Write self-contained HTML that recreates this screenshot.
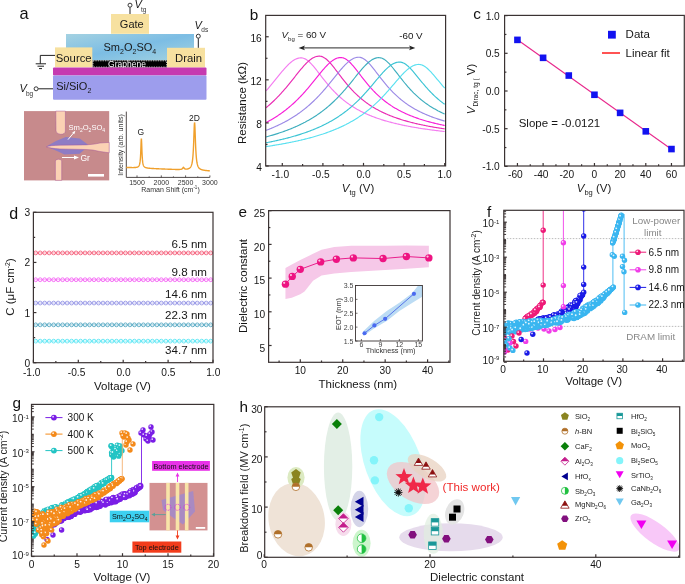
<!DOCTYPE html>
<html><head><meta charset="utf-8"><style>
html,body{margin:0;padding:0;background:#fff;width:685px;height:584px;overflow:hidden}
svg{display:block;will-change:transform}
text{font-family:"Liberation Sans", sans-serif}
</style></head><body>
<svg width="685" height="584" viewBox="0 0 685 584">
<rect width="685" height="584" fill="#fff"/>
<defs><g id="mee1a78_2p7"><circle r="2.7" fill="#ee1a78"/><circle cx="-0.8" cy="-0.9" r="0.9" fill="#fff" opacity="0.85"/></g><g id="m1a1ae6_2p7"><circle r="2.7" fill="#1a1ae6"/><circle cx="-0.8" cy="-0.9" r="0.9" fill="#fff" opacity="0.85"/></g><g id="mf03ee8_2p7"><circle r="2.7" fill="#f03ee8"/><circle cx="-0.8" cy="-0.9" r="0.9" fill="#fff" opacity="0.85"/></g><g id="m3ab6f0_2p7"><circle r="2.7" fill="#3ab6f0"/><circle cx="-0.8" cy="-0.9" r="0.9" fill="#fff" opacity="0.85"/></g><g id="mee1a78_2p8"><circle r="2.8" fill="#ee1a78"/><circle cx="-0.8" cy="-0.9" r="0.9" fill="#fff" opacity="0.85"/></g><g id="mf03ee8_2p8"><circle r="2.8" fill="#f03ee8"/><circle cx="-0.8" cy="-0.9" r="0.9" fill="#fff" opacity="0.85"/></g><g id="m1a1ae6_2p8"><circle r="2.8" fill="#1a1ae6"/><circle cx="-0.8" cy="-0.9" r="0.9" fill="#fff" opacity="0.85"/></g><g id="m3ab6f0_2p8"><circle r="2.8" fill="#3ab6f0"/><circle cx="-0.8" cy="-0.9" r="0.9" fill="#fff" opacity="0.85"/></g><g id="m22c4c4_2p7"><circle r="2.7" fill="#22c4c4"/><circle cx="-0.8" cy="-0.9" r="0.9" fill="#fff" opacity="0.85"/></g><g id="m7a1ee6_2p7"><circle r="2.7" fill="#7a1ee6"/><circle cx="-0.8" cy="-0.9" r="0.9" fill="#fff" opacity="0.85"/></g><g id="mf48a1a_2p7"><circle r="2.7" fill="#f48a1a"/><circle cx="-0.8" cy="-0.9" r="0.9" fill="#fff" opacity="0.85"/></g><g id="m7a1ee6_2p9"><circle r="2.9" fill="#7a1ee6"/><circle cx="-0.8" cy="-0.9" r="0.9" fill="#fff" opacity="0.85"/></g><g id="mf48a1a_2p9"><circle r="2.9" fill="#f48a1a"/><circle cx="-0.8" cy="-0.9" r="0.9" fill="#fff" opacity="0.85"/></g><g id="m22c4c4_2p9"><circle r="2.9" fill="#22c4c4"/><circle cx="-0.8" cy="-0.9" r="0.9" fill="#fff" opacity="0.85"/></g></defs>
<text x="19.6" y="19.1" font-size="16.4" text-anchor="start" fill="#111" >a</text>
<defs><linearGradient id="smg" x1="0" y1="0" x2="1" y2="1"><stop offset="0" stop-color="#a4d2e2"/><stop offset="0.5" stop-color="#7cbde4"/><stop offset="1" stop-color="#a6d4e0"/></linearGradient></defs>
<rect x="66" y="34" width="128" height="26.5" fill="url(#smg)" stroke="none" stroke-width="1" />
<rect x="111" y="14" width="38" height="19.8" fill="#f7e1a0" stroke="none" stroke-width="1" />
<text x="131.8" y="28" font-size="11" text-anchor="middle" fill="#1a1a1a" >Gate</text>
<line x1="130" y1="14" x2="130" y2="7.3" stroke="#222" stroke-width="1" />
<circle cx="130" cy="5.2" r="2" fill="#fff" stroke="#222" stroke-width="0.9" />
<text x="134.5" y="8" font-size="11" text-anchor="start" fill="#1a1a1a" font-style="italic">V</text>
<text x="141" y="12.3" font-size="6.5" text-anchor="start" fill="#333" >tg</text>
<text x="103.5" y="51.3" font-size="11" fill="#1a1a1a">Sm<tspan font-size="7" dy="3">2</tspan><tspan dy="-3">O</tspan><tspan font-size="7" dy="3">2</tspan><tspan dy="-3">SO</tspan><tspan font-size="7" dy="3">4</tspan></text>
<rect x="92.5" y="60.3" width="74.5" height="7.2" fill="#000" stroke="none" stroke-width="1" />
<rect x="93" y="60.8" width="73.5" height="6.2" fill="none" stroke="#fff" stroke-width="0.7" stroke-dasharray="1.3 1.1"/>
<text x="127" y="67" font-size="8.5" text-anchor="middle" fill="#fff" >Graphene</text>
<rect x="55" y="47.4" width="37.3" height="19.9" fill="#f7e1a0" stroke="none" stroke-width="1" />
<text x="55.8" y="62" font-size="11.3" text-anchor="start" fill="#1a1a1a" >Source</text>
<rect x="167" y="47.8" width="38" height="19.7" fill="#f7e1a0" stroke="none" stroke-width="1" />
<text x="175" y="61.7" font-size="11.3" text-anchor="start" fill="#1a1a1a" >Drain</text>
<line x1="198.3" y1="47.8" x2="198.3" y2="38.2" stroke="#222" stroke-width="1" />
<circle cx="198.3" cy="36.2" r="2" fill="#fff" stroke="#222" stroke-width="0.9" />
<text x="194.5" y="28.5" font-size="11" text-anchor="start" fill="#1a1a1a" font-style="italic">V</text>
<text x="201.3" y="32.3" font-size="6.5" text-anchor="start" fill="#333" >ds</text>
<path d="M55 55.4 H40.3 V63.8" fill="none" stroke="#222" stroke-width="1" />
<line x1="35.7" y1="63.8" x2="46" y2="63.8" stroke="#222" stroke-width="1" />
<line x1="37.5" y1="66.2" x2="44" y2="66.2" stroke="#222" stroke-width="1" />
<line x1="39" y1="68.6" x2="42" y2="68.6" stroke="#222" stroke-width="1" />
<rect x="53" y="67.6" width="153.5" height="8" fill="#c63ab0" stroke="none" stroke-width="1" rx="1"/>
<rect x="53" y="75.5" width="153.5" height="24.2" fill="#9d9ded" stroke="none" stroke-width="1" rx="1"/>
<text x="56.2" y="90.4" font-size="11" fill="#1a1a1a">Si/SiO<tspan font-size="7" dy="3">2</tspan></text>
<line x1="38.2" y1="88.8" x2="53" y2="88.8" stroke="#222" stroke-width="1" />
<circle cx="36.1" cy="88.8" r="2" fill="#fff" stroke="#222" stroke-width="0.9" />
<text x="19.5" y="92" font-size="11" text-anchor="start" fill="#1a1a1a" font-style="italic">V</text>
<text x="26" y="96" font-size="6.5" text-anchor="start" fill="#333" >bg</text>
<rect x="24" y="111.1" width="85.2" height="69.3" fill="#c78a8c" stroke="none" stroke-width="1" />
<path d="M46.3 146.6 L56 141 L65.8 137 L79.7 138.6 L88.5 145 L84 150 L79.7 153.7 L64.4 154.5 L57 151 Z" fill="#8e7cc4" stroke="none" stroke-width="1" />
<path d="M55.8 111.1 H65.4 V131 Q65 134.5 60.5 134.3 Q56.3 134 56 131 Z" fill="#fbd2b4" stroke="#a0509a" stroke-width="0.45" />
<path d="M55.4 161 Q55.6 159.2 58.5 159.2 Q61.7 159.3 61.7 161 V180.4 H55.4 Z" fill="#fbd2b4" stroke="#a0509a" stroke-width="0.45" />
<path d="M46.3 146.8 Q50 145.4 60 145.2 L86 144.9 Q96 144.2 100 143 L109.2 142.4 V152.8 L100 151.5 Q93 149.6 86 149.5 L60 148.9 Q50 148.4 46.3 146.8 Z" fill="#fbd2b4" stroke="#a0509a" stroke-width="0.45" />
<text x="68.5" y="130" font-size="7.6" fill="#fff">Sm<tspan font-size="5" dy="2">2</tspan><tspan dy="-2">O</tspan><tspan font-size="5" dy="2">2</tspan><tspan dy="-2">SO</tspan><tspan font-size="5" dy="2">4</tspan></text>
<line x1="68" y1="139.6" x2="74.5" y2="131.8" stroke="#fff" stroke-width="1" />
<path d="M75.3 130.8 L72.2 132.4 L74.3 134.2 Z" fill="#fff" stroke="none" stroke-width="1" />
<line x1="62" y1="157.5" x2="75" y2="157.5" stroke="#fff" stroke-width="1" />
<path d="M79 157.5 L74 155.4 L74 159.6 Z" fill="#fff" stroke="none" stroke-width="1" />
<text x="80.5" y="160.7" font-size="8.5" text-anchor="start" fill="#fff" >Gr</text>
<rect x="88" y="174" width="16" height="2.6" fill="#fff" stroke="none" stroke-width="1" />
<line x1="126.3" y1="111.6" x2="126.3" y2="177.4" stroke="#3b3333" stroke-width="0.9" />
<line x1="126.3" y1="177.4" x2="209.8" y2="177.4" stroke="#3b3333" stroke-width="0.9" />
<line x1="137" y1="177.4" x2="137" y2="175.4" stroke="#3b3333" stroke-width="0.8" />
<text x="137" y="184.7" font-size="7" text-anchor="middle" fill="#333" >1500</text>
<line x1="161.3" y1="177.4" x2="161.3" y2="175.4" stroke="#3b3333" stroke-width="0.8" />
<text x="161.3" y="184.7" font-size="7" text-anchor="middle" fill="#333" >2000</text>
<line x1="185.6" y1="177.4" x2="185.6" y2="175.4" stroke="#3b3333" stroke-width="0.8" />
<text x="185.6" y="184.7" font-size="7" text-anchor="middle" fill="#333" >2500</text>
<line x1="209.9" y1="177.4" x2="209.9" y2="175.4" stroke="#3b3333" stroke-width="0.8" />
<text x="209.9" y="184.7" font-size="7" text-anchor="middle" fill="#333" >3000</text>
<line x1="149.15" y1="177.4" x2="149.15" y2="176.2" stroke="#3b3333" stroke-width="0.6" />
<line x1="173.45" y1="177.4" x2="173.45" y2="176.2" stroke="#3b3333" stroke-width="0.6" />
<line x1="197.75" y1="177.4" x2="197.75" y2="176.2" stroke="#3b3333" stroke-width="0.6" />
<text x="170.5" y="192" font-size="7" text-anchor="middle" fill="#333">Raman Shift (cm<tspan font-size="4.5" dy="-3">-1</tspan><tspan dy="3">)</tspan></text>
<text x="0" y="0" font-size="7" text-anchor="middle" fill="#333" transform="translate(122.5 145) rotate(-90)">Intensity (arb. units)</text>
<path d="M126.3 167.43 L126.49 167.43 L126.69 167.44 L126.88 167.45 L127.08 167.45 L127.27 167.46 L127.47 167.47 L127.66 167.47 L127.86 167.48 L128.05 167.49 L128.24 167.49 L128.44 167.5 L128.63 167.5 L128.83 167.51 L129.02 167.51 L129.22 167.52 L129.41 167.53 L129.6 167.53 L129.8 167.54 L129.99 167.54 L130.19 167.54 L130.38 167.55 L130.58 167.55 L130.77 167.56 L130.97 167.56 L131.16 167.56 L131.35 167.57 L131.55 167.57 L131.74 167.57 L131.94 167.58 L132.13 167.58 L132.33 167.58 L132.52 167.58 L132.72 167.58 L132.91 167.58 L133.1 167.58 L133.3 167.58 L133.49 167.58 L133.69 167.57 L133.88 167.57 L134.08 167.56 L134.27 167.56 L134.46 167.55 L134.66 167.54 L134.85 167.53 L135.05 167.52 L135.24 167.51 L135.44 167.49 L135.63 167.48 L135.83 167.46 L136.02 167.43 L136.21 167.4 L136.41 167.37 L136.6 167.34 L136.8 167.29 L136.99 167.25 L137.19 167.19 L137.38 167.12 L137.58 167.05 L137.77 166.96 L137.96 166.85 L138.16 166.72 L138.35 166.57 L138.55 166.38 L138.74 166.16 L138.94 165.88 L139.13 165.53 L139.32 165.09 L139.52 164.52 L139.71 163.78 L139.91 162.79 L140.1 161.44 L140.3 159.58 L140.49 156.97 L140.69 153.35 L140.88 148.57 L141.07 143.19 L141.27 139.21 L141.46 139.22 L141.66 143.22 L141.85 148.62 L142.05 153.41 L142.24 157.05 L142.44 159.67 L142.63 161.55 L142.82 162.91 L143.02 163.92 L143.21 164.68 L143.41 165.26 L143.6 165.72 L143.8 166.09 L143.99 166.38 L144.18 166.62 L144.38 166.82 L144.57 166.99 L144.77 167.14 L144.96 167.26 L145.16 167.37 L145.35 167.46 L145.55 167.54 L145.74 167.62 L145.93 167.68 L146.13 167.74 L146.32 167.79 L146.52 167.84 L146.71 167.88 L146.91 167.92 L147.1 167.96 L147.3 167.99 L147.49 168.03 L147.68 168.06 L147.88 168.08 L148.07 168.11 L148.27 168.14 L148.46 168.16 L148.66 168.18 L148.85 168.2 L149.04 168.22 L149.24 168.24 L149.43 168.26 L149.63 168.28 L149.82 168.29 L150.02 168.31 L150.21 168.33 L150.41 168.34 L150.6 168.36 L150.79 168.37 L150.99 168.39 L151.18 168.4 L151.38 168.41 L151.57 168.43 L151.77 168.44 L151.96 168.45 L152.16 168.46 L152.35 168.48 L152.54 168.49 L152.74 168.5 L152.93 168.51 L153.13 168.52 L153.32 168.53 L153.52 168.55 L153.71 168.56 L153.9 168.57 L154.1 168.58 L154.29 168.59 L154.49 168.6 L154.68 168.61 L154.88 168.62 L155.07 168.63 L155.27 168.64 L155.46 168.65 L155.65 168.66 L155.85 168.67 L156.04 168.68 L156.24 168.69 L156.43 168.7 L156.63 168.71 L156.82 168.72 L157.02 168.73 L157.21 168.74 L157.4 168.74 L157.6 168.75 L157.79 168.76 L157.99 168.77 L158.18 168.78 L158.38 168.79 L158.57 168.8 L158.76 168.81 L158.96 168.82 L159.15 168.83 L159.35 168.83 L159.54 168.84 L159.74 168.85 L159.93 168.86 L160.13 168.87 L160.32 168.88 L160.51 168.89 L160.71 168.89 L160.9 168.9 L161.1 168.91 L161.29 168.92 L161.49 168.93 L161.68 168.94 L161.88 168.94 L162.07 168.95 L162.26 168.96 L162.46 168.97 L162.65 168.98 L162.85 168.99 L163.04 168.99 L163.24 169 L163.43 169.01 L163.62 169.02 L163.82 169.03 L164.01 169.03 L164.21 169.04 L164.4 169.05 L164.6 169.06 L164.79 169.07 L164.99 169.07 L165.18 169.08 L165.37 169.09 L165.57 169.1 L165.76 169.11 L165.96 169.11 L166.15 169.12 L166.35 169.13 L166.54 169.14 L166.74 169.14 L166.93 169.15 L167.12 169.16 L167.32 169.17 L167.51 169.17 L167.71 169.18 L167.9 169.19 L168.1 169.2 L168.29 169.2 L168.48 169.21 L168.68 169.22 L168.87 169.22 L169.07 169.23 L169.26 169.24 L169.46 169.25 L169.65 169.25 L169.85 169.26 L170.04 169.27 L170.23 169.27 L170.43 169.28 L170.62 169.29 L170.82 169.29 L171.01 169.3 L171.21 169.31 L171.4 169.31 L171.6 169.32 L171.79 169.33 L171.98 169.33 L172.18 169.34 L172.37 169.35 L172.57 169.35 L172.76 169.36 L172.96 169.36 L173.15 169.37 L173.34 169.37 L173.54 169.38 L173.73 169.39 L173.93 169.39 L174.12 169.4 L174.32 169.4 L174.51 169.41 L174.71 169.41 L174.9 169.42 L175.09 169.42 L175.29 169.43 L175.48 169.43 L175.68 169.43 L175.87 169.44 L176.07 169.44 L176.26 169.45 L176.46 169.45 L176.65 169.45 L176.84 169.45 L177.04 169.46 L177.23 169.46 L177.43 169.46 L177.62 169.46 L177.82 169.46 L178.01 169.46 L178.2 169.46 L178.4 169.46 L178.59 169.46 L178.79 169.46 L178.98 169.45 L179.18 169.45 L179.37 169.44 L179.57 169.43 L179.76 169.42 L179.95 169.41 L180.15 169.4 L180.34 169.38 L180.54 169.36 L180.73 169.34 L180.93 169.31 L181.12 169.27 L181.32 169.22 L181.51 169.16 L181.7 169.09 L181.9 168.99 L182.09 168.87 L182.29 168.71 L182.48 168.5 L182.68 168.24 L182.87 167.93 L183.06 167.62 L183.26 167.38 L183.45 167.32 L183.65 167.47 L183.84 167.74 L184.04 168.04 L184.23 168.32 L184.43 168.54 L184.62 168.71 L184.81 168.83 L185.01 168.93 L185.2 168.99 L185.4 169.04 L185.59 169.07 L185.79 169.09 L185.98 169.11 L186.18 169.11 L186.37 169.1 L186.56 169.09 L186.76 169.08 L186.95 169.06 L187.15 169.03 L187.34 168.99 L187.54 168.96 L187.73 168.91 L187.92 168.86 L188.12 168.8 L188.31 168.74 L188.51 168.67 L188.7 168.59 L188.9 168.5 L189.09 168.39 L189.29 168.28 L189.48 168.15 L189.67 168.01 L189.87 167.84 L190.06 167.66 L190.26 167.45 L190.45 167.21 L190.65 166.94 L190.84 166.62 L191.04 166.26 L191.23 165.83 L191.42 165.34 L191.62 164.76 L191.81 164.07 L192.01 163.25 L192.2 162.26 L192.4 161.06 L192.59 159.6 L192.78 157.8 L192.98 155.58 L193.17 152.82 L193.37 149.42 L193.56 145.26 L193.76 140.33 L193.95 134.82 L194.15 129.28 L194.34 124.77 L194.53 122.52 L194.73 123.31 L194.92 126.85 L195.12 132.05 L195.31 137.69 L195.51 142.97 L195.7 147.54 L195.9 151.33 L196.09 154.41 L196.28 156.91 L196.48 158.92 L196.67 160.56 L196.87 161.9 L197.06 163 L197.26 163.92 L197.45 164.69 L197.64 165.34 L197.84 165.9 L198.03 166.37 L198.23 166.78 L198.42 167.14 L198.62 167.45 L198.81 167.73 L199.01 167.97 L199.2 168.19 L199.39 168.38 L199.59 168.55 L199.78 168.71 L199.98 168.85 L200.17 168.98 L200.37 169.09 L200.56 169.2 L200.76 169.3 L200.95 169.39 L201.14 169.47 L201.34 169.55 L201.53 169.62 L201.73 169.69 L201.92 169.75 L202.12 169.81 L202.31 169.86 L202.5 169.91 L202.7 169.96 L202.89 170.01 L203.09 170.05 L203.28 170.09 L203.48 170.13 L203.67 170.17 L203.87 170.2 L204.06 170.24 L204.25 170.27 L204.45 170.3 L204.64 170.33 L204.84 170.36 L205.03 170.39 L205.23 170.41 L205.42 170.44 L205.62 170.46 L205.81 170.49 L206 170.51 L206.2 170.53 L206.39 170.55 L206.59 170.57 L206.78 170.59 L206.98 170.61 L207.17 170.63 L207.36 170.65 L207.56 170.67 L207.75 170.69 L207.95 170.71 L208.14 170.72 L208.34 170.74 L208.53 170.76 L208.73 170.77 L208.92 170.79 L209.11 170.8 L209.31 170.82 L209.5 170.83 L209.7 170.85 L209.89 170.86" fill="none" stroke="#f0a02c" stroke-width="1.4" />
<text x="140.8" y="135" font-size="8.5" text-anchor="middle" fill="#1a1a1a" >G</text>
<text x="194.5" y="120.9" font-size="8.5" text-anchor="middle" fill="#1a1a1a" >2D</text>
<text x="249.8" y="20.3" font-size="15.3" text-anchor="start" fill="#111" >b</text>
<clipPath id="cb"><rect x="265.7" y="15.4" width="179.90000000000003" height="150.5"/></clipPath>
<path d="M266.06 90.89 L266.87 89.96 L267.68 89.02 L268.5 88.07 L269.31 87.11 L270.12 86.15 L270.93 85.17 L271.74 84.18 L272.56 83.19 L273.37 82.2 L274.18 81.2 L274.99 80.19 L275.8 79.18 L276.62 78.18 L277.43 77.17 L278.24 76.16 L279.05 75.16 L279.86 74.16 L280.68 73.17 L281.49 72.19 L282.3 71.23 L283.11 70.27 L283.92 69.33 L284.74 68.41 L285.55 67.51 L286.36 66.64 L287.17 65.79 L287.98 64.97 L288.8 64.18 L289.61 63.43 L290.42 62.71 L291.23 62.03 L292.04 61.4 L292.86 60.81 L293.67 60.27 L294.48 59.78 L295.29 59.34 L296.1 58.95 L296.92 58.63 L297.73 58.36 L298.54 58.14 L299.35 57.99 L300.16 57.9 L300.98 57.87 L301.79 57.91 L302.6 58.04 L303.41 58.24 L304.22 58.53 L305.04 58.89 L305.85 59.33 L306.66 59.84 L307.47 60.42 L308.28 61.06 L309.1 61.77 L309.91 62.52 L310.72 63.33 L311.53 64.18 L312.34 65.07 L313.16 65.99 L313.97 66.95 L314.78 67.93 L315.59 68.93 L316.4 69.95 L317.22 70.99 L318.03 72.03 L318.84 73.08 L319.65 74.13 L320.46 75.19 L321.28 76.24 L322.09 77.29 L322.9 78.33 L323.71 79.37 L324.52 80.39 L325.34 81.4 L326.15 82.41 L326.96 83.39 L327.77 84.37 L328.58 85.33 L329.4 86.27 L330.21 87.2 L331.02 88.11 L331.83 89.01 L332.64 89.89 L333.46 90.75 L334.27 91.6 L335.08 92.43 L335.89 93.24 L336.7 94.03 L337.52 94.81 L338.33 95.57 L339.14 96.32 L339.95 97.05 L340.76 97.76 L341.58 98.46 L342.39 99.15 L343.2 99.82 L344.01 100.47 L344.82 101.11 L345.64 101.74 L346.45 102.35 L347.26 102.95 L348.07 103.54 L348.88 104.11 L349.7 104.67 L350.51 105.22 L351.32 105.76 L352.13 106.29 L352.94 106.8 L353.76 107.3 L354.57 107.8 L355.38 108.28 L356.19 108.75 L357 109.22 L357.82 109.67 L358.63 110.11 L359.44 110.55 L360.25 110.98 L361.06 111.39 L361.88 111.8 L362.69 112.2 L363.5 112.6 L364.31 112.98 L365.12 113.36 L365.94 113.73 L366.75 114.09 L367.56 114.45 L368.37 114.8 L369.18 115.14 L370 115.48 L370.81 115.8 L371.62 116.13 L372.43 116.45 L373.24 116.76 L374.06 117.06 L374.87 117.36 L375.68 117.66 L376.49 117.95 L377.3 118.23 L378.12 118.51 L378.93 118.79 L379.74 119.06 L380.55 119.32 L381.36 119.59 L382.18 119.84 L382.99 120.09 L383.8 120.34 L384.61 120.59 L385.42 120.83 L386.24 121.06 L387.05 121.29 L387.86 121.52 L388.67 121.75 L389.48 121.97 L390.3 122.18 L391.11 122.4 L391.92 122.61 L392.73 122.81 L393.54 123.02 L394.36 123.22 L395.17 123.42 L395.98 123.61 L396.79 123.8 L397.6 123.99 L398.42 124.18 L399.23 124.36 L400.04 124.54 L400.85 124.72 L401.66 124.9 L402.48 125.07 L403.29 125.24 L404.1 125.41 L404.91 125.57 L405.72 125.74 L406.54 125.9 L407.35 126.06 L408.16 126.21 L408.97 126.37 L409.78 126.52 L410.6 126.67 L411.41 126.82 L412.22 126.96 L413.03 127.11 L413.84 127.25 L414.66 127.39 L415.47 127.53 L416.28 127.67 L417.09 127.8 L417.9 127.94 L418.72 128.07 L419.53 128.2 L420.34 128.33 L421.15 128.45 L421.96 128.58 L422.78 128.7 L423.59 128.82 L424.4 128.94 L425.21 129.06 L426.02 129.18 L426.84 129.3 L427.65 129.41 L428.46 129.53 L429.27 129.64 L430.08 129.75 L430.9 129.86 L431.71 129.97 L432.52 130.07 L433.33 130.18 L434.14 130.28 L434.96 130.39 L435.77 130.49 L436.58 130.59 L437.39 130.69 L438.2 130.79 L439.02 130.89 L439.83 130.98 L440.64 131.08 L441.45 131.17 L442.26 131.27 L443.08 131.36 L443.89 131.45 L444.7 131.54" fill="none" stroke="#f47cf0" stroke-width="1.15" clip-path="url(#cb)"/>
<path d="M266.06 107.71 L266.87 107.04 L267.68 106.36 L268.5 105.66 L269.31 104.96 L270.12 104.24 L270.93 103.51 L271.74 102.77 L272.56 102.01 L273.37 101.25 L274.18 100.47 L274.99 99.67 L275.8 98.87 L276.62 98.05 L277.43 97.22 L278.24 96.38 L279.05 95.53 L279.86 94.66 L280.68 93.78 L281.49 92.89 L282.3 91.99 L283.11 91.07 L283.92 90.14 L284.74 89.21 L285.55 88.26 L286.36 87.3 L287.17 86.33 L287.98 85.35 L288.8 84.36 L289.61 83.37 L290.42 82.36 L291.23 81.35 L292.04 80.34 L292.86 79.32 L293.67 78.3 L294.48 77.28 L295.29 76.25 L296.1 75.23 L296.92 74.21 L297.73 73.2 L298.54 72.19 L299.35 71.19 L300.16 70.2 L300.98 69.22 L301.79 68.26 L302.6 67.32 L303.41 66.39 L304.22 65.49 L305.04 64.61 L305.85 63.77 L306.66 62.95 L307.47 62.17 L308.28 61.42 L309.1 60.71 L309.91 60.05 L310.72 59.42 L311.53 58.85 L312.34 58.33 L313.16 57.85 L313.97 57.44 L314.78 57.07 L315.59 56.77 L316.4 56.52 L317.22 56.34 L318.03 56.22 L318.84 56.15 L319.65 56.16 L320.46 56.24 L321.28 56.41 L322.09 56.66 L322.9 56.99 L323.71 57.4 L324.52 57.89 L325.34 58.44 L326.15 59.07 L326.96 59.75 L327.77 60.5 L328.58 61.29 L329.4 62.14 L330.21 63.02 L331.02 63.95 L331.83 64.91 L332.64 65.89 L333.46 66.91 L334.27 67.94 L335.08 68.98 L335.89 70.04 L336.7 71.11 L337.52 72.18 L338.33 73.26 L339.14 74.33 L339.95 75.4 L340.76 76.47 L341.58 77.53 L342.39 78.58 L343.2 79.62 L344.01 80.64 L344.82 81.66 L345.64 82.66 L346.45 83.64 L347.26 84.61 L348.07 85.57 L348.88 86.51 L349.7 87.43 L350.51 88.33 L351.32 89.22 L352.13 90.09 L352.94 90.94 L353.76 91.78 L354.57 92.6 L355.38 93.4 L356.19 94.18 L357 94.95 L357.82 95.71 L358.63 96.44 L359.44 97.16 L360.25 97.87 L361.06 98.56 L361.88 99.23 L362.69 99.89 L363.5 100.54 L364.31 101.17 L365.12 101.79 L365.94 102.39 L366.75 102.98 L367.56 103.56 L368.37 104.13 L369.18 104.68 L370 105.22 L370.81 105.75 L371.62 106.27 L372.43 106.78 L373.24 107.28 L374.06 107.76 L374.87 108.24 L375.68 108.71 L376.49 109.16 L377.3 109.61 L378.12 110.05 L378.93 110.48 L379.74 110.9 L380.55 111.31 L381.36 111.72 L382.18 112.12 L382.99 112.5 L383.8 112.89 L384.61 113.26 L385.42 113.62 L386.24 113.98 L387.05 114.34 L387.86 114.68 L388.67 115.02 L389.48 115.35 L390.3 115.68 L391.11 116 L391.92 116.32 L392.73 116.63 L393.54 116.93 L394.36 117.23 L395.17 117.52 L395.98 117.81 L396.79 118.09 L397.6 118.37 L398.42 118.64 L399.23 118.91 L400.04 119.17 L400.85 119.43 L401.66 119.69 L402.48 119.94 L403.29 120.18 L404.1 120.43 L404.91 120.66 L405.72 120.9 L406.54 121.13 L407.35 121.36 L408.16 121.58 L408.97 121.8 L409.78 122.02 L410.6 122.23 L411.41 122.44 L412.22 122.64 L413.03 122.85 L413.84 123.05 L414.66 123.24 L415.47 123.44 L416.28 123.63 L417.09 123.82 L417.9 124 L418.72 124.19 L419.53 124.37 L420.34 124.54 L421.15 124.72 L421.96 124.89 L422.78 125.06 L423.59 125.23 L424.4 125.39 L425.21 125.56 L426.02 125.72 L426.84 125.88 L427.65 126.03 L428.46 126.19 L429.27 126.34 L430.08 126.49 L430.9 126.64 L431.71 126.78 L432.52 126.93 L433.33 127.07 L434.14 127.21 L434.96 127.35 L435.77 127.48 L436.58 127.62 L437.39 127.75 L438.2 127.88 L439.02 128.01 L439.83 128.14 L440.64 128.27 L441.45 128.39 L442.26 128.52 L443.08 128.64 L443.89 128.76 L444.7 128.88" fill="none" stroke="#ea2cb4" stroke-width="1.15" clip-path="url(#cb)"/>
<path d="M266.06 122.56 L266.87 122.13 L267.68 121.7 L268.5 121.26 L269.31 120.81 L270.12 120.35 L270.93 119.89 L271.74 119.42 L272.56 118.94 L273.37 118.45 L274.18 117.96 L274.99 117.46 L275.8 116.94 L276.62 116.42 L277.43 115.9 L278.24 115.36 L279.05 114.81 L279.86 114.26 L280.68 113.69 L281.49 113.12 L282.3 112.53 L283.11 111.94 L283.92 111.33 L284.74 110.72 L285.55 110.09 L286.36 109.45 L287.17 108.81 L287.98 108.15 L288.8 107.48 L289.61 106.8 L290.42 106.11 L291.23 105.4 L292.04 104.69 L292.86 103.96 L293.67 103.22 L294.48 102.47 L295.29 101.71 L296.1 100.93 L296.92 100.14 L297.73 99.34 L298.54 98.53 L299.35 97.7 L300.16 96.87 L300.98 96.02 L301.79 95.15 L302.6 94.28 L303.41 93.39 L304.22 92.5 L305.04 91.59 L305.85 90.66 L306.66 89.73 L307.47 88.79 L308.28 87.84 L309.1 86.87 L309.91 85.9 L310.72 84.92 L311.53 83.94 L312.34 82.94 L313.16 81.94 L313.97 80.94 L314.78 79.93 L315.59 78.92 L316.4 77.91 L317.22 76.9 L318.03 75.89 L318.84 74.89 L319.65 73.89 L320.46 72.9 L321.28 71.91 L322.09 70.94 L322.9 69.98 L323.71 69.04 L324.52 68.12 L325.34 67.22 L326.15 66.34 L326.96 65.49 L327.77 64.66 L328.58 63.87 L329.4 63.12 L330.21 62.4 L331.02 61.72 L331.83 61.09 L332.64 60.49 L333.46 59.95 L334.27 59.46 L335.08 59.02 L335.89 58.63 L336.7 58.31 L337.52 58.03 L338.33 57.82 L339.14 57.67 L339.95 57.58 L340.76 57.55 L341.58 57.59 L342.39 57.71 L343.2 57.92 L344.01 58.21 L344.82 58.57 L345.64 59.01 L346.45 59.53 L347.26 60.11 L348.07 60.75 L348.88 61.46 L349.7 62.21 L350.51 63.02 L351.32 63.88 L352.13 64.77 L352.94 65.7 L353.76 66.66 L354.57 67.64 L355.38 68.65 L356.19 69.67 L357 70.71 L357.82 71.76 L358.63 72.81 L359.44 73.87 L360.25 74.93 L361.06 75.98 L361.88 77.03 L362.69 78.08 L363.5 79.12 L364.31 80.15 L365.12 81.17 L365.94 82.17 L366.75 83.16 L367.56 84.14 L368.37 85.1 L369.18 86.05 L370 86.98 L370.81 87.9 L371.62 88.8 L372.43 89.68 L373.24 90.55 L374.06 91.39 L374.87 92.23 L375.68 93.04 L376.49 93.84 L377.3 94.62 L378.12 95.39 L378.93 96.13 L379.74 96.87 L380.55 97.58 L381.36 98.29 L382.18 98.97 L382.99 99.64 L383.8 100.3 L384.61 100.94 L385.42 101.57 L386.24 102.19 L387.05 102.79 L387.86 103.38 L388.67 103.95 L389.48 104.52 L390.3 105.07 L391.11 105.61 L391.92 106.14 L392.73 106.65 L393.54 107.16 L394.36 107.65 L395.17 108.14 L395.98 108.61 L396.79 109.08 L397.6 109.53 L398.42 109.98 L399.23 110.41 L400.04 110.84 L400.85 111.26 L401.66 111.67 L402.48 112.07 L403.29 112.47 L404.1 112.85 L404.91 113.23 L405.72 113.61 L406.54 113.97 L407.35 114.33 L408.16 114.68 L408.97 115.02 L409.78 115.36 L410.6 115.69 L411.41 116.01 L412.22 116.33 L413.03 116.65 L413.84 116.95 L414.66 117.25 L415.47 117.55 L416.28 117.84 L417.09 118.13 L417.9 118.41 L418.72 118.68 L419.53 118.96 L420.34 119.22 L421.15 119.48 L421.96 119.74 L422.78 119.99 L423.59 120.24 L424.4 120.49 L425.21 120.73 L426.02 120.96 L426.84 121.2 L427.65 121.43 L428.46 121.65 L429.27 121.87 L430.08 122.09 L430.9 122.31 L431.71 122.52 L432.52 122.72 L433.33 122.93 L434.14 123.13 L434.96 123.33 L435.77 123.52 L436.58 123.72 L437.39 123.91 L438.2 124.09 L439.02 124.28 L439.83 124.46 L440.64 124.64 L441.45 124.81 L442.26 124.99 L443.08 125.16 L443.89 125.33 L444.7 125.49" fill="none" stroke="#f81ed8" stroke-width="1.15" clip-path="url(#cb)"/>
<path d="M266.06 130.35 L266.87 130.04 L267.68 129.73 L268.5 129.42 L269.31 129.1 L270.12 128.77 L270.93 128.44 L271.74 128.11 L272.56 127.77 L273.37 127.42 L274.18 127.07 L274.99 126.72 L275.8 126.35 L276.62 125.99 L277.43 125.62 L278.24 125.24 L279.05 124.85 L279.86 124.46 L280.68 124.07 L281.49 123.67 L282.3 123.26 L283.11 122.84 L283.92 122.42 L284.74 121.99 L285.55 121.56 L286.36 121.12 L287.17 120.67 L287.98 120.21 L288.8 119.74 L289.61 119.27 L290.42 118.79 L291.23 118.3 L292.04 117.81 L292.86 117.3 L293.67 116.79 L294.48 116.27 L295.29 115.74 L296.1 115.2 L296.92 114.65 L297.73 114.1 L298.54 113.53 L299.35 112.95 L300.16 112.37 L300.98 111.77 L301.79 111.16 L302.6 110.55 L303.41 109.92 L304.22 109.28 L305.04 108.63 L305.85 107.97 L306.66 107.3 L307.47 106.62 L308.28 105.92 L309.1 105.22 L309.91 104.5 L310.72 103.77 L311.53 103.03 L312.34 102.28 L313.16 101.51 L313.97 100.73 L314.78 99.94 L315.59 99.14 L316.4 98.32 L317.22 97.5 L318.03 96.66 L318.84 95.8 L319.65 94.94 L320.46 94.06 L321.28 93.17 L322.09 92.27 L322.9 91.36 L323.71 90.44 L324.52 89.5 L325.34 88.56 L326.15 87.6 L326.96 86.64 L327.77 85.66 L328.58 84.68 L329.4 83.69 L330.21 82.69 L331.02 81.69 L331.83 80.68 L332.64 79.67 L333.46 78.66 L334.27 77.65 L335.08 76.63 L335.89 75.62 L336.7 74.61 L337.52 73.61 L338.33 72.62 L339.14 71.63 L339.95 70.66 L340.76 69.7 L341.58 68.75 L342.39 67.83 L343.2 66.92 L344.01 66.04 L344.82 65.19 L345.64 64.36 L346.45 63.57 L347.26 62.81 L348.07 62.09 L348.88 61.41 L349.7 60.77 L350.51 60.18 L351.32 59.64 L352.13 59.14 L352.94 58.7 L353.76 58.31 L354.57 57.98 L355.38 57.71 L356.19 57.5 L357 57.35 L357.82 57.25 L358.63 57.22 L359.44 57.26 L360.25 57.39 L361.06 57.6 L361.88 57.89 L362.69 58.25 L363.5 58.7 L364.31 59.21 L365.12 59.79 L365.94 60.44 L366.75 61.15 L367.56 61.91 L368.37 62.72 L369.18 63.58 L370 64.47 L370.81 65.4 L371.62 66.37 L372.43 67.35 L373.24 68.36 L374.06 69.39 L374.87 70.43 L375.68 71.48 L376.49 72.54 L377.3 73.6 L378.12 74.67 L378.93 75.73 L379.74 76.78 L380.55 77.83 L381.36 78.87 L382.18 79.91 L382.99 80.93 L383.8 81.94 L384.61 82.93 L385.42 83.91 L386.24 84.88 L387.05 85.83 L387.86 86.77 L388.67 87.68 L389.48 88.59 L390.3 89.47 L391.11 90.34 L391.92 91.19 L392.73 92.03 L393.54 92.84 L394.36 93.65 L395.17 94.43 L395.98 95.2 L396.79 95.95 L397.6 96.68 L398.42 97.4 L399.23 98.11 L400.04 98.8 L400.85 99.47 L401.66 100.13 L402.48 100.78 L403.29 101.41 L404.1 102.02 L404.91 102.63 L405.72 103.22 L406.54 103.8 L407.35 104.36 L408.16 104.92 L408.97 105.46 L409.78 105.99 L410.6 106.51 L411.41 107.01 L412.22 107.51 L413.03 108 L413.84 108.47 L414.66 108.94 L415.47 109.4 L416.28 109.84 L417.09 110.28 L417.9 110.71 L418.72 111.13 L419.53 111.54 L420.34 111.95 L421.15 112.34 L421.96 112.73 L422.78 113.11 L423.59 113.48 L424.4 113.85 L425.21 114.21 L426.02 114.56 L426.84 114.9 L427.65 115.24 L428.46 115.57 L429.27 115.9 L430.08 116.22 L430.9 116.53 L431.71 116.84 L432.52 117.15 L433.33 117.44 L434.14 117.73 L434.96 118.02 L435.77 118.3 L436.58 118.58 L437.39 118.85 L438.2 119.12 L439.02 119.38 L439.83 119.64 L440.64 119.89 L441.45 120.14 L442.26 120.39 L443.08 120.63 L443.89 120.87 L444.7 121.1" fill="none" stroke="#9c8ae6" stroke-width="1.15" clip-path="url(#cb)"/>
<path d="M266.06 136.93 L266.87 136.71 L267.68 136.49 L268.5 136.26 L269.31 136.04 L270.12 135.81 L270.93 135.57 L271.74 135.34 L272.56 135.1 L273.37 134.86 L274.18 134.61 L274.99 134.36 L275.8 134.11 L276.62 133.86 L277.43 133.6 L278.24 133.33 L279.05 133.07 L279.86 132.8 L280.68 132.53 L281.49 132.25 L282.3 131.97 L283.11 131.68 L283.92 131.39 L284.74 131.1 L285.55 130.8 L286.36 130.5 L287.17 130.2 L287.98 129.89 L288.8 129.57 L289.61 129.25 L290.42 128.93 L291.23 128.6 L292.04 128.27 L292.86 127.93 L293.67 127.58 L294.48 127.23 L295.29 126.88 L296.1 126.52 L296.92 126.16 L297.73 125.79 L298.54 125.41 L299.35 125.03 L300.16 124.64 L300.98 124.24 L301.79 123.84 L302.6 123.44 L303.41 123.02 L304.22 122.6 L305.04 122.18 L305.85 121.74 L306.66 121.3 L307.47 120.85 L308.28 120.4 L309.1 119.94 L309.91 119.47 L310.72 118.99 L311.53 118.5 L312.34 118.01 L313.16 117.51 L313.97 116.99 L314.78 116.48 L315.59 115.95 L316.4 115.41 L317.22 114.86 L318.03 114.31 L318.84 113.74 L319.65 113.17 L320.46 112.59 L321.28 111.99 L322.09 111.39 L322.9 110.77 L323.71 110.15 L324.52 109.51 L325.34 108.87 L326.15 108.21 L326.96 107.54 L327.77 106.86 L328.58 106.17 L329.4 105.47 L330.21 104.75 L331.02 104.02 L331.83 103.29 L332.64 102.54 L333.46 101.77 L334.27 101 L335.08 100.21 L335.89 99.41 L336.7 98.6 L337.52 97.77 L338.33 96.94 L339.14 96.09 L339.95 95.23 L340.76 94.35 L341.58 93.47 L342.39 92.57 L343.2 91.66 L344.01 90.74 L344.82 89.81 L345.64 88.87 L346.45 87.92 L347.26 86.95 L348.07 85.98 L348.88 85.01 L349.7 84.02 L350.51 83.03 L351.32 82.03 L352.13 81.03 L352.94 80.02 L353.76 79.01 L354.57 78 L355.38 76.99 L356.19 75.98 L357 74.98 L357.82 73.98 L358.63 72.99 L359.44 72.01 L360.25 71.04 L361.06 70.08 L361.88 69.14 L362.69 68.22 L363.5 67.32 L364.31 66.44 L365.12 65.59 L365.94 64.77 L366.75 63.98 L367.56 63.22 L368.37 62.5 L369.18 61.82 L370 61.19 L370.81 60.6 L371.62 60.06 L372.43 59.57 L373.24 59.13 L374.06 58.74 L374.87 58.41 L375.68 58.14 L376.49 57.93 L377.3 57.78 L378.12 57.68 L378.93 57.65 L379.74 57.7 L380.55 57.82 L381.36 58.03 L382.18 58.31 L382.99 58.68 L383.8 59.12 L384.61 59.63 L385.42 60.21 L386.24 60.86 L387.05 61.56 L387.86 62.32 L388.67 63.12 L389.48 63.98 L390.3 64.87 L391.11 65.8 L391.92 66.75 L392.73 67.74 L393.54 68.74 L394.36 69.77 L395.17 70.8 L395.98 71.85 L396.79 72.9 L397.6 73.96 L398.42 75.01 L399.23 76.07 L400.04 77.12 L400.85 78.16 L401.66 79.2 L402.48 80.23 L403.29 81.24 L404.1 82.25 L404.91 83.24 L405.72 84.22 L406.54 85.18 L407.35 86.13 L408.16 87.06 L408.97 87.97 L409.78 88.87 L410.6 89.75 L411.41 90.61 L412.22 91.46 L413.03 92.29 L413.84 93.11 L414.66 93.9 L415.47 94.68 L416.28 95.45 L417.09 96.2 L417.9 96.93 L418.72 97.64 L419.53 98.35 L420.34 99.03 L421.15 99.7 L421.96 100.36 L422.78 101 L423.59 101.63 L424.4 102.24 L425.21 102.84 L426.02 103.43 L426.84 104.01 L427.65 104.57 L428.46 105.12 L429.27 105.66 L430.08 106.19 L430.9 106.7 L431.71 107.21 L432.52 107.7 L433.33 108.19 L434.14 108.66 L434.96 109.12 L435.77 109.58 L436.58 110.02 L437.39 110.46 L438.2 110.89 L439.02 111.3 L439.83 111.71 L440.64 112.12 L441.45 112.51 L442.26 112.9 L443.08 113.28 L443.89 113.65 L444.7 114.01" fill="none" stroke="#3eaebe" stroke-width="1.15" clip-path="url(#cb)"/>
<path d="M266.06 142.78 L266.87 142.63 L267.68 142.47 L268.5 142.31 L269.31 142.15 L270.12 141.98 L270.93 141.82 L271.74 141.65 L272.56 141.48 L273.37 141.31 L274.18 141.14 L274.99 140.97 L275.8 140.79 L276.62 140.61 L277.43 140.43 L278.24 140.25 L279.05 140.06 L279.86 139.87 L280.68 139.68 L281.49 139.49 L282.3 139.3 L283.11 139.1 L283.92 138.9 L284.74 138.7 L285.55 138.5 L286.36 138.29 L287.17 138.08 L287.98 137.87 L288.8 137.65 L289.61 137.44 L290.42 137.22 L291.23 136.99 L292.04 136.77 L292.86 136.54 L293.67 136.31 L294.48 136.07 L295.29 135.84 L296.1 135.59 L296.92 135.35 L297.73 135.1 L298.54 134.85 L299.35 134.6 L300.16 134.34 L300.98 134.08 L301.79 133.81 L302.6 133.54 L303.41 133.27 L304.22 132.99 L305.04 132.71 L305.85 132.43 L306.66 132.14 L307.47 131.85 L308.28 131.55 L309.1 131.25 L309.91 130.95 L310.72 130.64 L311.53 130.32 L312.34 130 L313.16 129.68 L313.97 129.35 L314.78 129.02 L315.59 128.68 L316.4 128.33 L317.22 127.98 L318.03 127.63 L318.84 127.27 L319.65 126.9 L320.46 126.53 L321.28 126.16 L322.09 125.77 L322.9 125.38 L323.71 124.99 L324.52 124.59 L325.34 124.18 L326.15 123.76 L326.96 123.34 L327.77 122.92 L328.58 122.48 L329.4 122.04 L330.21 121.59 L331.02 121.13 L331.83 120.67 L332.64 120.19 L333.46 119.71 L334.27 119.23 L335.08 118.73 L335.89 118.22 L336.7 117.71 L337.52 117.19 L338.33 116.66 L339.14 116.12 L339.95 115.57 L340.76 115.01 L341.58 114.44 L342.39 113.87 L343.2 113.28 L344.01 112.68 L344.82 112.07 L345.64 111.46 L346.45 110.83 L347.26 110.19 L348.07 109.54 L348.88 108.88 L349.7 108.21 L350.51 107.52 L351.32 106.83 L352.13 106.12 L352.94 105.4 L353.76 104.68 L354.57 103.93 L355.38 103.18 L356.19 102.42 L357 101.64 L357.82 100.85 L358.63 100.05 L359.44 99.24 L360.25 98.41 L361.06 97.58 L361.88 96.73 L362.69 95.87 L363.5 95 L364.31 94.12 L365.12 93.23 L365.94 92.33 L366.75 91.42 L367.56 90.5 L368.37 89.57 L369.18 88.63 L370 87.68 L370.81 86.73 L371.62 85.77 L372.43 84.81 L373.24 83.85 L374.06 82.88 L374.87 81.91 L375.68 80.94 L376.49 79.97 L377.3 79 L378.12 78.04 L378.93 77.09 L379.74 76.14 L380.55 75.2 L381.36 74.28 L382.18 73.37 L382.99 72.48 L383.8 71.61 L384.61 70.76 L385.42 69.93 L386.24 69.14 L387.05 68.37 L387.86 67.63 L388.67 66.93 L389.48 66.27 L390.3 65.64 L391.11 65.06 L391.92 64.53 L392.73 64.04 L393.54 63.61 L394.36 63.22 L395.17 62.89 L395.98 62.61 L396.79 62.39 L397.6 62.22 L398.42 62.12 L399.23 62.07 L400.04 62.09 L400.85 62.18 L401.66 62.36 L402.48 62.61 L403.29 62.93 L404.1 63.33 L404.91 63.8 L405.72 64.33 L406.54 64.93 L407.35 65.58 L408.16 66.28 L408.97 67.04 L409.78 67.84 L410.6 68.67 L411.41 69.55 L412.22 70.45 L413.03 71.38 L413.84 72.33 L414.66 73.3 L415.47 74.28 L416.28 75.27 L417.09 76.27 L417.9 77.27 L418.72 78.28 L419.53 79.28 L420.34 80.28 L421.15 81.28 L421.96 82.27 L422.78 83.25 L423.59 84.22 L424.4 85.18 L425.21 86.12 L426.02 87.06 L426.84 87.98 L427.65 88.88 L428.46 89.77 L429.27 90.65 L430.08 91.5 L430.9 92.35 L431.71 93.17 L432.52 93.99 L433.33 94.78 L434.14 95.56 L434.96 96.32 L435.77 97.07 L436.58 97.8 L437.39 98.52 L438.2 99.22 L439.02 99.9 L439.83 100.57 L440.64 101.23 L441.45 101.87 L442.26 102.5 L443.08 103.12 L443.89 103.72 L444.7 104.3" fill="none" stroke="#3cc4d4" stroke-width="1.15" clip-path="url(#cb)"/>
<path d="M266.06 146.56 L266.87 146.44 L267.68 146.32 L268.5 146.2 L269.31 146.07 L270.12 145.95 L270.93 145.82 L271.74 145.7 L272.56 145.57 L273.37 145.44 L274.18 145.31 L274.99 145.18 L275.8 145.04 L276.62 144.91 L277.43 144.77 L278.24 144.64 L279.05 144.5 L279.86 144.36 L280.68 144.22 L281.49 144.07 L282.3 143.93 L283.11 143.78 L283.92 143.63 L284.74 143.48 L285.55 143.33 L286.36 143.18 L287.17 143.02 L287.98 142.87 L288.8 142.71 L289.61 142.55 L290.42 142.39 L291.23 142.22 L292.04 142.06 L292.86 141.89 L293.67 141.72 L294.48 141.55 L295.29 141.38 L296.1 141.2 L296.92 141.02 L297.73 140.85 L298.54 140.66 L299.35 140.48 L300.16 140.29 L300.98 140.11 L301.79 139.91 L302.6 139.72 L303.41 139.53 L304.22 139.33 L305.04 139.13 L305.85 138.92 L306.66 138.72 L307.47 138.51 L308.28 138.3 L309.1 138.09 L309.91 137.87 L310.72 137.65 L311.53 137.43 L312.34 137.21 L313.16 136.98 L313.97 136.75 L314.78 136.51 L315.59 136.28 L316.4 136.04 L317.22 135.79 L318.03 135.55 L318.84 135.3 L319.65 135.05 L320.46 134.79 L321.28 134.53 L322.09 134.26 L322.9 134 L323.71 133.72 L324.52 133.45 L325.34 133.17 L326.15 132.89 L326.96 132.6 L327.77 132.31 L328.58 132.01 L329.4 131.71 L330.21 131.41 L331.02 131.1 L331.83 130.79 L332.64 130.47 L333.46 130.14 L334.27 129.82 L335.08 129.48 L335.89 129.15 L336.7 128.8 L337.52 128.46 L338.33 128.1 L339.14 127.74 L339.95 127.38 L340.76 127.01 L341.58 126.63 L342.39 126.25 L343.2 125.86 L344.01 125.46 L344.82 125.06 L345.64 124.66 L346.45 124.24 L347.26 123.82 L348.07 123.39 L348.88 122.96 L349.7 122.52 L350.51 122.07 L351.32 121.61 L352.13 121.15 L352.94 120.68 L353.76 120.2 L354.57 119.71 L355.38 119.21 L356.19 118.71 L357 118.19 L357.82 117.67 L358.63 117.14 L359.44 116.6 L360.25 116.05 L361.06 115.49 L361.88 114.93 L362.69 114.35 L363.5 113.76 L364.31 113.17 L365.12 112.56 L365.94 111.94 L366.75 111.31 L367.56 110.67 L368.37 110.02 L369.18 109.36 L370 108.69 L370.81 108.01 L371.62 107.32 L372.43 106.61 L373.24 105.89 L374.06 105.16 L374.87 104.43 L375.68 103.67 L376.49 102.91 L377.3 102.14 L378.12 101.35 L378.93 100.55 L379.74 99.74 L380.55 98.92 L381.36 98.09 L382.18 97.25 L382.99 96.39 L383.8 95.53 L384.61 94.65 L385.42 93.77 L386.24 92.87 L387.05 91.97 L387.86 91.06 L388.67 90.14 L389.48 89.21 L390.3 88.28 L391.11 87.34 L391.92 86.4 L392.73 85.45 L393.54 84.51 L394.36 83.56 L395.17 82.61 L395.98 81.66 L396.79 80.72 L397.6 79.78 L398.42 78.85 L399.23 77.92 L400.04 77.01 L400.85 76.11 L401.66 75.23 L402.48 74.36 L403.29 73.52 L404.1 72.69 L404.91 71.89 L405.72 71.12 L406.54 70.38 L407.35 69.67 L408.16 68.99 L408.97 68.36 L409.78 67.76 L410.6 67.21 L411.41 66.7 L412.22 66.24 L413.03 65.82 L413.84 65.46 L414.66 65.15 L415.47 64.9 L416.28 64.7 L417.09 64.55 L417.9 64.47 L418.72 64.44 L419.53 64.48 L420.34 64.59 L421.15 64.78 L421.96 65.05 L422.78 65.39 L423.59 65.79 L424.4 66.27 L425.21 66.81 L426.02 67.4 L426.84 68.05 L427.65 68.75 L428.46 69.5 L429.27 70.29 L430.08 71.11 L430.9 71.97 L431.71 72.86 L432.52 73.77 L433.33 74.69 L434.14 75.64 L434.96 76.6 L435.77 77.57 L436.58 78.54 L437.39 79.52 L438.2 80.49 L439.02 81.47 L439.83 82.44 L440.64 83.41 L441.45 84.37 L442.26 85.32 L443.08 86.26 L443.89 87.19 L444.7 88.1" fill="none" stroke="#5ae0f0" stroke-width="1.15" clip-path="url(#cb)"/>
<rect x="265.7" y="15.4" width="179.9" height="150.5" fill="none" stroke="#3b3333" stroke-width="1.2" />
<line x1="265.7" y1="166" x2="268.7" y2="166" stroke="#3b3333" stroke-width="1.2" />
<text x="261.8" y="170.9" font-size="10.2" text-anchor="end" fill="#161616" >4</text>
<line x1="265.7" y1="122.92" x2="268.7" y2="122.92" stroke="#3b3333" stroke-width="1.2" />
<text x="261.8" y="127.82" font-size="10.2" text-anchor="end" fill="#161616" >8</text>
<line x1="265.7" y1="79.84" x2="268.7" y2="79.84" stroke="#3b3333" stroke-width="1.2" />
<text x="261.8" y="84.74" font-size="10.2" text-anchor="end" fill="#161616" >12</text>
<line x1="265.7" y1="36.76" x2="268.7" y2="36.76" stroke="#3b3333" stroke-width="1.2" />
<text x="261.8" y="41.66" font-size="10.2" text-anchor="end" fill="#161616" >16</text>
<line x1="265.7" y1="144.46" x2="267.5" y2="144.46" stroke="#3b3333" stroke-width="1.2" />
<line x1="265.7" y1="101.38" x2="267.5" y2="101.38" stroke="#3b3333" stroke-width="1.2" />
<line x1="265.7" y1="58.3" x2="267.5" y2="58.3" stroke="#3b3333" stroke-width="1.2" />
<line x1="282.3" y1="165.9" x2="282.3" y2="162.9" stroke="#3b3333" stroke-width="1.2" />
<text x="280.3" y="178.2" font-size="10.2" text-anchor="middle" fill="#161616" >-1.0</text>
<line x1="322.9" y1="165.9" x2="322.9" y2="162.9" stroke="#3b3333" stroke-width="1.2" />
<text x="320.9" y="178.2" font-size="10.2" text-anchor="middle" fill="#161616" >-0.5</text>
<line x1="363.5" y1="165.9" x2="363.5" y2="162.9" stroke="#3b3333" stroke-width="1.2" />
<text x="363.5" y="178.2" font-size="10.2" text-anchor="middle" fill="#161616" >0.0</text>
<line x1="404.1" y1="165.9" x2="404.1" y2="162.9" stroke="#3b3333" stroke-width="1.2" />
<text x="404.1" y="178.2" font-size="10.2" text-anchor="middle" fill="#161616" >0.5</text>
<line x1="444.7" y1="165.9" x2="444.7" y2="162.9" stroke="#3b3333" stroke-width="1.2" />
<text x="444.7" y="178.2" font-size="10.2" text-anchor="middle" fill="#161616" >1.0</text>
<line x1="302.6" y1="165.9" x2="302.6" y2="164.1" stroke="#3b3333" stroke-width="1.2" />
<line x1="343.2" y1="165.9" x2="343.2" y2="164.1" stroke="#3b3333" stroke-width="1.2" />
<line x1="383.8" y1="165.9" x2="383.8" y2="164.1" stroke="#3b3333" stroke-width="1.2" />
<line x1="424.4" y1="165.9" x2="424.4" y2="164.1" stroke="#3b3333" stroke-width="1.2" />
<text x="0" y="0" font-size="11.5" text-anchor="middle" fill="#161616" transform="translate(246.3 103) rotate(-90)">Resistance (kΩ)</text>
<text x="358" y="192" font-size="11.5" text-anchor="middle" fill="#222"><tspan font-style="italic">V</tspan><tspan font-size="7.5" dy="3">tg</tspan><tspan dy="-3"> (V)</tspan></text>
<text x="281.5" y="38.3" font-size="9.8" fill="#222"><tspan font-style="italic">V</tspan><tspan font-size="6" dy="3">bg</tspan><tspan dy="-3"> = 60 V</tspan></text>
<text x="399.2" y="38.5" font-size="9.8" text-anchor="start" fill="#161616" >-60 V</text>
<line x1="303" y1="47.9" x2="411" y2="47.9" stroke="#555" stroke-width="1.4" />
<path d="M298.6 47.9 L305 45.6 L303.5 47.9 L305 50.2 Z" fill="#222" stroke="none" stroke-width="1" />
<path d="M415.3 47.9 L409 45.6 L410.5 47.9 L409 50.2 Z" fill="#222" stroke="none" stroke-width="1" />
<text x="473.2" y="18.6" font-size="15.3" text-anchor="start" fill="#111" >c</text>
<line x1="517.44" y1="39.73" x2="671.46" y2="149.21" stroke="#e8288c" stroke-width="1.1" />
<rect x="514.14" y="36.58" width="6.6" height="6.6" fill="#1212f0" stroke="none" stroke-width="1" />
<rect x="539.81" y="54.52" width="6.6" height="6.6" fill="#1212f0" stroke="none" stroke-width="1" />
<rect x="565.48" y="72.24" width="6.6" height="6.6" fill="#1212f0" stroke="none" stroke-width="1" />
<rect x="591.15" y="91.47" width="6.6" height="6.6" fill="#1212f0" stroke="none" stroke-width="1" />
<rect x="616.82" y="109.57" width="6.6" height="6.6" fill="#1212f0" stroke="none" stroke-width="1" />
<rect x="642.49" y="128.04" width="6.6" height="6.6" fill="#1212f0" stroke="none" stroke-width="1" />
<rect x="668.16" y="145.76" width="6.6" height="6.6" fill="#1212f0" stroke="none" stroke-width="1" />
<rect x="504.6" y="15.4" width="179.7" height="150.6" fill="none" stroke="#3b3333" stroke-width="1.2" />
<line x1="504.6" y1="15.6" x2="507.6" y2="15.6" stroke="#3b3333" stroke-width="1.2" />
<text x="499.8" y="19.6" font-size="10.2" text-anchor="end" fill="#161616" >1.0</text>
<line x1="504.6" y1="53.3" x2="507.6" y2="53.3" stroke="#3b3333" stroke-width="1.2" />
<text x="499.8" y="57.3" font-size="10.2" text-anchor="end" fill="#161616" >0.5</text>
<line x1="504.6" y1="91" x2="507.6" y2="91" stroke="#3b3333" stroke-width="1.2" />
<text x="499.8" y="95" font-size="10.2" text-anchor="end" fill="#161616" >0.0</text>
<line x1="504.6" y1="128.7" x2="507.6" y2="128.7" stroke="#3b3333" stroke-width="1.2" />
<text x="499.8" y="132.7" font-size="10.2" text-anchor="end" fill="#161616" >-0.5</text>
<line x1="504.6" y1="166.4" x2="507.6" y2="166.4" stroke="#3b3333" stroke-width="1.2" />
<text x="499.8" y="170.4" font-size="10.2" text-anchor="end" fill="#161616" >-1.0</text>
<line x1="504.6" y1="34.45" x2="506.4" y2="34.45" stroke="#3b3333" stroke-width="1.2" />
<line x1="504.6" y1="72.15" x2="506.4" y2="72.15" stroke="#3b3333" stroke-width="1.2" />
<line x1="504.6" y1="109.85" x2="506.4" y2="109.85" stroke="#3b3333" stroke-width="1.2" />
<line x1="504.6" y1="147.55" x2="506.4" y2="147.55" stroke="#3b3333" stroke-width="1.2" />
<line x1="517.44" y1="166" x2="517.44" y2="163" stroke="#3b3333" stroke-width="1.2" />
<text x="515.44" y="178.2" font-size="10.2" text-anchor="middle" fill="#161616" >-60</text>
<line x1="543.11" y1="166" x2="543.11" y2="163" stroke="#3b3333" stroke-width="1.2" />
<text x="541.11" y="178.2" font-size="10.2" text-anchor="middle" fill="#161616" >-40</text>
<line x1="568.78" y1="166" x2="568.78" y2="163" stroke="#3b3333" stroke-width="1.2" />
<text x="566.78" y="178.2" font-size="10.2" text-anchor="middle" fill="#161616" >-20</text>
<line x1="594.45" y1="166" x2="594.45" y2="163" stroke="#3b3333" stroke-width="1.2" />
<text x="594.45" y="178.2" font-size="10.2" text-anchor="middle" fill="#161616" >0</text>
<line x1="620.12" y1="166" x2="620.12" y2="163" stroke="#3b3333" stroke-width="1.2" />
<text x="620.12" y="178.2" font-size="10.2" text-anchor="middle" fill="#161616" >20</text>
<line x1="645.79" y1="166" x2="645.79" y2="163" stroke="#3b3333" stroke-width="1.2" />
<text x="645.79" y="178.2" font-size="10.2" text-anchor="middle" fill="#161616" >40</text>
<line x1="671.46" y1="166" x2="671.46" y2="163" stroke="#3b3333" stroke-width="1.2" />
<text x="671.46" y="178.2" font-size="10.2" text-anchor="middle" fill="#161616" >60</text>
<line x1="530.27" y1="166" x2="530.27" y2="164.2" stroke="#3b3333" stroke-width="1.2" />
<line x1="555.94" y1="166" x2="555.94" y2="164.2" stroke="#3b3333" stroke-width="1.2" />
<line x1="581.61" y1="166" x2="581.61" y2="164.2" stroke="#3b3333" stroke-width="1.2" />
<line x1="607.29" y1="166" x2="607.29" y2="164.2" stroke="#3b3333" stroke-width="1.2" />
<line x1="632.96" y1="166" x2="632.96" y2="164.2" stroke="#3b3333" stroke-width="1.2" />
<line x1="658.63" y1="166" x2="658.63" y2="164.2" stroke="#3b3333" stroke-width="1.2" />
<text x="518.7" y="127.4" font-size="11.5" text-anchor="start" fill="#161616" >Slope = -0.0121</text>
<rect x="608" y="30.8" width="7.8" height="7.8" fill="#1212f0" stroke="none" stroke-width="1" />
<text x="625.6" y="38" font-size="11.5" text-anchor="start" fill="#161616" >Data</text>
<line x1="602" y1="53" x2="620" y2="53" stroke="#ff1a1a" stroke-width="1.5" />
<text x="625.6" y="56.5" font-size="11.5" text-anchor="start" fill="#161616" >Linear fit</text>
<text transform="translate(474.6 89) rotate(-90)" font-size="11.5" text-anchor="middle" fill="#222"><tspan font-style="italic">V</tspan><tspan font-size="6.5" dy="3">Dirac, tg (</tspan><tspan dy="-3"> V)</tspan></text>
<text x="594" y="192" font-size="11.5" text-anchor="middle" fill="#222"><tspan font-style="italic">V</tspan><tspan font-size="7.5" dy="3">bg</tspan><tspan dy="-3"> (V)</tspan></text>
<text x="9.2" y="219.2" font-size="16" text-anchor="start" fill="#111" >d</text>
<line x1="33.4" y1="252.92" x2="213" y2="252.92" stroke="#f2385a" stroke-width="0.7" stroke-dasharray="1.2 0.8"/>
<circle cx="35.7" cy="252.92" r="1.9" fill="none" stroke="#f2385a" stroke-width="0.7" />
<circle cx="40.19" cy="252.92" r="1.9" fill="none" stroke="#f2385a" stroke-width="0.7" />
<circle cx="44.67" cy="252.92" r="1.9" fill="none" stroke="#f2385a" stroke-width="0.7" />
<circle cx="49.16" cy="252.92" r="1.9" fill="none" stroke="#f2385a" stroke-width="0.7" />
<circle cx="53.65" cy="252.92" r="1.9" fill="none" stroke="#f2385a" stroke-width="0.7" />
<circle cx="58.14" cy="252.92" r="1.9" fill="none" stroke="#f2385a" stroke-width="0.7" />
<circle cx="62.62" cy="252.92" r="1.9" fill="none" stroke="#f2385a" stroke-width="0.7" />
<circle cx="67.11" cy="252.92" r="1.9" fill="none" stroke="#f2385a" stroke-width="0.7" />
<circle cx="71.6" cy="252.92" r="1.9" fill="none" stroke="#f2385a" stroke-width="0.7" />
<circle cx="76.08" cy="252.92" r="1.9" fill="none" stroke="#f2385a" stroke-width="0.7" />
<circle cx="80.57" cy="252.92" r="1.9" fill="none" stroke="#f2385a" stroke-width="0.7" />
<circle cx="85.06" cy="252.92" r="1.9" fill="none" stroke="#f2385a" stroke-width="0.7" />
<circle cx="89.55" cy="252.92" r="1.9" fill="none" stroke="#f2385a" stroke-width="0.7" />
<circle cx="94.03" cy="252.92" r="1.9" fill="none" stroke="#f2385a" stroke-width="0.7" />
<circle cx="98.52" cy="252.92" r="1.9" fill="none" stroke="#f2385a" stroke-width="0.7" />
<circle cx="103.01" cy="252.92" r="1.9" fill="none" stroke="#f2385a" stroke-width="0.7" />
<circle cx="107.49" cy="252.92" r="1.9" fill="none" stroke="#f2385a" stroke-width="0.7" />
<circle cx="111.98" cy="252.92" r="1.9" fill="none" stroke="#f2385a" stroke-width="0.7" />
<circle cx="116.47" cy="252.92" r="1.9" fill="none" stroke="#f2385a" stroke-width="0.7" />
<circle cx="120.96" cy="252.92" r="1.9" fill="none" stroke="#f2385a" stroke-width="0.7" />
<circle cx="125.44" cy="252.92" r="1.9" fill="none" stroke="#f2385a" stroke-width="0.7" />
<circle cx="129.93" cy="252.92" r="1.9" fill="none" stroke="#f2385a" stroke-width="0.7" />
<circle cx="134.42" cy="252.92" r="1.9" fill="none" stroke="#f2385a" stroke-width="0.7" />
<circle cx="138.91" cy="252.92" r="1.9" fill="none" stroke="#f2385a" stroke-width="0.7" />
<circle cx="143.39" cy="252.92" r="1.9" fill="none" stroke="#f2385a" stroke-width="0.7" />
<circle cx="147.88" cy="252.92" r="1.9" fill="none" stroke="#f2385a" stroke-width="0.7" />
<circle cx="152.37" cy="252.92" r="1.9" fill="none" stroke="#f2385a" stroke-width="0.7" />
<circle cx="156.85" cy="252.92" r="1.9" fill="none" stroke="#f2385a" stroke-width="0.7" />
<circle cx="161.34" cy="252.92" r="1.9" fill="none" stroke="#f2385a" stroke-width="0.7" />
<circle cx="165.83" cy="252.92" r="1.9" fill="none" stroke="#f2385a" stroke-width="0.7" />
<circle cx="170.32" cy="252.92" r="1.9" fill="none" stroke="#f2385a" stroke-width="0.7" />
<circle cx="174.8" cy="252.92" r="1.9" fill="none" stroke="#f2385a" stroke-width="0.7" />
<circle cx="179.29" cy="252.92" r="1.9" fill="none" stroke="#f2385a" stroke-width="0.7" />
<circle cx="183.78" cy="252.92" r="1.9" fill="none" stroke="#f2385a" stroke-width="0.7" />
<circle cx="188.26" cy="252.92" r="1.9" fill="none" stroke="#f2385a" stroke-width="0.7" />
<circle cx="192.75" cy="252.92" r="1.9" fill="none" stroke="#f2385a" stroke-width="0.7" />
<circle cx="197.24" cy="252.92" r="1.9" fill="none" stroke="#f2385a" stroke-width="0.7" />
<circle cx="201.73" cy="252.92" r="1.9" fill="none" stroke="#f2385a" stroke-width="0.7" />
<circle cx="206.21" cy="252.92" r="1.9" fill="none" stroke="#f2385a" stroke-width="0.7" />
<circle cx="210.7" cy="252.92" r="1.9" fill="none" stroke="#f2385a" stroke-width="0.7" />
<text x="207" y="247.5" font-size="11.6" text-anchor="end" fill="#161616" >6.5 nm</text>
<line x1="33.4" y1="279.73" x2="213" y2="279.73" stroke="#f03cf0" stroke-width="0.7" stroke-dasharray="1.2 0.8"/>
<circle cx="35.7" cy="279.73" r="1.9" fill="none" stroke="#f03cf0" stroke-width="0.7" />
<circle cx="40.19" cy="279.73" r="1.9" fill="none" stroke="#f03cf0" stroke-width="0.7" />
<circle cx="44.67" cy="279.73" r="1.9" fill="none" stroke="#f03cf0" stroke-width="0.7" />
<circle cx="49.16" cy="279.73" r="1.9" fill="none" stroke="#f03cf0" stroke-width="0.7" />
<circle cx="53.65" cy="279.73" r="1.9" fill="none" stroke="#f03cf0" stroke-width="0.7" />
<circle cx="58.14" cy="279.73" r="1.9" fill="none" stroke="#f03cf0" stroke-width="0.7" />
<circle cx="62.62" cy="279.73" r="1.9" fill="none" stroke="#f03cf0" stroke-width="0.7" />
<circle cx="67.11" cy="279.73" r="1.9" fill="none" stroke="#f03cf0" stroke-width="0.7" />
<circle cx="71.6" cy="279.73" r="1.9" fill="none" stroke="#f03cf0" stroke-width="0.7" />
<circle cx="76.08" cy="279.73" r="1.9" fill="none" stroke="#f03cf0" stroke-width="0.7" />
<circle cx="80.57" cy="279.73" r="1.9" fill="none" stroke="#f03cf0" stroke-width="0.7" />
<circle cx="85.06" cy="279.73" r="1.9" fill="none" stroke="#f03cf0" stroke-width="0.7" />
<circle cx="89.55" cy="279.73" r="1.9" fill="none" stroke="#f03cf0" stroke-width="0.7" />
<circle cx="94.03" cy="279.73" r="1.9" fill="none" stroke="#f03cf0" stroke-width="0.7" />
<circle cx="98.52" cy="279.73" r="1.9" fill="none" stroke="#f03cf0" stroke-width="0.7" />
<circle cx="103.01" cy="279.73" r="1.9" fill="none" stroke="#f03cf0" stroke-width="0.7" />
<circle cx="107.49" cy="279.73" r="1.9" fill="none" stroke="#f03cf0" stroke-width="0.7" />
<circle cx="111.98" cy="279.73" r="1.9" fill="none" stroke="#f03cf0" stroke-width="0.7" />
<circle cx="116.47" cy="279.73" r="1.9" fill="none" stroke="#f03cf0" stroke-width="0.7" />
<circle cx="120.96" cy="279.73" r="1.9" fill="none" stroke="#f03cf0" stroke-width="0.7" />
<circle cx="125.44" cy="279.73" r="1.9" fill="none" stroke="#f03cf0" stroke-width="0.7" />
<circle cx="129.93" cy="279.73" r="1.9" fill="none" stroke="#f03cf0" stroke-width="0.7" />
<circle cx="134.42" cy="279.73" r="1.9" fill="none" stroke="#f03cf0" stroke-width="0.7" />
<circle cx="138.91" cy="279.73" r="1.9" fill="none" stroke="#f03cf0" stroke-width="0.7" />
<circle cx="143.39" cy="279.73" r="1.9" fill="none" stroke="#f03cf0" stroke-width="0.7" />
<circle cx="147.88" cy="279.73" r="1.9" fill="none" stroke="#f03cf0" stroke-width="0.7" />
<circle cx="152.37" cy="279.73" r="1.9" fill="none" stroke="#f03cf0" stroke-width="0.7" />
<circle cx="156.85" cy="279.73" r="1.9" fill="none" stroke="#f03cf0" stroke-width="0.7" />
<circle cx="161.34" cy="279.73" r="1.9" fill="none" stroke="#f03cf0" stroke-width="0.7" />
<circle cx="165.83" cy="279.73" r="1.9" fill="none" stroke="#f03cf0" stroke-width="0.7" />
<circle cx="170.32" cy="279.73" r="1.9" fill="none" stroke="#f03cf0" stroke-width="0.7" />
<circle cx="174.8" cy="279.73" r="1.9" fill="none" stroke="#f03cf0" stroke-width="0.7" />
<circle cx="179.29" cy="279.73" r="1.9" fill="none" stroke="#f03cf0" stroke-width="0.7" />
<circle cx="183.78" cy="279.73" r="1.9" fill="none" stroke="#f03cf0" stroke-width="0.7" />
<circle cx="188.26" cy="279.73" r="1.9" fill="none" stroke="#f03cf0" stroke-width="0.7" />
<circle cx="192.75" cy="279.73" r="1.9" fill="none" stroke="#f03cf0" stroke-width="0.7" />
<circle cx="197.24" cy="279.73" r="1.9" fill="none" stroke="#f03cf0" stroke-width="0.7" />
<circle cx="201.73" cy="279.73" r="1.9" fill="none" stroke="#f03cf0" stroke-width="0.7" />
<circle cx="206.21" cy="279.73" r="1.9" fill="none" stroke="#f03cf0" stroke-width="0.7" />
<circle cx="210.7" cy="279.73" r="1.9" fill="none" stroke="#f03cf0" stroke-width="0.7" />
<text x="207" y="275.8" font-size="11.6" text-anchor="end" fill="#161616" >9.8 nm</text>
<line x1="33.4" y1="303.05" x2="213" y2="303.05" stroke="#7c7ce0" stroke-width="0.7" stroke-dasharray="1.2 0.8"/>
<circle cx="35.7" cy="303.05" r="1.9" fill="none" stroke="#7c7ce0" stroke-width="0.7" />
<circle cx="40.19" cy="303.05" r="1.9" fill="none" stroke="#7c7ce0" stroke-width="0.7" />
<circle cx="44.67" cy="303.05" r="1.9" fill="none" stroke="#7c7ce0" stroke-width="0.7" />
<circle cx="49.16" cy="303.05" r="1.9" fill="none" stroke="#7c7ce0" stroke-width="0.7" />
<circle cx="53.65" cy="303.05" r="1.9" fill="none" stroke="#7c7ce0" stroke-width="0.7" />
<circle cx="58.14" cy="303.05" r="1.9" fill="none" stroke="#7c7ce0" stroke-width="0.7" />
<circle cx="62.62" cy="303.05" r="1.9" fill="none" stroke="#7c7ce0" stroke-width="0.7" />
<circle cx="67.11" cy="303.05" r="1.9" fill="none" stroke="#7c7ce0" stroke-width="0.7" />
<circle cx="71.6" cy="303.05" r="1.9" fill="none" stroke="#7c7ce0" stroke-width="0.7" />
<circle cx="76.08" cy="303.05" r="1.9" fill="none" stroke="#7c7ce0" stroke-width="0.7" />
<circle cx="80.57" cy="303.05" r="1.9" fill="none" stroke="#7c7ce0" stroke-width="0.7" />
<circle cx="85.06" cy="303.05" r="1.9" fill="none" stroke="#7c7ce0" stroke-width="0.7" />
<circle cx="89.55" cy="303.05" r="1.9" fill="none" stroke="#7c7ce0" stroke-width="0.7" />
<circle cx="94.03" cy="303.05" r="1.9" fill="none" stroke="#7c7ce0" stroke-width="0.7" />
<circle cx="98.52" cy="303.05" r="1.9" fill="none" stroke="#7c7ce0" stroke-width="0.7" />
<circle cx="103.01" cy="303.05" r="1.9" fill="none" stroke="#7c7ce0" stroke-width="0.7" />
<circle cx="107.49" cy="303.05" r="1.9" fill="none" stroke="#7c7ce0" stroke-width="0.7" />
<circle cx="111.98" cy="303.05" r="1.9" fill="none" stroke="#7c7ce0" stroke-width="0.7" />
<circle cx="116.47" cy="303.05" r="1.9" fill="none" stroke="#7c7ce0" stroke-width="0.7" />
<circle cx="120.96" cy="303.05" r="1.9" fill="none" stroke="#7c7ce0" stroke-width="0.7" />
<circle cx="125.44" cy="303.05" r="1.9" fill="none" stroke="#7c7ce0" stroke-width="0.7" />
<circle cx="129.93" cy="303.05" r="1.9" fill="none" stroke="#7c7ce0" stroke-width="0.7" />
<circle cx="134.42" cy="303.05" r="1.9" fill="none" stroke="#7c7ce0" stroke-width="0.7" />
<circle cx="138.91" cy="303.05" r="1.9" fill="none" stroke="#7c7ce0" stroke-width="0.7" />
<circle cx="143.39" cy="303.05" r="1.9" fill="none" stroke="#7c7ce0" stroke-width="0.7" />
<circle cx="147.88" cy="303.05" r="1.9" fill="none" stroke="#7c7ce0" stroke-width="0.7" />
<circle cx="152.37" cy="303.05" r="1.9" fill="none" stroke="#7c7ce0" stroke-width="0.7" />
<circle cx="156.85" cy="303.05" r="1.9" fill="none" stroke="#7c7ce0" stroke-width="0.7" />
<circle cx="161.34" cy="303.05" r="1.9" fill="none" stroke="#7c7ce0" stroke-width="0.7" />
<circle cx="165.83" cy="303.05" r="1.9" fill="none" stroke="#7c7ce0" stroke-width="0.7" />
<circle cx="170.32" cy="303.05" r="1.9" fill="none" stroke="#7c7ce0" stroke-width="0.7" />
<circle cx="174.8" cy="303.05" r="1.9" fill="none" stroke="#7c7ce0" stroke-width="0.7" />
<circle cx="179.29" cy="303.05" r="1.9" fill="none" stroke="#7c7ce0" stroke-width="0.7" />
<circle cx="183.78" cy="303.05" r="1.9" fill="none" stroke="#7c7ce0" stroke-width="0.7" />
<circle cx="188.26" cy="303.05" r="1.9" fill="none" stroke="#7c7ce0" stroke-width="0.7" />
<circle cx="192.75" cy="303.05" r="1.9" fill="none" stroke="#7c7ce0" stroke-width="0.7" />
<circle cx="197.24" cy="303.05" r="1.9" fill="none" stroke="#7c7ce0" stroke-width="0.7" />
<circle cx="201.73" cy="303.05" r="1.9" fill="none" stroke="#7c7ce0" stroke-width="0.7" />
<circle cx="206.21" cy="303.05" r="1.9" fill="none" stroke="#7c7ce0" stroke-width="0.7" />
<circle cx="210.7" cy="303.05" r="1.9" fill="none" stroke="#7c7ce0" stroke-width="0.7" />
<text x="207" y="298.1" font-size="11.6" text-anchor="end" fill="#161616" >14.6 nm</text>
<line x1="33.4" y1="324.85" x2="213" y2="324.85" stroke="#2c94b4" stroke-width="0.7" stroke-dasharray="1.2 0.8"/>
<circle cx="35.7" cy="324.85" r="1.9" fill="none" stroke="#2c94b4" stroke-width="0.7" />
<circle cx="40.19" cy="324.85" r="1.9" fill="none" stroke="#2c94b4" stroke-width="0.7" />
<circle cx="44.67" cy="324.85" r="1.9" fill="none" stroke="#2c94b4" stroke-width="0.7" />
<circle cx="49.16" cy="324.85" r="1.9" fill="none" stroke="#2c94b4" stroke-width="0.7" />
<circle cx="53.65" cy="324.85" r="1.9" fill="none" stroke="#2c94b4" stroke-width="0.7" />
<circle cx="58.14" cy="324.85" r="1.9" fill="none" stroke="#2c94b4" stroke-width="0.7" />
<circle cx="62.62" cy="324.85" r="1.9" fill="none" stroke="#2c94b4" stroke-width="0.7" />
<circle cx="67.11" cy="324.85" r="1.9" fill="none" stroke="#2c94b4" stroke-width="0.7" />
<circle cx="71.6" cy="324.85" r="1.9" fill="none" stroke="#2c94b4" stroke-width="0.7" />
<circle cx="76.08" cy="324.85" r="1.9" fill="none" stroke="#2c94b4" stroke-width="0.7" />
<circle cx="80.57" cy="324.85" r="1.9" fill="none" stroke="#2c94b4" stroke-width="0.7" />
<circle cx="85.06" cy="324.85" r="1.9" fill="none" stroke="#2c94b4" stroke-width="0.7" />
<circle cx="89.55" cy="324.85" r="1.9" fill="none" stroke="#2c94b4" stroke-width="0.7" />
<circle cx="94.03" cy="324.85" r="1.9" fill="none" stroke="#2c94b4" stroke-width="0.7" />
<circle cx="98.52" cy="324.85" r="1.9" fill="none" stroke="#2c94b4" stroke-width="0.7" />
<circle cx="103.01" cy="324.85" r="1.9" fill="none" stroke="#2c94b4" stroke-width="0.7" />
<circle cx="107.49" cy="324.85" r="1.9" fill="none" stroke="#2c94b4" stroke-width="0.7" />
<circle cx="111.98" cy="324.85" r="1.9" fill="none" stroke="#2c94b4" stroke-width="0.7" />
<circle cx="116.47" cy="324.85" r="1.9" fill="none" stroke="#2c94b4" stroke-width="0.7" />
<circle cx="120.96" cy="324.85" r="1.9" fill="none" stroke="#2c94b4" stroke-width="0.7" />
<circle cx="125.44" cy="324.85" r="1.9" fill="none" stroke="#2c94b4" stroke-width="0.7" />
<circle cx="129.93" cy="324.85" r="1.9" fill="none" stroke="#2c94b4" stroke-width="0.7" />
<circle cx="134.42" cy="324.85" r="1.9" fill="none" stroke="#2c94b4" stroke-width="0.7" />
<circle cx="138.91" cy="324.85" r="1.9" fill="none" stroke="#2c94b4" stroke-width="0.7" />
<circle cx="143.39" cy="324.85" r="1.9" fill="none" stroke="#2c94b4" stroke-width="0.7" />
<circle cx="147.88" cy="324.85" r="1.9" fill="none" stroke="#2c94b4" stroke-width="0.7" />
<circle cx="152.37" cy="324.85" r="1.9" fill="none" stroke="#2c94b4" stroke-width="0.7" />
<circle cx="156.85" cy="324.85" r="1.9" fill="none" stroke="#2c94b4" stroke-width="0.7" />
<circle cx="161.34" cy="324.85" r="1.9" fill="none" stroke="#2c94b4" stroke-width="0.7" />
<circle cx="165.83" cy="324.85" r="1.9" fill="none" stroke="#2c94b4" stroke-width="0.7" />
<circle cx="170.32" cy="324.85" r="1.9" fill="none" stroke="#2c94b4" stroke-width="0.7" />
<circle cx="174.8" cy="324.85" r="1.9" fill="none" stroke="#2c94b4" stroke-width="0.7" />
<circle cx="179.29" cy="324.85" r="1.9" fill="none" stroke="#2c94b4" stroke-width="0.7" />
<circle cx="183.78" cy="324.85" r="1.9" fill="none" stroke="#2c94b4" stroke-width="0.7" />
<circle cx="188.26" cy="324.85" r="1.9" fill="none" stroke="#2c94b4" stroke-width="0.7" />
<circle cx="192.75" cy="324.85" r="1.9" fill="none" stroke="#2c94b4" stroke-width="0.7" />
<circle cx="197.24" cy="324.85" r="1.9" fill="none" stroke="#2c94b4" stroke-width="0.7" />
<circle cx="201.73" cy="324.85" r="1.9" fill="none" stroke="#2c94b4" stroke-width="0.7" />
<circle cx="206.21" cy="324.85" r="1.9" fill="none" stroke="#2c94b4" stroke-width="0.7" />
<circle cx="210.7" cy="324.85" r="1.9" fill="none" stroke="#2c94b4" stroke-width="0.7" />
<text x="207" y="319.4" font-size="11.6" text-anchor="end" fill="#161616" >22.3 nm</text>
<line x1="33.4" y1="341.14" x2="213" y2="341.14" stroke="#30e0f0" stroke-width="0.7" stroke-dasharray="1.2 0.8"/>
<circle cx="35.7" cy="341.14" r="1.9" fill="none" stroke="#30e0f0" stroke-width="0.7" />
<circle cx="40.19" cy="341.14" r="1.9" fill="none" stroke="#30e0f0" stroke-width="0.7" />
<circle cx="44.67" cy="341.14" r="1.9" fill="none" stroke="#30e0f0" stroke-width="0.7" />
<circle cx="49.16" cy="341.14" r="1.9" fill="none" stroke="#30e0f0" stroke-width="0.7" />
<circle cx="53.65" cy="341.14" r="1.9" fill="none" stroke="#30e0f0" stroke-width="0.7" />
<circle cx="58.14" cy="341.14" r="1.9" fill="none" stroke="#30e0f0" stroke-width="0.7" />
<circle cx="62.62" cy="341.14" r="1.9" fill="none" stroke="#30e0f0" stroke-width="0.7" />
<circle cx="67.11" cy="341.14" r="1.9" fill="none" stroke="#30e0f0" stroke-width="0.7" />
<circle cx="71.6" cy="341.14" r="1.9" fill="none" stroke="#30e0f0" stroke-width="0.7" />
<circle cx="76.08" cy="341.14" r="1.9" fill="none" stroke="#30e0f0" stroke-width="0.7" />
<circle cx="80.57" cy="341.14" r="1.9" fill="none" stroke="#30e0f0" stroke-width="0.7" />
<circle cx="85.06" cy="341.14" r="1.9" fill="none" stroke="#30e0f0" stroke-width="0.7" />
<circle cx="89.55" cy="341.14" r="1.9" fill="none" stroke="#30e0f0" stroke-width="0.7" />
<circle cx="94.03" cy="341.14" r="1.9" fill="none" stroke="#30e0f0" stroke-width="0.7" />
<circle cx="98.52" cy="341.14" r="1.9" fill="none" stroke="#30e0f0" stroke-width="0.7" />
<circle cx="103.01" cy="341.14" r="1.9" fill="none" stroke="#30e0f0" stroke-width="0.7" />
<circle cx="107.49" cy="341.14" r="1.9" fill="none" stroke="#30e0f0" stroke-width="0.7" />
<circle cx="111.98" cy="341.14" r="1.9" fill="none" stroke="#30e0f0" stroke-width="0.7" />
<circle cx="116.47" cy="341.14" r="1.9" fill="none" stroke="#30e0f0" stroke-width="0.7" />
<circle cx="120.96" cy="341.14" r="1.9" fill="none" stroke="#30e0f0" stroke-width="0.7" />
<circle cx="125.44" cy="341.14" r="1.9" fill="none" stroke="#30e0f0" stroke-width="0.7" />
<circle cx="129.93" cy="341.14" r="1.9" fill="none" stroke="#30e0f0" stroke-width="0.7" />
<circle cx="134.42" cy="341.14" r="1.9" fill="none" stroke="#30e0f0" stroke-width="0.7" />
<circle cx="138.91" cy="341.14" r="1.9" fill="none" stroke="#30e0f0" stroke-width="0.7" />
<circle cx="143.39" cy="341.14" r="1.9" fill="none" stroke="#30e0f0" stroke-width="0.7" />
<circle cx="147.88" cy="341.14" r="1.9" fill="none" stroke="#30e0f0" stroke-width="0.7" />
<circle cx="152.37" cy="341.14" r="1.9" fill="none" stroke="#30e0f0" stroke-width="0.7" />
<circle cx="156.85" cy="341.14" r="1.9" fill="none" stroke="#30e0f0" stroke-width="0.7" />
<circle cx="161.34" cy="341.14" r="1.9" fill="none" stroke="#30e0f0" stroke-width="0.7" />
<circle cx="165.83" cy="341.14" r="1.9" fill="none" stroke="#30e0f0" stroke-width="0.7" />
<circle cx="170.32" cy="341.14" r="1.9" fill="none" stroke="#30e0f0" stroke-width="0.7" />
<circle cx="174.8" cy="341.14" r="1.9" fill="none" stroke="#30e0f0" stroke-width="0.7" />
<circle cx="179.29" cy="341.14" r="1.9" fill="none" stroke="#30e0f0" stroke-width="0.7" />
<circle cx="183.78" cy="341.14" r="1.9" fill="none" stroke="#30e0f0" stroke-width="0.7" />
<circle cx="188.26" cy="341.14" r="1.9" fill="none" stroke="#30e0f0" stroke-width="0.7" />
<circle cx="192.75" cy="341.14" r="1.9" fill="none" stroke="#30e0f0" stroke-width="0.7" />
<circle cx="197.24" cy="341.14" r="1.9" fill="none" stroke="#30e0f0" stroke-width="0.7" />
<circle cx="201.73" cy="341.14" r="1.9" fill="none" stroke="#30e0f0" stroke-width="0.7" />
<circle cx="206.21" cy="341.14" r="1.9" fill="none" stroke="#30e0f0" stroke-width="0.7" />
<circle cx="210.7" cy="341.14" r="1.9" fill="none" stroke="#30e0f0" stroke-width="0.7" />
<text x="207" y="353.6" font-size="11.6" text-anchor="end" fill="#161616" >34.7 nm</text>
<rect x="33.4" y="212.3" width="179.6" height="150.4" fill="none" stroke="#3b3333" stroke-width="1.2" />
<line x1="33.4" y1="362.7" x2="36.4" y2="362.7" stroke="#3b3333" stroke-width="1.2" />
<text x="30.2" y="366.7" font-size="10.2" text-anchor="end" fill="#161616" >0</text>
<line x1="33.4" y1="312.57" x2="36.4" y2="312.57" stroke="#3b3333" stroke-width="1.2" />
<text x="30.2" y="316.57" font-size="10.2" text-anchor="end" fill="#161616" >1</text>
<line x1="33.4" y1="262.44" x2="36.4" y2="262.44" stroke="#3b3333" stroke-width="1.2" />
<text x="30.2" y="266.44" font-size="10.2" text-anchor="end" fill="#161616" >2</text>
<line x1="33.4" y1="212.31" x2="36.4" y2="212.31" stroke="#3b3333" stroke-width="1.2" />
<text x="30.2" y="216.31" font-size="10.2" text-anchor="end" fill="#161616" >3</text>
<line x1="33.4" y1="337.63" x2="35.2" y2="337.63" stroke="#3b3333" stroke-width="1.2" />
<line x1="33.4" y1="287.5" x2="35.2" y2="287.5" stroke="#3b3333" stroke-width="1.2" />
<line x1="33.4" y1="237.38" x2="35.2" y2="237.38" stroke="#3b3333" stroke-width="1.2" />
<line x1="33.4" y1="362.7" x2="33.4" y2="359.7" stroke="#3b3333" stroke-width="1.2" />
<text x="31.7" y="375.6" font-size="10.2" text-anchor="middle" fill="#161616" >-1.0</text>
<line x1="78.3" y1="362.7" x2="78.3" y2="359.7" stroke="#3b3333" stroke-width="1.2" />
<text x="76.6" y="375.6" font-size="10.2" text-anchor="middle" fill="#161616" >-0.5</text>
<line x1="123.2" y1="362.7" x2="123.2" y2="359.7" stroke="#3b3333" stroke-width="1.2" />
<text x="123.5" y="375.6" font-size="10.2" text-anchor="middle" fill="#161616" >0.0</text>
<line x1="168.1" y1="362.7" x2="168.1" y2="359.7" stroke="#3b3333" stroke-width="1.2" />
<text x="168.4" y="375.6" font-size="10.2" text-anchor="middle" fill="#161616" >0.5</text>
<line x1="213" y1="362.7" x2="213" y2="359.7" stroke="#3b3333" stroke-width="1.2" />
<text x="213.3" y="375.6" font-size="10.2" text-anchor="middle" fill="#161616" >1.0</text>
<line x1="55.85" y1="362.7" x2="55.85" y2="360.9" stroke="#3b3333" stroke-width="1.2" />
<line x1="100.75" y1="362.7" x2="100.75" y2="360.9" stroke="#3b3333" stroke-width="1.2" />
<line x1="145.65" y1="362.7" x2="145.65" y2="360.9" stroke="#3b3333" stroke-width="1.2" />
<line x1="190.55" y1="362.7" x2="190.55" y2="360.9" stroke="#3b3333" stroke-width="1.2" />
<text transform="translate(14 287) rotate(-90)" font-size="11.5" text-anchor="middle" fill="#222">C (μF cm<tspan font-size="7" dy="-4">-2</tspan><tspan dy="4">)</tspan></text>
<text x="122.5" y="390" font-size="11.5" text-anchor="middle" fill="#161616" >Voltage (V)</text>
<text x="238.5" y="217.4" font-size="15.3" text-anchor="start" fill="#111" >e</text>
<path d="M285.45 267.99 L291.81 264.62 L300.3 259.9 L313.03 253.84 L321.51 249.79 L334.24 247.1 L351.22 245.75 L385.16 245.75 L406.38 245.41 L428.86 245.75 L428.86 267.32 L406.38 268.66 L385.16 270.01 L351.22 272.03 L334.24 273.38 L321.51 275.4 L313.03 280.8 L304.54 291.58 L300.3 294.28 L291.81 297.65 L285.45 298.99 Z" fill="#f6c8e8" stroke="none" stroke-width="1" />
<path d="M285.45 284.17 L292.24 276.41 L300.3 269.34 L320.67 261.92 L336.37 259.23 L353.34 257.88 L383.04 258.55 L406.38 256.53 L428.86 257.88" fill="none" stroke="#ea1e8c" stroke-width="1" />
<circle cx="285.45" cy="284.17" r="3.7" fill="#ee1482" stroke="none" stroke-width="1" />
<circle cx="284.15" cy="282.87" r="1.1" fill="#fff" stroke="none" stroke-width="1" opacity="0.75"/>
<circle cx="292.24" cy="276.41" r="3.7" fill="#ee1482" stroke="none" stroke-width="1" />
<circle cx="290.94" cy="275.11" r="1.1" fill="#fff" stroke="none" stroke-width="1" opacity="0.75"/>
<circle cx="300.3" cy="269.34" r="3.7" fill="#ee1482" stroke="none" stroke-width="1" />
<circle cx="299" cy="268.04" r="1.1" fill="#fff" stroke="none" stroke-width="1" opacity="0.75"/>
<circle cx="320.67" cy="261.92" r="3.7" fill="#ee1482" stroke="none" stroke-width="1" />
<circle cx="319.37" cy="260.62" r="1.1" fill="#fff" stroke="none" stroke-width="1" opacity="0.75"/>
<circle cx="336.37" cy="259.23" r="3.7" fill="#ee1482" stroke="none" stroke-width="1" />
<circle cx="335.07" cy="257.93" r="1.1" fill="#fff" stroke="none" stroke-width="1" opacity="0.75"/>
<circle cx="353.34" cy="257.88" r="3.7" fill="#ee1482" stroke="none" stroke-width="1" />
<circle cx="352.04" cy="256.58" r="1.1" fill="#fff" stroke="none" stroke-width="1" opacity="0.75"/>
<circle cx="383.04" cy="258.55" r="3.7" fill="#ee1482" stroke="none" stroke-width="1" />
<circle cx="381.74" cy="257.25" r="1.1" fill="#fff" stroke="none" stroke-width="1" opacity="0.75"/>
<circle cx="406.38" cy="256.53" r="3.7" fill="#ee1482" stroke="none" stroke-width="1" />
<circle cx="405.07" cy="255.23" r="1.1" fill="#fff" stroke="none" stroke-width="1" opacity="0.75"/>
<circle cx="428.86" cy="257.88" r="3.7" fill="#ee1482" stroke="none" stroke-width="1" />
<circle cx="427.56" cy="256.58" r="1.1" fill="#fff" stroke="none" stroke-width="1" opacity="0.75"/>
<rect x="268.6" y="210.6" width="181.4" height="151.7" fill="none" stroke="#3b3333" stroke-width="1.2" />
<line x1="268.6" y1="345.5" x2="271.6" y2="345.5" stroke="#3b3333" stroke-width="1.2" />
<text x="265.2" y="351.6" font-size="10.2" text-anchor="end" fill="#161616" >5</text>
<line x1="268.6" y1="311.8" x2="271.6" y2="311.8" stroke="#3b3333" stroke-width="1.2" />
<text x="265.2" y="317.9" font-size="10.2" text-anchor="end" fill="#161616" >10</text>
<line x1="268.6" y1="278.1" x2="271.6" y2="278.1" stroke="#3b3333" stroke-width="1.2" />
<text x="265.2" y="284.2" font-size="10.2" text-anchor="end" fill="#161616" >15</text>
<line x1="268.6" y1="244.4" x2="271.6" y2="244.4" stroke="#3b3333" stroke-width="1.2" />
<text x="265.2" y="250.5" font-size="10.2" text-anchor="end" fill="#161616" >20</text>
<line x1="268.6" y1="210.7" x2="271.6" y2="210.7" stroke="#3b3333" stroke-width="1.2" />
<text x="265.2" y="216.8" font-size="10.2" text-anchor="end" fill="#161616" >25</text>
<line x1="268.6" y1="328.65" x2="270.4" y2="328.65" stroke="#3b3333" stroke-width="1.2" />
<line x1="268.6" y1="294.95" x2="270.4" y2="294.95" stroke="#3b3333" stroke-width="1.2" />
<line x1="268.6" y1="261.25" x2="270.4" y2="261.25" stroke="#3b3333" stroke-width="1.2" />
<line x1="268.6" y1="227.55" x2="270.4" y2="227.55" stroke="#3b3333" stroke-width="1.2" />
<line x1="300.3" y1="362.3" x2="300.3" y2="359.3" stroke="#3b3333" stroke-width="1.2" />
<text x="300.3" y="374.4" font-size="10.2" text-anchor="middle" fill="#161616" >10</text>
<line x1="342.73" y1="362.3" x2="342.73" y2="359.3" stroke="#3b3333" stroke-width="1.2" />
<text x="342.73" y="374.4" font-size="10.2" text-anchor="middle" fill="#161616" >20</text>
<line x1="385.16" y1="362.3" x2="385.16" y2="359.3" stroke="#3b3333" stroke-width="1.2" />
<text x="385.16" y="374.4" font-size="10.2" text-anchor="middle" fill="#161616" >30</text>
<line x1="427.59" y1="362.3" x2="427.59" y2="359.3" stroke="#3b3333" stroke-width="1.2" />
<text x="427.59" y="374.4" font-size="10.2" text-anchor="middle" fill="#161616" >40</text>
<line x1="279.09" y1="362.3" x2="279.09" y2="360.5" stroke="#3b3333" stroke-width="1.2" />
<line x1="321.51" y1="362.3" x2="321.51" y2="360.5" stroke="#3b3333" stroke-width="1.2" />
<line x1="363.94" y1="362.3" x2="363.94" y2="360.5" stroke="#3b3333" stroke-width="1.2" />
<line x1="406.38" y1="362.3" x2="406.38" y2="360.5" stroke="#3b3333" stroke-width="1.2" />
<line x1="448.81" y1="362.3" x2="448.81" y2="360.5" stroke="#3b3333" stroke-width="1.2" />
<text x="0" y="0" font-size="11.5" text-anchor="middle" fill="#161616" transform="translate(247 286) rotate(-90)">Dielectric constant</text>
<text x="357.8" y="387.5" font-size="11.5" text-anchor="middle" fill="#161616" >Thickness (nm)</text>
<clipPath id="ce"><rect x="355.5" y="285.5" width="66.89999999999998" height="55.5"/></clipPath>
<path d="M363.3 331.29 L374.06 321.02 L386.72 311.03 L399.38 302.7 L412.04 293.27 L424.7 277.18 L424.7 295.21 L412.04 302.98 L399.38 311.03 L386.72 321.02 L374.06 328.51 L363.3 336 Z" fill="#bcdcf4" stroke="none" stroke-width="1" clip-path="url(#ce)"/>
<path d="M364.56 333.23 L374.38 325.46 L385.14 318.8 L413.94 293.82" fill="none" stroke="#3c5ae6" stroke-width="0.8" />
<circle cx="364.56" cy="333.23" r="2.1" fill="#4a6af0" stroke="none" stroke-width="1" />
<circle cx="374.38" cy="325.46" r="2.1" fill="#4a6af0" stroke="none" stroke-width="1" />
<circle cx="385.14" cy="318.8" r="2.1" fill="#4a6af0" stroke="none" stroke-width="1" />
<circle cx="413.94" cy="293.82" r="2.1" fill="#4a6af0" stroke="none" stroke-width="1" />
<rect x="355.5" y="285.5" width="66.9" height="55.5" fill="none" stroke="#3b3333" stroke-width="0.9" />
<line x1="355.5" y1="341" x2="357.5" y2="341" stroke="#3b3333" stroke-width="0.7" />
<text x="353.4" y="343.5" font-size="7" text-anchor="end" fill="#444" >1.5</text>
<line x1="355.5" y1="327.12" x2="357.5" y2="327.12" stroke="#3b3333" stroke-width="0.7" />
<text x="353.4" y="329.62" font-size="7" text-anchor="end" fill="#444" >2.0</text>
<line x1="355.5" y1="313.25" x2="357.5" y2="313.25" stroke="#3b3333" stroke-width="0.7" />
<text x="353.4" y="315.75" font-size="7" text-anchor="end" fill="#444" >2.5</text>
<line x1="355.5" y1="299.38" x2="357.5" y2="299.38" stroke="#3b3333" stroke-width="0.7" />
<text x="353.4" y="301.88" font-size="7" text-anchor="end" fill="#444" >3.0</text>
<line x1="355.5" y1="285.5" x2="357.5" y2="285.5" stroke="#3b3333" stroke-width="0.7" />
<text x="353.4" y="288" font-size="7" text-anchor="end" fill="#444" >3.5</text>
<line x1="361.4" y1="341" x2="361.4" y2="339" stroke="#3b3333" stroke-width="0.7" />
<text x="361.4" y="346.8" font-size="7" text-anchor="middle" fill="#444" >6</text>
<line x1="380.39" y1="341" x2="380.39" y2="339" stroke="#3b3333" stroke-width="0.7" />
<text x="380.39" y="346.8" font-size="7" text-anchor="middle" fill="#444" >9</text>
<line x1="399.38" y1="341" x2="399.38" y2="339" stroke="#3b3333" stroke-width="0.7" />
<text x="399.38" y="346.8" font-size="7" text-anchor="middle" fill="#444" >12</text>
<line x1="418.37" y1="341" x2="418.37" y2="339" stroke="#3b3333" stroke-width="0.7" />
<text x="418.37" y="346.8" font-size="7" text-anchor="middle" fill="#444" >15</text>
<text x="390.6" y="353.2" font-size="7.3" text-anchor="middle" fill="#333" >Thickness (nm)</text>
<text x="0" y="0" font-size="7.3" text-anchor="middle" fill="#333" transform="translate(340.5 314) rotate(-90)">EOT (nm)</text>
<text x="487" y="216.5" font-size="15.3" text-anchor="start" fill="#111" >f</text>
<clipPath id="cf"><rect x="503.8" y="210.3" width="180.2" height="151.0"/></clipPath>
<g clip-path="url(#cf)">
<line x1="503.8" y1="238.6" x2="684" y2="238.6" stroke="#aaa" stroke-width="0.8" stroke-dasharray="1.5 1.5"/>
<line x1="503.8" y1="326.4" x2="684" y2="326.4" stroke="#aaa" stroke-width="0.8" stroke-dasharray="1.5 1.5"/>
<use href="#mee1a78_2p7" x="530.83" y="313.91"/>
<use href="#mee1a78_2p7" x="536.72" y="308.58"/>
<use href="#mee1a78_2p7" x="534.65" y="311.6"/>
<use href="#mee1a78_2p7" x="526.04" y="318.26"/>
<use href="#mee1a78_2p7" x="525.67" y="318.4"/>
<use href="#mee1a78_2p7" x="526.26" y="317.36"/>
<use href="#mee1a78_2p7" x="532.64" y="314.36"/>
<use href="#mee1a78_2p7" x="527.23" y="316.85"/>
<use href="#mee1a78_2p7" x="536.29" y="311.61"/>
<use href="#mee1a78_2p7" x="535.39" y="311"/>
<use href="#mee1a78_2p7" x="542.57" y="302.25"/>
<use href="#mee1a78_2p7" x="540.45" y="305.11"/>
<use href="#mee1a78_2p7" x="527.6" y="316.36"/>
<use href="#mee1a78_2p7" x="530.55" y="315.74"/>
<use href="#mee1a78_2p7" x="528.25" y="316.81"/>
<use href="#mee1a78_2p7" x="536.5" y="309.69"/>
<use href="#mee1a78_2p7" x="534.86" y="310.51"/>
<use href="#mee1a78_2p7" x="526.07" y="317.7"/>
<use href="#mee1a78_2p7" x="537.25" y="309.02"/>
<use href="#mee1a78_2p7" x="530.65" y="315.11"/>
<use href="#mee1a78_2p7" x="533.16" y="312.52"/>
<use href="#mee1a78_2p7" x="539.3" y="307.42"/>
<use href="#mee1a78_2p7" x="529.39" y="315.98"/>
<use href="#mee1a78_2p7" x="534.45" y="313.28"/>
<use href="#mee1a78_2p7" x="538.13" y="307.65"/>
<use href="#mee1a78_2p7" x="542.64" y="302.33"/>
<use href="#mee1a78_2p7" x="532.53" y="314.25"/>
<use href="#mee1a78_2p7" x="527.74" y="316.99"/>
<use href="#mee1a78_2p7" x="525.71" y="318.78"/>
<use href="#mee1a78_2p7" x="538.76" y="307.71"/>
<use href="#mee1a78_2p7" x="540.76" y="304.83"/>
<use href="#mee1a78_2p7" x="537.52" y="309.18"/>
<use href="#mee1a78_2p7" x="535.44" y="311.12"/>
<use href="#mee1a78_2p7" x="540.12" y="307.08"/>
<use href="#mee1a78_2p7" x="533.53" y="313.29"/>
<use href="#mee1a78_2p7" x="526.09" y="318.56"/>
<use href="#mee1a78_2p7" x="536.65" y="311.32"/>
<use href="#mee1a78_2p7" x="539.79" y="305.82"/>
<use href="#mee1a78_2p7" x="531.94" y="314.41"/>
<use href="#mee1a78_2p7" x="525.41" y="318.64"/>
<use href="#mee1a78_2p7" x="528.02" y="316.02"/>
<use href="#mee1a78_2p7" x="526.06" y="318.7"/>
<use href="#mee1a78_2p7" x="527.33" y="316.82"/>
<use href="#mee1a78_2p7" x="532.04" y="314.88"/>
<use href="#mee1a78_2p7" x="526.45" y="317.86"/>
<use href="#mee1a78_2p7" x="534.89" y="313.01"/>
<use href="#mee1a78_2p7" x="539.75" y="307.32"/>
<use href="#mee1a78_2p7" x="530.01" y="315.17"/>
<use href="#mee1a78_2p7" x="531.46" y="315.3"/>
<use href="#mee1a78_2p7" x="542.24" y="302.84"/>
<use href="#mee1a78_2p7" x="528.17" y="316.14"/>
<use href="#mee1a78_2p7" x="529.2" y="315.92"/>
<use href="#mee1a78_2p7" x="535.6" y="310.35"/>
<use href="#mee1a78_2p7" x="525.07" y="318.82"/>
<use href="#mee1a78_2p7" x="531.65" y="314.35"/>
<use href="#m1a1ae6_2p7" x="580.89" y="297.1"/>
<use href="#m1a1ae6_2p7" x="561.2" y="314.81"/>
<use href="#m1a1ae6_2p7" x="568.43" y="306.68"/>
<use href="#m1a1ae6_2p7" x="578.48" y="301.37"/>
<use href="#m1a1ae6_2p7" x="577.35" y="303.29"/>
<use href="#m1a1ae6_2p7" x="555.66" y="315.93"/>
<use href="#m1a1ae6_2p7" x="542.66" y="319.05"/>
<use href="#m1a1ae6_2p7" x="540.8" y="318.69"/>
<use href="#m1a1ae6_2p7" x="547.39" y="317.57"/>
<use href="#m1a1ae6_2p7" x="553.3" y="315.41"/>
<use href="#m1a1ae6_2p7" x="538.01" y="319.29"/>
<use href="#m1a1ae6_2p7" x="542.57" y="318.72"/>
<use href="#m1a1ae6_2p7" x="539.15" y="319.64"/>
<use href="#m1a1ae6_2p7" x="565.63" y="309.31"/>
<use href="#m1a1ae6_2p7" x="549.35" y="317.63"/>
<use href="#m1a1ae6_2p7" x="554.39" y="315.23"/>
<use href="#m1a1ae6_2p7" x="576.2" y="306.64"/>
<use href="#m1a1ae6_2p7" x="558.97" y="315.06"/>
<use href="#m1a1ae6_2p7" x="541.86" y="318.52"/>
<use href="#m1a1ae6_2p7" x="553.42" y="316.15"/>
<use href="#m1a1ae6_2p7" x="575.3" y="301.25"/>
<use href="#m1a1ae6_2p7" x="539.04" y="319.7"/>
<use href="#m1a1ae6_2p7" x="561.77" y="311.81"/>
<use href="#m1a1ae6_2p7" x="562.44" y="310.65"/>
<use href="#m1a1ae6_2p7" x="561.76" y="316.65"/>
<use href="#m1a1ae6_2p7" x="576.85" y="303.37"/>
<use href="#m1a1ae6_2p7" x="549.75" y="317.62"/>
<use href="#m1a1ae6_2p7" x="545.52" y="318.96"/>
<use href="#m1a1ae6_2p7" x="561.97" y="315.41"/>
<use href="#m1a1ae6_2p7" x="552.83" y="316.21"/>
<use href="#m1a1ae6_2p7" x="574.52" y="309.01"/>
<use href="#m1a1ae6_2p7" x="576.37" y="304.94"/>
<use href="#m1a1ae6_2p7" x="574.82" y="306.7"/>
<use href="#m1a1ae6_2p7" x="548.2" y="318.17"/>
<use href="#m1a1ae6_2p7" x="554" y="315.01"/>
<use href="#m1a1ae6_2p7" x="539.26" y="319.16"/>
<use href="#m1a1ae6_2p7" x="549.66" y="318.39"/>
<use href="#m1a1ae6_2p7" x="581.04" y="295.79"/>
<use href="#m1a1ae6_2p7" x="580.17" y="299.7"/>
<use href="#m1a1ae6_2p7" x="580.98" y="295.52"/>
<use href="#m1a1ae6_2p7" x="547.92" y="317.61"/>
<use href="#m1a1ae6_2p7" x="546.85" y="317.75"/>
<use href="#m1a1ae6_2p7" x="566.08" y="314.33"/>
<use href="#m1a1ae6_2p7" x="575.82" y="303.21"/>
<use href="#m1a1ae6_2p7" x="567.38" y="312.71"/>
<use href="#m1a1ae6_2p7" x="541.82" y="319.18"/>
<use href="#m1a1ae6_2p7" x="578.94" y="300.64"/>
<use href="#m1a1ae6_2p7" x="571.76" y="307.09"/>
<use href="#m1a1ae6_2p7" x="546.03" y="318.95"/>
<use href="#m1a1ae6_2p7" x="552.96" y="318.21"/>
<use href="#m1a1ae6_2p7" x="581.72" y="294.65"/>
<use href="#m1a1ae6_2p7" x="556.06" y="318.24"/>
<use href="#m1a1ae6_2p7" x="570.62" y="305.82"/>
<use href="#m1a1ae6_2p7" x="543.72" y="318.23"/>
<use href="#m1a1ae6_2p7" x="578.72" y="301.14"/>
<use href="#m1a1ae6_2p7" x="544.58" y="319.14"/>
<use href="#m1a1ae6_2p7" x="582.11" y="295.09"/>
<use href="#m1a1ae6_2p7" x="553.77" y="317.13"/>
<use href="#m1a1ae6_2p7" x="543.89" y="317.99"/>
<use href="#m1a1ae6_2p7" x="581.69" y="295.7"/>
<use href="#m1a1ae6_2p7" x="561.7" y="316.41"/>
<use href="#m1a1ae6_2p7" x="557.52" y="317.44"/>
<use href="#m1a1ae6_2p7" x="575.18" y="301.81"/>
<use href="#m1a1ae6_2p7" x="549.33" y="317.51"/>
<use href="#m1a1ae6_2p7" x="548.82" y="318.25"/>
<use href="#m1a1ae6_2p7" x="549.67" y="317.75"/>
<use href="#m1a1ae6_2p7" x="543.9" y="319.32"/>
<use href="#m1a1ae6_2p7" x="553.92" y="316.74"/>
<use href="#m1a1ae6_2p7" x="564.25" y="315.37"/>
<use href="#m1a1ae6_2p7" x="556.93" y="317.84"/>
<use href="#m1a1ae6_2p7" x="560.57" y="314.63"/>
<use href="#m1a1ae6_2p7" x="561.56" y="311.22"/>
<use href="#m1a1ae6_2p7" x="557.81" y="314.06"/>
<use href="#m1a1ae6_2p7" x="538.18" y="319.66"/>
<use href="#m1a1ae6_2p7" x="545.76" y="318.42"/>
<use href="#m1a1ae6_2p7" x="570.63" y="308.62"/>
<use href="#m1a1ae6_2p7" x="552.67" y="317.28"/>
<use href="#m1a1ae6_2p7" x="562.99" y="315.04"/>
<use href="#m1a1ae6_2p7" x="542.77" y="318.94"/>
<use href="#m1a1ae6_2p7" x="549.18" y="317.5"/>
<use href="#m1a1ae6_2p7" x="572.75" y="306.47"/>
<use href="#m1a1ae6_2p7" x="563.28" y="314.78"/>
<use href="#m1a1ae6_2p7" x="579.06" y="298.5"/>
<use href="#m1a1ae6_2p7" x="565.56" y="311.89"/>
<use href="#m1a1ae6_2p7" x="561.05" y="315.29"/>
<use href="#m1a1ae6_2p7" x="558.36" y="315.53"/>
<use href="#m1a1ae6_2p7" x="559.51" y="317.15"/>
<use href="#m1a1ae6_2p7" x="569.46" y="311.8"/>
<use href="#m1a1ae6_2p7" x="580.4" y="295.77"/>
<use href="#m1a1ae6_2p7" x="563.18" y="315.99"/>
<use href="#m1a1ae6_2p7" x="575.8" y="300.5"/>
<use href="#m1a1ae6_2p7" x="543.47" y="318.69"/>
<use href="#m1a1ae6_2p7" x="541.26" y="318.78"/>
<use href="#m1a1ae6_2p7" x="541.29" y="319.25"/>
<use href="#m1a1ae6_2p7" x="573.28" y="309.17"/>
<use href="#m1a1ae6_2p7" x="544.95" y="318.93"/>
<use href="#m1a1ae6_2p7" x="567.71" y="307.82"/>
<use href="#m1a1ae6_2p7" x="577.73" y="303.81"/>
<use href="#m1a1ae6_2p7" x="547.88" y="319.12"/>
<use href="#m1a1ae6_2p7" x="555.92" y="316.22"/>
<use href="#m1a1ae6_2p7" x="582.54" y="295.03"/>
<use href="#m1a1ae6_2p7" x="545.27" y="318.41"/>
<use href="#m1a1ae6_2p7" x="561.2" y="313.25"/>
<use href="#m1a1ae6_2p7" x="546.81" y="317.98"/>
<use href="#m1a1ae6_2p7" x="570.5" y="304.84"/>
<use href="#m1a1ae6_2p7" x="562.93" y="312.91"/>
<use href="#m1a1ae6_2p7" x="538.81" y="319.27"/>
<use href="#m1a1ae6_2p7" x="566.08" y="311.58"/>
<use href="#m1a1ae6_2p7" x="540.89" y="319.61"/>
<use href="#m1a1ae6_2p7" x="573.48" y="309.64"/>
<use href="#m1a1ae6_2p7" x="542.72" y="318.56"/>
<use href="#m1a1ae6_2p7" x="539.78" y="319.5"/>
<use href="#m1a1ae6_2p7" x="550.17" y="316.94"/>
<use href="#m1a1ae6_2p7" x="557" y="317.79"/>
<use href="#m1a1ae6_2p7" x="574.85" y="302.56"/>
<use href="#m1a1ae6_2p7" x="544.72" y="319.27"/>
<use href="#m1a1ae6_2p7" x="563.68" y="314.23"/>
<use href="#m1a1ae6_2p7" x="542.03" y="318.43"/>
<use href="#m1a1ae6_2p7" x="568.97" y="308.94"/>
<use href="#m1a1ae6_2p7" x="541.26" y="319.54"/>
<use href="#m1a1ae6_2p7" x="566.55" y="313.31"/>
<use href="#m1a1ae6_2p7" x="541.77" y="319.41"/>
<use href="#m1a1ae6_2p7" x="541" y="319.48"/>
<use href="#m1a1ae6_2p7" x="558.42" y="314.56"/>
<use href="#m1a1ae6_2p7" x="562.89" y="315.97"/>
<use href="#m1a1ae6_2p7" x="550.05" y="316.99"/>
<use href="#m1a1ae6_2p7" x="561.71" y="312.38"/>
<use href="#m1a1ae6_2p7" x="542.93" y="318.39"/>
<use href="#m1a1ae6_2p7" x="540.27" y="318.92"/>
<use href="#m1a1ae6_2p7" x="552.04" y="316.76"/>
<use href="#m1a1ae6_2p7" x="572.18" y="305.27"/>
<use href="#m1a1ae6_2p7" x="560.5" y="312.79"/>
<use href="#m1a1ae6_2p7" x="553.62" y="315.14"/>
<use href="#m1a1ae6_2p7" x="549.27" y="316.89"/>
<use href="#m1a1ae6_2p7" x="570.99" y="308.29"/>
<use href="#m1a1ae6_2p7" x="546.53" y="318.31"/>
<use href="#m1a1ae6_2p7" x="580.06" y="295.42"/>
<use href="#m1a1ae6_2p7" x="574.85" y="304.05"/>
<use href="#m1a1ae6_2p7" x="560.28" y="316.36"/>
<use href="#m1a1ae6_2p7" x="555.69" y="316.4"/>
<use href="#m1a1ae6_2p7" x="568.95" y="312.91"/>
<use href="#m1a1ae6_2p7" x="553.42" y="318.27"/>
<use href="#m1a1ae6_2p7" x="569.8" y="309.85"/>
<use href="#m1a1ae6_2p7" x="556.21" y="315.48"/>
<use href="#m1a1ae6_2p7" x="540.45" y="318.82"/>
<use href="#m1a1ae6_2p7" x="541.18" y="319.33"/>
<use href="#m1a1ae6_2p7" x="549.5" y="317.18"/>
<use href="#m1a1ae6_2p7" x="541.8" y="319.39"/>
<use href="#m1a1ae6_2p7" x="577.17" y="302.69"/>
<use href="#m1a1ae6_2p7" x="550.69" y="317.04"/>
<use href="#mf03ee8_2p7" x="544" y="329"/>
<use href="#mf03ee8_2p7" x="549" y="331"/>
<use href="#mf03ee8_2p7" x="555" y="329.5"/>
<use href="#mf03ee8_2p7" x="538" y="328"/>
<use href="#mf03ee8_2p7" x="530" y="329"/>
<use href="#mf03ee8_2p7" x="560" y="327.5"/>
<use href="#m3ab6f0_2p7" x="536.09" y="323.73"/>
<use href="#m3ab6f0_2p7" x="521.25" y="325.49"/>
<use href="#m3ab6f0_2p7" x="532.83" y="327.95"/>
<use href="#m3ab6f0_2p7" x="610.5" y="289.81"/>
<use href="#m3ab6f0_2p7" x="530.77" y="328.38"/>
<use href="#m3ab6f0_2p7" x="537.9" y="322.79"/>
<use href="#m3ab6f0_2p7" x="504.12" y="327.61"/>
<use href="#m3ab6f0_2p7" x="555.97" y="320.92"/>
<use href="#m3ab6f0_2p7" x="526.01" y="325.39"/>
<use href="#m3ab6f0_2p7" x="504.54" y="326.19"/>
<use href="#m3ab6f0_2p7" x="513.83" y="326.23"/>
<use href="#m3ab6f0_2p7" x="508.56" y="322.96"/>
<use href="#m3ab6f0_2p7" x="537.31" y="322"/>
<use href="#m3ab6f0_2p7" x="568.12" y="317.77"/>
<use href="#m3ab6f0_2p7" x="586.18" y="310"/>
<use href="#m3ab6f0_2p7" x="582.4" y="314.18"/>
<use href="#m3ab6f0_2p7" x="546.65" y="321.36"/>
<use href="#m3ab6f0_2p7" x="611.83" y="288.47"/>
<use href="#m3ab6f0_2p7" x="583.3" y="311.94"/>
<use href="#m3ab6f0_2p7" x="508.79" y="331.8"/>
<use href="#m3ab6f0_2p7" x="601.67" y="298.46"/>
<use href="#m3ab6f0_2p7" x="584.36" y="312.3"/>
<use href="#m3ab6f0_2p7" x="519.25" y="326.51"/>
<use href="#m3ab6f0_2p7" x="559.23" y="322.1"/>
<use href="#m3ab6f0_2p7" x="592.11" y="306.75"/>
<use href="#m3ab6f0_2p7" x="567.95" y="319.82"/>
<use href="#m3ab6f0_2p7" x="578.78" y="315.05"/>
<use href="#m3ab6f0_2p7" x="529.18" y="321.15"/>
<use href="#m3ab6f0_2p7" x="518.57" y="325.08"/>
<use href="#m3ab6f0_2p7" x="515.49" y="330.29"/>
<use href="#m3ab6f0_2p7" x="565.16" y="319.26"/>
<use href="#m3ab6f0_2p7" x="572.57" y="317.12"/>
<use href="#m3ab6f0_2p7" x="557.58" y="318.02"/>
<use href="#m3ab6f0_2p7" x="591.35" y="306.86"/>
<use href="#m3ab6f0_2p7" x="559.08" y="320.58"/>
<use href="#m3ab6f0_2p7" x="576.19" y="311.84"/>
<use href="#m3ab6f0_2p7" x="584.68" y="308.42"/>
<use href="#m3ab6f0_2p7" x="512.15" y="325.1"/>
<use href="#m3ab6f0_2p7" x="583.86" y="308.64"/>
<use href="#m3ab6f0_2p7" x="585.01" y="312.88"/>
<use href="#m3ab6f0_2p7" x="558.09" y="319.95"/>
<use href="#m3ab6f0_2p7" x="556.45" y="321.81"/>
<use href="#m3ab6f0_2p7" x="587.98" y="308.48"/>
<use href="#m3ab6f0_2p7" x="574.38" y="312.71"/>
<use href="#m3ab6f0_2p7" x="520.14" y="323.85"/>
<use href="#m3ab6f0_2p7" x="585.38" y="308.29"/>
<use href="#m3ab6f0_2p7" x="566.17" y="315.61"/>
<use href="#m3ab6f0_2p7" x="510.64" y="325.36"/>
<use href="#m3ab6f0_2p7" x="577.58" y="315.45"/>
<use href="#m3ab6f0_2p7" x="577.99" y="312.58"/>
<use href="#m3ab6f0_2p7" x="560.56" y="319.89"/>
<use href="#m3ab6f0_2p7" x="555.06" y="318.97"/>
<use href="#m3ab6f0_2p7" x="601.86" y="296.6"/>
<use href="#m3ab6f0_2p7" x="611.1" y="289.43"/>
<use href="#m3ab6f0_2p7" x="505.92" y="328.19"/>
<use href="#m3ab6f0_2p7" x="593.78" y="306.29"/>
<use href="#m3ab6f0_2p7" x="553.21" y="320.06"/>
<use href="#m3ab6f0_2p7" x="526.98" y="328.95"/>
<use href="#m3ab6f0_2p7" x="527.07" y="325.89"/>
<use href="#m3ab6f0_2p7" x="519.52" y="326.46"/>
<use href="#m3ab6f0_2p7" x="608.33" y="291.23"/>
<use href="#m3ab6f0_2p7" x="593.81" y="303.8"/>
<use href="#m3ab6f0_2p7" x="601.11" y="299.32"/>
<use href="#m3ab6f0_2p7" x="529.34" y="328.11"/>
<use href="#m3ab6f0_2p7" x="557.23" y="318.18"/>
<use href="#m3ab6f0_2p7" x="504.39" y="328.83"/>
<use href="#m3ab6f0_2p7" x="553.36" y="320.22"/>
<use href="#m3ab6f0_2p7" x="519.41" y="324.79"/>
<use href="#m3ab6f0_2p7" x="538.61" y="325.99"/>
<use href="#m3ab6f0_2p7" x="504.19" y="331.87"/>
<use href="#m3ab6f0_2p7" x="595.88" y="300.39"/>
<use href="#m3ab6f0_2p7" x="605.44" y="295.01"/>
<use href="#m3ab6f0_2p7" x="602.72" y="296.23"/>
<use href="#m3ab6f0_2p7" x="544.76" y="322.06"/>
<use href="#m3ab6f0_2p7" x="613.37" y="287.12"/>
<use href="#m3ab6f0_2p7" x="543.5" y="322.48"/>
<use href="#m3ab6f0_2p7" x="534.13" y="320.94"/>
<use href="#m3ab6f0_2p7" x="515.14" y="330.36"/>
<use href="#m3ab6f0_2p7" x="535.28" y="327.28"/>
<use href="#m3ab6f0_2p7" x="531.3" y="322.83"/>
<use href="#m3ab6f0_2p7" x="559.95" y="318.68"/>
<use href="#m3ab6f0_2p7" x="544.88" y="325.55"/>
<use href="#m3ab6f0_2p7" x="600.83" y="300.07"/>
<use href="#m3ab6f0_2p7" x="573.08" y="318.35"/>
<use href="#m3ab6f0_2p7" x="607.01" y="293.11"/>
<use href="#m3ab6f0_2p7" x="582.79" y="308.29"/>
<use href="#m3ab6f0_2p7" x="584.19" y="310.04"/>
<use href="#m3ab6f0_2p7" x="586.42" y="309.75"/>
<use href="#m3ab6f0_2p7" x="535.34" y="320.86"/>
<use href="#m3ab6f0_2p7" x="605.48" y="293.47"/>
<use href="#m3ab6f0_2p7" x="555.7" y="320.1"/>
<use href="#m3ab6f0_2p7" x="536.61" y="325.64"/>
<use href="#m3ab6f0_2p7" x="610.9" y="289.27"/>
<use href="#m3ab6f0_2p7" x="575.83" y="313.52"/>
<use href="#m3ab6f0_2p7" x="565.03" y="318.05"/>
<use href="#m3ab6f0_2p7" x="522.32" y="322.8"/>
<use href="#m3ab6f0_2p7" x="526.76" y="328.66"/>
<use href="#m3ab6f0_2p7" x="558.43" y="319.04"/>
<use href="#m3ab6f0_2p7" x="603.24" y="298.19"/>
<use href="#m3ab6f0_2p7" x="553.27" y="319.32"/>
<use href="#m3ab6f0_2p7" x="525.07" y="321.95"/>
<use href="#m3ab6f0_2p7" x="541.44" y="320.61"/>
<use href="#m3ab6f0_2p7" x="530.18" y="322.89"/>
<use href="#m3ab6f0_2p7" x="566.37" y="320.28"/>
<use href="#m3ab6f0_2p7" x="586.09" y="308.51"/>
<use href="#m3ab6f0_2p7" x="549.32" y="322.13"/>
<use href="#m3ab6f0_2p7" x="545.27" y="321.64"/>
<use href="#m3ab6f0_2p7" x="510.8" y="325.43"/>
<use href="#m3ab6f0_2p7" x="609.96" y="289.94"/>
<use href="#m3ab6f0_2p7" x="559.12" y="321.06"/>
<use href="#m3ab6f0_2p7" x="598.48" y="299.18"/>
<use href="#m3ab6f0_2p7" x="533.68" y="322.46"/>
<use href="#m3ab6f0_2p7" x="547.77" y="321.91"/>
<use href="#m3ab6f0_2p7" x="608.46" y="292.18"/>
<use href="#m3ab6f0_2p7" x="599.58" y="297.56"/>
<use href="#m3ab6f0_2p7" x="507.53" y="330.7"/>
<use href="#m3ab6f0_2p7" x="602.08" y="297.47"/>
<use href="#m3ab6f0_2p7" x="568.3" y="314.8"/>
<use href="#m3ab6f0_2p7" x="546.87" y="324.98"/>
<use href="#m3ab6f0_2p7" x="594.4" y="305.23"/>
<use href="#m3ab6f0_2p7" x="610.46" y="289.63"/>
<use href="#m3ab6f0_2p7" x="515.94" y="323.46"/>
<use href="#m3ab6f0_2p7" x="561.2" y="320.8"/>
<use href="#m3ab6f0_2p7" x="607.09" y="293.37"/>
<use href="#m3ab6f0_2p7" x="574.88" y="316.85"/>
<use href="#m3ab6f0_2p7" x="554.08" y="321.5"/>
<use href="#m3ab6f0_2p7" x="508.33" y="331.33"/>
<use href="#m3ab6f0_2p7" x="529.47" y="328.26"/>
<use href="#m3ab6f0_2p7" x="574.68" y="314.01"/>
<use href="#m3ab6f0_2p7" x="518.01" y="324.12"/>
<use href="#m3ab6f0_2p7" x="573.67" y="316.84"/>
<use href="#m3ab6f0_2p7" x="516.28" y="322.59"/>
<use href="#m3ab6f0_2p7" x="561.43" y="320.22"/>
<use href="#m3ab6f0_2p7" x="546.49" y="320.75"/>
<use href="#m3ab6f0_2p7" x="569.82" y="314.32"/>
<use href="#m3ab6f0_2p7" x="537.02" y="323.62"/>
<use href="#m3ab6f0_2p7" x="609" y="291.35"/>
<use href="#m3ab6f0_2p7" x="600.77" y="298.68"/>
<use href="#m3ab6f0_2p7" x="529.71" y="322.84"/>
<use href="#m3ab6f0_2p7" x="609.19" y="291.24"/>
<use href="#m3ab6f0_2p7" x="537.66" y="320.5"/>
<use href="#m3ab6f0_2p7" x="558.56" y="321.39"/>
<use href="#m3ab6f0_2p7" x="549.99" y="320.46"/>
<use href="#m3ab6f0_2p7" x="577.08" y="317.18"/>
<use href="#m3ab6f0_2p7" x="528.83" y="321.2"/>
<use href="#m3ab6f0_2p7" x="541.02" y="322.82"/>
<use href="#m3ab6f0_2p7" x="578.74" y="311.64"/>
<use href="#m3ab6f0_2p7" x="591.28" y="306.86"/>
<use href="#m3ab6f0_2p7" x="559.28" y="318.85"/>
<use href="#m3ab6f0_2p7" x="610.2" y="289.9"/>
<use href="#m3ab6f0_2p7" x="593.79" y="302.32"/>
<use href="#m3ab6f0_2p7" x="528.25" y="327.19"/>
<use href="#m3ab6f0_2p7" x="536.3" y="327.2"/>
<use href="#m3ab6f0_2p7" x="558.29" y="318.89"/>
<use href="#m3ab6f0_2p7" x="528.45" y="324.35"/>
<use href="#m3ab6f0_2p7" x="576.85" y="317.41"/>
<use href="#m3ab6f0_2p7" x="520.03" y="325.16"/>
<use href="#m3ab6f0_2p7" x="527.32" y="329.12"/>
<use href="#m3ab6f0_2p7" x="519.54" y="322.03"/>
<use href="#m3ab6f0_2p7" x="510.58" y="326.69"/>
<use href="#m3ab6f0_2p7" x="602.35" y="298.76"/>
<use href="#m3ab6f0_2p7" x="584.23" y="313.61"/>
<use href="#m3ab6f0_2p7" x="606.01" y="293.53"/>
<use href="#m3ab6f0_2p7" x="524.31" y="329.38"/>
<use href="#m3ab6f0_2p7" x="585.72" y="306.33"/>
<use href="#m3ab6f0_2p7" x="576.76" y="313.66"/>
<use href="#m3ab6f0_2p7" x="544.94" y="321.65"/>
<use href="#m3ab6f0_2p7" x="522.53" y="321.36"/>
<use href="#m3ab6f0_2p7" x="534.64" y="323.12"/>
<use href="#m3ab6f0_2p7" x="608.63" y="290.98"/>
<use href="#m3ab6f0_2p7" x="609.59" y="290.32"/>
<use href="#m3ab6f0_2p7" x="543.05" y="325.05"/>
<use href="#m3ab6f0_2p7" x="594.01" y="303.26"/>
<use href="#m3ab6f0_2p7" x="509.39" y="327.75"/>
<use href="#m3ab6f0_2p7" x="544.81" y="325.34"/>
<use href="#m3ab6f0_2p7" x="525.14" y="324.3"/>
<use href="#m3ab6f0_2p7" x="602.22" y="295.67"/>
<use href="#m3ab6f0_2p7" x="548.98" y="323.89"/>
<use href="#m3ab6f0_2p7" x="587.95" y="304.98"/>
<use href="#m3ab6f0_2p7" x="507.82" y="323.49"/>
<use href="#m3ab6f0_2p7" x="604.75" y="294.41"/>
<use href="#m3ab6f0_2p7" x="585.83" y="311.78"/>
<use href="#m3ab6f0_2p7" x="541.13" y="321.83"/>
<use href="#m3ab6f0_2p7" x="608.87" y="291.44"/>
<use href="#m3ab6f0_2p7" x="532.71" y="326.11"/>
<use href="#m3ab6f0_2p7" x="538.65" y="322.16"/>
<use href="#m3ab6f0_2p7" x="504.41" y="331.88"/>
<use href="#m3ab6f0_2p7" x="604.35" y="295.87"/>
<use href="#m3ab6f0_2p7" x="607.29" y="291.85"/>
<use href="#m3ab6f0_2p7" x="529.61" y="324.68"/>
<use href="#m3ab6f0_2p7" x="608.77" y="292"/>
<use href="#m3ab6f0_2p7" x="546.32" y="320.95"/>
<use href="#m3ab6f0_2p7" x="551.08" y="321.66"/>
<use href="#m3ab6f0_2p7" x="605.63" y="293.49"/>
<use href="#m3ab6f0_2p7" x="591.88" y="306.42"/>
<use href="#m3ab6f0_2p7" x="594.09" y="305.02"/>
<use href="#m3ab6f0_2p7" x="570.49" y="315.84"/>
<use href="#m3ab6f0_2p7" x="538.99" y="322.7"/>
<use href="#m3ab6f0_2p7" x="589.66" y="304.13"/>
<use href="#m3ab6f0_2p7" x="525.61" y="327.57"/>
<use href="#m3ab6f0_2p7" x="531.08" y="321.28"/>
<use href="#m3ab6f0_2p7" x="507.71" y="328.92"/>
<use href="#m3ab6f0_2p7" x="539.67" y="326.73"/>
<use href="#m3ab6f0_2p7" x="600.74" y="300.92"/>
<use href="#m3ab6f0_2p7" x="533.01" y="321.29"/>
<use href="#m3ab6f0_2p7" x="514.56" y="327.1"/>
<use href="#m3ab6f0_2p7" x="581.72" y="311.7"/>
<use href="#m3ab6f0_2p7" x="529.64" y="324.21"/>
<use href="#m3ab6f0_2p7" x="571.92" y="317.3"/>
<use href="#m3ab6f0_2p7" x="585.9" y="311.4"/>
<use href="#m3ab6f0_2p7" x="576.75" y="311.96"/>
<use href="#m3ab6f0_2p7" x="596.08" y="301.15"/>
<use href="#m3ab6f0_2p7" x="566.07" y="317.59"/>
<use href="#m3ab6f0_2p7" x="584.82" y="307.98"/>
<use href="#m3ab6f0_2p7" x="531.09" y="322.69"/>
<use href="#m3ab6f0_2p7" x="520.79" y="329.58"/>
<use href="#m3ab6f0_2p7" x="567.32" y="316.92"/>
<use href="#m3ab6f0_2p7" x="547.37" y="325.28"/>
<use href="#m3ab6f0_2p7" x="559.55" y="318.94"/>
<use href="#m3ab6f0_2p7" x="592.52" y="305.49"/>
<use href="#m3ab6f0_2p7" x="612.51" y="287.92"/>
<use href="#m3ab6f0_2p7" x="555.99" y="322.63"/>
<use href="#m3ab6f0_2p7" x="596.04" y="304.33"/>
<use href="#m3ab6f0_2p7" x="508.42" y="325.95"/>
<use href="#m3ab6f0_2p7" x="517.05" y="323.66"/>
<use href="#m3ab6f0_2p7" x="610.54" y="289.8"/>
<use href="#m3ab6f0_2p7" x="605.85" y="293.77"/>
<use href="#m3ab6f0_2p7" x="598.84" y="300.06"/>
<use href="#m3ab6f0_2p7" x="532.46" y="326.61"/>
<use href="#m3ab6f0_2p7" x="607.55" y="291.79"/>
<use href="#m3ab6f0_2p7" x="569.28" y="317.9"/>
<use href="#m3ab6f0_2p7" x="527.83" y="324.03"/>
<use href="#m3ab6f0_2p7" x="519.48" y="323.47"/>
<use href="#m3ab6f0_2p7" x="531.91" y="325.34"/>
<use href="#m3ab6f0_2p7" x="575.35" y="313.09"/>
<use href="#m3ab6f0_2p7" x="505.25" y="326.81"/>
<use href="#m3ab6f0_2p7" x="578.28" y="311.74"/>
<use href="#m3ab6f0_2p7" x="538.19" y="321.71"/>
<use href="#m3ab6f0_2p7" x="591.08" y="305.9"/>
<use href="#m3ab6f0_2p7" x="510.93" y="323.54"/>
<use href="#m3ab6f0_2p7" x="547.28" y="322.62"/>
<use href="#m3ab6f0_2p7" x="573.99" y="312.97"/>
<use href="#m3ab6f0_2p7" x="521.92" y="327.66"/>
<use href="#m3ab6f0_2p7" x="548.87" y="320.77"/>
<use href="#m3ab6f0_2p7" x="537.68" y="326.94"/>
<use href="#m3ab6f0_2p7" x="538.2" y="324.19"/>
<use href="#m3ab6f0_2p7" x="543.11" y="322.46"/>
<use href="#m3ab6f0_2p7" x="598.63" y="302.81"/>
<use href="#m3ab6f0_2p7" x="543.83" y="320.97"/>
<use href="#m3ab6f0_2p7" x="583.72" y="308.73"/>
<use href="#m3ab6f0_2p7" x="504.64" y="333.51"/>
<use href="#m3ab6f0_2p7" x="550.4" y="323.67"/>
<use href="#m3ab6f0_2p7" x="548.48" y="324.41"/>
<use href="#m3ab6f0_2p7" x="554.47" y="319.29"/>
<use href="#m3ab6f0_2p7" x="505.62" y="329.3"/>
<use href="#m3ab6f0_2p7" x="574.15" y="317.99"/>
<use href="#m3ab6f0_2p7" x="513.75" y="328.51"/>
<use href="#m3ab6f0_2p7" x="544.61" y="322.78"/>
<use href="#m3ab6f0_2p7" x="519.97" y="324.14"/>
<use href="#m3ab6f0_2p7" x="561.07" y="322.1"/>
<use href="#m3ab6f0_2p7" x="515.91" y="326.78"/>
<use href="#m3ab6f0_2p7" x="592.13" y="307.52"/>
<use href="#m3ab6f0_2p7" x="525.61" y="322.22"/>
<use href="#m3ab6f0_2p7" x="607.27" y="293.68"/>
<use href="#m3ab6f0_2p7" x="556.86" y="318.38"/>
<use href="#m3ab6f0_2p7" x="605.42" y="294.19"/>
<use href="#m3ab6f0_2p7" x="603.01" y="297.13"/>
<use href="#m3ab6f0_2p7" x="594.29" y="301.62"/>
<use href="#m3ab6f0_2p7" x="590.05" y="304.72"/>
<use href="#m3ab6f0_2p7" x="548.29" y="324.22"/>
<use href="#m3ab6f0_2p7" x="594.8" y="301.41"/>
<use href="#m3ab6f0_2p7" x="527.89" y="324.28"/>
<use href="#m3ab6f0_2p7" x="560.71" y="319.42"/>
<use href="#m3ab6f0_2p7" x="517.47" y="324.16"/>
<use href="#m3ab6f0_2p7" x="583.37" y="313.58"/>
<use href="#m3ab6f0_2p7" x="508.5" y="328.88"/>
<use href="#m3ab6f0_2p7" x="586.94" y="305.6"/>
<use href="#m3ab6f0_2p7" x="595.78" y="300.44"/>
<use href="#m3ab6f0_2p7" x="569.65" y="317.39"/>
<use href="#m3ab6f0_2p7" x="572.66" y="314.84"/>
<use href="#m3ab6f0_2p7" x="550" y="322.36"/>
<use href="#m3ab6f0_2p7" x="550.62" y="322.7"/>
<use href="#m3ab6f0_2p7" x="552.92" y="321.05"/>
<use href="#m3ab6f0_2p7" x="506.56" y="329.88"/>
<use href="#m3ab6f0_2p7" x="557.6" y="319.24"/>
<use href="#m3ab6f0_2p7" x="587.61" y="309.74"/>
<use href="#m3ab6f0_2p7" x="554.18" y="319.42"/>
<use href="#m3ab6f0_2p7" x="555.82" y="318.8"/>
<use href="#m3ab6f0_2p7" x="518.07" y="325.83"/>
<use href="#m3ab6f0_2p7" x="514.04" y="326.62"/>
<use href="#m3ab6f0_2p7" x="559.86" y="317.93"/>
<use href="#m3ab6f0_2p7" x="573.69" y="313.05"/>
<use href="#m3ab6f0_2p7" x="584.32" y="312.1"/>
<use href="#m3ab6f0_2p7" x="560.01" y="317.97"/>
<use href="#m3ab6f0_2p7" x="559.18" y="319.75"/>
<use href="#m3ab6f0_2p7" x="608.12" y="291.4"/>
<use href="#m3ab6f0_2p7" x="597.85" y="303.39"/>
<use href="#m3ab6f0_2p7" x="584.16" y="312.46"/>
<use href="#m3ab6f0_2p7" x="525.21" y="329.6"/>
<use href="#m3ab6f0_2p7" x="557.86" y="323"/>
<use href="#m3ab6f0_2p7" x="604.31" y="294.51"/>
<use href="#m3ab6f0_2p7" x="590.33" y="308.65"/>
<use href="#m3ab6f0_2p7" x="511.17" y="326.15"/>
<use href="#m3ab6f0_2p7" x="586.8" y="306.44"/>
<use href="#m3ab6f0_2p7" x="602.17" y="296.64"/>
<use href="#m3ab6f0_2p7" x="593.31" y="302.16"/>
<use href="#m3ab6f0_2p7" x="558.99" y="322.59"/>
<use href="#m3ab6f0_2p7" x="526.81" y="323.26"/>
<use href="#m3ab6f0_2p7" x="559.41" y="319.42"/>
<use href="#m3ab6f0_2p7" x="508.03" y="324.78"/>
<use href="#m3ab6f0_2p7" x="521.65" y="329.89"/>
<use href="#m3ab6f0_2p7" x="578.42" y="316.55"/>
<use href="#m3ab6f0_2p7" x="522.48" y="328.38"/>
<use href="#m3ab6f0_2p7" x="516.6" y="327.06"/>
<use href="#m3ab6f0_2p7" x="573.68" y="314.76"/>
<use href="#m3ab6f0_2p7" x="599.59" y="300.04"/>
<use href="#m3ab6f0_2p7" x="567.51" y="319.9"/>
<use href="#m3ab6f0_2p7" x="515.45" y="331.87"/>
<use href="#m3ab6f0_2p7" x="572.96" y="315.25"/>
<use href="#m3ab6f0_2p7" x="591.34" y="304.11"/>
<use href="#m3ab6f0_2p7" x="612.46" y="287.96"/>
<use href="#m3ab6f0_2p7" x="543.45" y="324.62"/>
<use href="#m3ab6f0_2p7" x="552.43" y="319.65"/>
<use href="#m3ab6f0_2p7" x="585.42" y="306.62"/>
<use href="#m3ab6f0_2p7" x="593.77" y="302.46"/>
<use href="#m3ab6f0_2p7" x="574" y="318.5"/>
<use href="#m3ab6f0_2p7" x="568.15" y="318.5"/>
<use href="#m3ab6f0_2p7" x="538.24" y="320.33"/>
<use href="#m3ab6f0_2p7" x="507.7" y="324.46"/>
<use href="#m3ab6f0_2p7" x="571.46" y="316.06"/>
<use href="#m3ab6f0_2p7" x="560.14" y="322.23"/>
<use href="#m3ab6f0_2p7" x="518.46" y="323.83"/>
<use href="#m3ab6f0_2p7" x="575.52" y="311.86"/>
<use href="#m3ab6f0_2p7" x="504.29" y="327.27"/>
<use href="#m3ab6f0_2p7" x="515.65" y="325.51"/>
<use href="#m3ab6f0_2p7" x="528.56" y="325.7"/>
<use href="#m3ab6f0_2p7" x="568.51" y="315.85"/>
<use href="#m3ab6f0_2p7" x="572.32" y="315.98"/>
<use href="#m3ab6f0_2p7" x="518.75" y="330.51"/>
<use href="#m3ab6f0_2p7" x="530.67" y="321.98"/>
<use href="#m3ab6f0_2p7" x="514.49" y="328.53"/>
<use href="#m3ab6f0_2p7" x="599.41" y="301.23"/>
<use href="#m3ab6f0_2p7" x="548.01" y="320.78"/>
<use href="#m3ab6f0_2p7" x="505.26" y="330.43"/>
<use href="#m3ab6f0_2p7" x="565.58" y="317.63"/>
<use href="#m3ab6f0_2p7" x="574.69" y="314.89"/>
<use href="#m3ab6f0_2p7" x="606.62" y="293.87"/>
<use href="#m3ab6f0_2p7" x="531.21" y="327.81"/>
<use href="#m3ab6f0_2p7" x="508.82" y="328.49"/>
<use href="#m3ab6f0_2p7" x="548.46" y="320.56"/>
<use href="#m3ab6f0_2p7" x="510.39" y="330.84"/>
<use href="#m3ab6f0_2p7" x="505.35" y="329.34"/>
<use href="#m3ab6f0_2p7" x="607.03" y="292.28"/>
<use href="#m3ab6f0_2p7" x="525.85" y="326.3"/>
<use href="#m3ab6f0_2p7" x="559.51" y="321.06"/>
<use href="#m3ab6f0_2p7" x="593.07" y="302.49"/>
<use href="#m3ab6f0_2p7" x="537.88" y="322.41"/>
<use href="#m3ab6f0_2p7" x="509.31" y="332.27"/>
<use href="#m3ab6f0_2p7" x="589.74" y="307.82"/>
<use href="#m3ab6f0_2p7" x="504.7" y="332.84"/>
<use href="#m3ab6f0_2p7" x="585.6" y="309.18"/>
<use href="#m3ab6f0_2p7" x="585.22" y="309.35"/>
<use href="#m3ab6f0_2p7" x="528.74" y="321.79"/>
<use href="#m3ab6f0_2p7" x="529.44" y="321.2"/>
<use href="#m3ab6f0_2p7" x="540.74" y="325.01"/>
<use href="#m3ab6f0_2p7" x="580.11" y="315.62"/>
<use href="#m3ab6f0_2p7" x="581.93" y="310.32"/>
<use href="#m3ab6f0_2p7" x="564.64" y="318.4"/>
<use href="#m3ab6f0_2p7" x="590.34" y="306.28"/>
<use href="#m3ab6f0_2p7" x="533.05" y="325.49"/>
<use href="#m3ab6f0_2p7" x="609.68" y="290.25"/>
<use href="#m3ab6f0_2p7" x="600.36" y="297"/>
<use href="#m3ab6f0_2p7" x="532.51" y="322.48"/>
<use href="#m3ab6f0_2p7" x="585.45" y="312.35"/>
<use href="#m3ab6f0_2p7" x="585.7" y="308.22"/>
<use href="#m3ab6f0_2p7" x="600.38" y="298.39"/>
<use href="#m3ab6f0_2p7" x="530.19" y="328.03"/>
<use href="#m3ab6f0_2p7" x="573.06" y="317.02"/>
<use href="#m3ab6f0_2p7" x="576.84" y="317.61"/>
<use href="#m3ab6f0_2p7" x="555.41" y="322.85"/>
<use href="#m3ab6f0_2p7" x="580.39" y="315.5"/>
<use href="#m3ab6f0_2p7" x="551.87" y="322.85"/>
<use href="#m3ab6f0_2p7" x="566.45" y="317.11"/>
<use href="#m3ab6f0_2p7" x="527.21" y="326.22"/>
<use href="#m3ab6f0_2p7" x="512.52" y="331.74"/>
<use href="#m3ab6f0_2p7" x="519.83" y="321.77"/>
<use href="#m3ab6f0_2p7" x="515.68" y="331.17"/>
<use href="#m3ab6f0_2p7" x="541.76" y="320.9"/>
<use href="#m3ab6f0_2p7" x="507.15" y="323.33"/>
<use href="#m3ab6f0_2p7" x="579.84" y="314.26"/>
<use href="#m3ab6f0_2p7" x="580.32" y="314.7"/>
<use href="#m3ab6f0_2p7" x="511.2" y="328.67"/>
<use href="#m3ab6f0_2p7" x="543.79" y="324.89"/>
<use href="#m3ab6f0_2p7" x="593.74" y="305.91"/>
<use href="#m3ab6f0_2p7" x="511.22" y="331.6"/>
<use href="#m3ab6f0_2p7" x="604.13" y="297.04"/>
<use href="#m3ab6f0_2p7" x="515.73" y="323.99"/>
<use href="#m3ab6f0_2p7" x="516.26" y="322.24"/>
<use href="#m3ab6f0_2p7" x="596.83" y="303.24"/>
<use href="#m3ab6f0_2p7" x="573.44" y="317.7"/>
<use href="#m3ab6f0_2p7" x="573.15" y="314.53"/>
<use href="#m3ab6f0_2p7" x="514.94" y="323.02"/>
<use href="#m3ab6f0_2p7" x="586.93" y="306.65"/>
<use href="#m3ab6f0_2p7" x="538.95" y="323.13"/>
<use href="#m3ab6f0_2p7" x="506.29" y="325.85"/>
<use href="#m3ab6f0_2p7" x="534.94" y="325.74"/>
<use href="#m3ab6f0_2p7" x="544.3" y="321.68"/>
<use href="#m3ab6f0_2p7" x="609.56" y="290.65"/>
<use href="#m3ab6f0_2p7" x="597.23" y="301.99"/>
<use href="#m3ab6f0_2p7" x="507.39" y="327.43"/>
<use href="#m3ab6f0_2p7" x="551.79" y="323.14"/>
<use href="#m3ab6f0_2p7" x="541.97" y="324.5"/>
<use href="#m3ab6f0_2p7" x="562.9" y="317.82"/>
<use href="#m3ab6f0_2p7" x="598.42" y="298.63"/>
<use href="#m3ab6f0_2p7" x="593.77" y="302.01"/>
<use href="#m3ab6f0_2p7" x="504.14" y="325.52"/>
<use href="#m3ab6f0_2p7" x="587.46" y="311.07"/>
<use href="#m3ab6f0_2p7" x="504.48" y="328.81"/>
<use href="#m3ab6f0_2p7" x="557.82" y="322.17"/>
<use href="#m3ab6f0_2p7" x="524.2" y="325.55"/>
<use href="#m3ab6f0_2p7" x="542.02" y="325.31"/>
<use href="#m3ab6f0_2p7" x="532.53" y="327.87"/>
<use href="#m3ab6f0_2p7" x="535.07" y="322.08"/>
<use href="#m3ab6f0_2p7" x="580.59" y="312.83"/>
<use href="#m3ab6f0_2p7" x="516.04" y="328.2"/>
<use href="#m3ab6f0_2p7" x="512.86" y="330.4"/>
<use href="#m3ab6f0_2p7" x="580.34" y="315.04"/>
<use href="#m3ab6f0_2p7" x="572.76" y="315.1"/>
<use href="#m3ab6f0_2p7" x="547.94" y="321.58"/>
<use href="#m3ab6f0_2p7" x="601.5" y="296.44"/>
<use href="#m3ab6f0_2p7" x="601.29" y="296.35"/>
<use href="#m3ab6f0_2p7" x="526.57" y="323.29"/>
<use href="#m3ab6f0_2p7" x="602.68" y="297.02"/>
<use href="#m3ab6f0_2p7" x="545.53" y="324.98"/>
<use href="#m3ab6f0_2p7" x="529.58" y="324.57"/>
<use href="#m3ab6f0_2p7" x="562.2" y="320.86"/>
<use href="#m3ab6f0_2p7" x="586.45" y="309.73"/>
<use href="#m3ab6f0_2p7" x="542.16" y="322.03"/>
<use href="#m3ab6f0_2p7" x="521.01" y="329.16"/>
<use href="#m3ab6f0_2p7" x="576.5" y="316.15"/>
<use href="#mee1a78_2p7" x="504.5" y="338"/>
<use href="#mee1a78_2p7" x="506" y="345"/>
<use href="#mee1a78_2p7" x="508" y="350"/>
<use href="#mee1a78_2p7" x="513.5" y="341.5"/>
<use href="#mee1a78_2p7" x="516" y="346"/>
<use href="#mee1a78_2p7" x="512" y="336"/>
<use href="#mee1a78_2p7" x="519" y="333"/>
<use href="#mf03ee8_2p7" x="504.5" y="352"/>
<use href="#mf03ee8_2p7" x="507" y="348"/>
<use href="#mf03ee8_2p7" x="525.7" y="341.4"/>
<use href="#mf03ee8_2p7" x="510" y="343"/>
<use href="#m1a1ae6_2p7" x="521.2" y="339.5"/>
<use href="#m1a1ae6_2p7" x="527" y="353"/>
<use href="#m1a1ae6_2p7" x="532.8" y="334.3"/>
<use href="#m3ab6f0_2p7" x="506.4" y="345"/>
<use href="#m3ab6f0_2p7" x="510" y="348"/>
<use href="#m3ab6f0_2p7" x="512.9" y="350.4"/>
<use href="#m3ab6f0_2p7" x="505" y="341"/>
<use href="#m3ab6f0_2p7" x="509" y="338.5"/>
<line x1="543.2" y1="302" x2="543.2" y2="210.3" stroke="#ee1a78" stroke-width="0.9" />
<use href="#mee1a78_2p7" x="543.2" y="230.3"/>
<use href="#mee1a78_2p7" x="543.2" y="285.1"/>
<use href="#mee1a78_2p7" x="543.2" y="302.5"/>
<line x1="563.4" y1="306.7" x2="563.4" y2="210.3" stroke="#f03ee8" stroke-width="0.9" />
<use href="#mf03ee8_2p7" x="563.4" y="242.7"/>
<use href="#mf03ee8_2p7" x="563.4" y="285.6"/>
<use href="#mf03ee8_2p7" x="563.4" y="306.7"/>
<line x1="583.7" y1="292.5" x2="583.7" y2="210.3" stroke="#1a1ae6" stroke-width="0.9" />
<use href="#m1a1ae6_2p7" x="583.7" y="209"/>
<use href="#m1a1ae6_2p7" x="583.7" y="236"/>
<use href="#m1a1ae6_2p7" x="583.7" y="267.1"/>
<use href="#m1a1ae6_2p7" x="583.7" y="284.4"/>
<use href="#m1a1ae6_2p7" x="583.7" y="292.3"/>
<line x1="612.9" y1="287" x2="612.9" y2="243" stroke="#3ab6f0" stroke-width="0.9" />
<line x1="624.1" y1="214" x2="624.1" y2="312.4" stroke="#3ab6f0" stroke-width="0.9" />
<use href="#m3ab6f0_2p7" x="614.01" y="238.77"/>
<use href="#m3ab6f0_2p7" x="619.38" y="221.54"/>
<use href="#m3ab6f0_2p7" x="613.62" y="239.99"/>
<use href="#m3ab6f0_2p7" x="620.38" y="218.12"/>
<use href="#m3ab6f0_2p7" x="614.21" y="238.08"/>
<use href="#m3ab6f0_2p7" x="618.76" y="223.74"/>
<use href="#m3ab6f0_2p7" x="613.88" y="239.01"/>
<use href="#m3ab6f0_2p7" x="614.7" y="236.54"/>
<use href="#m3ab6f0_2p7" x="617.15" y="228.81"/>
<use href="#m3ab6f0_2p7" x="615.42" y="234.23"/>
<use href="#m3ab6f0_2p7" x="621.18" y="215.52"/>
<use href="#m3ab6f0_2p7" x="613.41" y="240.96"/>
<use href="#m3ab6f0_2p7" x="613.4" y="240.62"/>
<use href="#m3ab6f0_2p7" x="621.26" y="215.27"/>
<use href="#m3ab6f0_2p7" x="619.03" y="222.68"/>
<use href="#m3ab6f0_2p7" x="614.25" y="238.15"/>
<use href="#m3ab6f0_2p7" x="613.45" y="240.36"/>
<use href="#m3ab6f0_2p7" x="615.96" y="232.47"/>
<use href="#m3ab6f0_2p7" x="616.05" y="232.63"/>
<use href="#m3ab6f0_2p7" x="618.67" y="223.9"/>
<use href="#m3ab6f0_2p7" x="618.13" y="225.7"/>
<use href="#m3ab6f0_2p7" x="613.76" y="239.64"/>
<use href="#m3ab6f0_2p7" x="616.1" y="232.44"/>
<use href="#m3ab6f0_2p7" x="620.58" y="217.48"/>
<use href="#m3ab6f0_2p7" x="617.61" y="227.59"/>
<use href="#m3ab6f0_2p7" x="616.25" y="231.68"/>
<use href="#m3ab6f0_2p7" x="618.93" y="223.18"/>
<use href="#m3ab6f0_2p7" x="619.39" y="221.56"/>
<use href="#m3ab6f0_2p7" x="620.09" y="219.2"/>
<use href="#m3ab6f0_2p7" x="618.21" y="225.42"/>
<use href="#m3ab6f0_2p7" x="615.29" y="234.91"/>
<use href="#m3ab6f0_2p7" x="613.37" y="240.74"/>
<use href="#m3ab6f0_2p7" x="619.46" y="221.31"/>
<use href="#m3ab6f0_2p7" x="618.1" y="225.68"/>
<use href="#m3ab6f0_2p7" x="616.27" y="231.74"/>
<use href="#m3ab6f0_2p7" x="618.03" y="226"/>
<use href="#m3ab6f0_2p7" x="618.51" y="224.62"/>
<use href="#m3ab6f0_2p7" x="614.13" y="238.52"/>
<use href="#m3ab6f0_2p7" x="619.43" y="221.33"/>
<use href="#m3ab6f0_2p7" x="616.86" y="230.22"/>
<use href="#m3ab6f0_2p7" x="612.84" y="242.47"/>
<use href="#m3ab6f0_2p7" x="613.93" y="239.22"/>
<use href="#m3ab6f0_2p7" x="620.87" y="216.53"/>
<use href="#m3ab6f0_2p7" x="613.4" y="240.75"/>
<use href="#m3ab6f0_2p7" x="617.32" y="228.57"/>
<use href="#m3ab6f0_2p7" x="617.06" y="229.39"/>
<use href="#m3ab6f0_2p7" x="619.88" y="219.86"/>
<use href="#m3ab6f0_2p7" x="616.15" y="232.41"/>
<use href="#m3ab6f0_2p7" x="614.37" y="237.79"/>
<use href="#m3ab6f0_2p7" x="615.99" y="232.79"/>
<use href="#m3ab6f0_2p7" x="613.59" y="240.4"/>
<use href="#m3ab6f0_2p7" x="615.66" y="233.39"/>
<use href="#m3ab6f0_2p7" x="614.94" y="235.84"/>
<use href="#m3ab6f0_2p7" x="612.62" y="243.08"/>
<use href="#m3ab6f0_2p7" x="616.24" y="231.97"/>
<use href="#m3ab6f0_2p7" x="615.63" y="233.61"/>
<use href="#m3ab6f0_2p7" x="614.5" y="237.43"/>
<use href="#m3ab6f0_2p7" x="620.87" y="216.55"/>
<use href="#m3ab6f0_2p7" x="614.45" y="237.62"/>
<use href="#m3ab6f0_2p7" x="615.99" y="232.47"/>
<use href="#m3ab6f0_2p7" x="612.3" y="254.8"/>
<use href="#m3ab6f0_2p7" x="614.3" y="256.2"/>
<use href="#m3ab6f0_2p7" x="622.5" y="256.2"/>
<use href="#m3ab6f0_2p7" x="624.5" y="260.3"/>
<use href="#m3ab6f0_2p7" x="622.5" y="266.6"/>
<use href="#m3ab6f0_2p7" x="624" y="271.8"/>
<use href="#m3ab6f0_2p7" x="624.7" y="312.4"/>
<use href="#m3ab6f0_2p7" x="613.2" y="287.2"/>
</g>
<rect x="503.8" y="210.3" width="180.2" height="151" fill="none" stroke="#3b3333" stroke-width="1.2" />
<line x1="503.8" y1="222.2" x2="506.8" y2="222.2" stroke="#3b3333" stroke-width="1.2" />
<text x="499.3" y="226.8" font-size="10.2" text-anchor="end" fill="#222">10<tspan font-size="6" dy="-3.2">-1</tspan></text>
<line x1="503.8" y1="257.2" x2="506.8" y2="257.2" stroke="#3b3333" stroke-width="1.2" />
<text x="499.3" y="261.8" font-size="10.2" text-anchor="end" fill="#222">10<tspan font-size="6" dy="-3.2">-3</tspan></text>
<line x1="503.8" y1="292.2" x2="506.8" y2="292.2" stroke="#3b3333" stroke-width="1.2" />
<text x="499.3" y="296.8" font-size="10.2" text-anchor="end" fill="#222">10<tspan font-size="6" dy="-3.2">-5</tspan></text>
<line x1="503.8" y1="327.2" x2="506.8" y2="327.2" stroke="#3b3333" stroke-width="1.2" />
<text x="499.3" y="331.8" font-size="10.2" text-anchor="end" fill="#222">10<tspan font-size="6" dy="-3.2">-7</tspan></text>
<line x1="503.8" y1="362.2" x2="506.8" y2="362.2" stroke="#3b3333" stroke-width="1.2" />
<text x="499.3" y="363.6" font-size="10.2" text-anchor="end" fill="#222">10<tspan font-size="6" dy="-3.2">-9</tspan></text>
<line x1="503.8" y1="356.93" x2="506.1" y2="356.93" stroke="#3b3333" stroke-width="1" />
<line x1="503.8" y1="353.85" x2="506.1" y2="353.85" stroke="#3b3333" stroke-width="1" />
<line x1="503.8" y1="351.66" x2="506.1" y2="351.66" stroke="#3b3333" stroke-width="1" />
<line x1="503.8" y1="349.97" x2="506.1" y2="349.97" stroke="#3b3333" stroke-width="1" />
<line x1="503.8" y1="348.58" x2="506.1" y2="348.58" stroke="#3b3333" stroke-width="1" />
<line x1="503.8" y1="347.41" x2="506.1" y2="347.41" stroke="#3b3333" stroke-width="1" />
<line x1="503.8" y1="346.4" x2="506.1" y2="346.4" stroke="#3b3333" stroke-width="1" />
<line x1="503.8" y1="345.5" x2="506.1" y2="345.5" stroke="#3b3333" stroke-width="1" />
<line x1="503.8" y1="339.43" x2="506.1" y2="339.43" stroke="#3b3333" stroke-width="1" />
<line x1="503.8" y1="336.35" x2="506.1" y2="336.35" stroke="#3b3333" stroke-width="1" />
<line x1="503.8" y1="334.16" x2="506.1" y2="334.16" stroke="#3b3333" stroke-width="1" />
<line x1="503.8" y1="332.47" x2="506.1" y2="332.47" stroke="#3b3333" stroke-width="1" />
<line x1="503.8" y1="331.08" x2="506.1" y2="331.08" stroke="#3b3333" stroke-width="1" />
<line x1="503.8" y1="329.91" x2="506.1" y2="329.91" stroke="#3b3333" stroke-width="1" />
<line x1="503.8" y1="328.9" x2="506.1" y2="328.9" stroke="#3b3333" stroke-width="1" />
<line x1="503.8" y1="328" x2="506.1" y2="328" stroke="#3b3333" stroke-width="1" />
<line x1="503.8" y1="321.93" x2="506.1" y2="321.93" stroke="#3b3333" stroke-width="1" />
<line x1="503.8" y1="318.85" x2="506.1" y2="318.85" stroke="#3b3333" stroke-width="1" />
<line x1="503.8" y1="316.66" x2="506.1" y2="316.66" stroke="#3b3333" stroke-width="1" />
<line x1="503.8" y1="314.97" x2="506.1" y2="314.97" stroke="#3b3333" stroke-width="1" />
<line x1="503.8" y1="313.58" x2="506.1" y2="313.58" stroke="#3b3333" stroke-width="1" />
<line x1="503.8" y1="312.41" x2="506.1" y2="312.41" stroke="#3b3333" stroke-width="1" />
<line x1="503.8" y1="311.4" x2="506.1" y2="311.4" stroke="#3b3333" stroke-width="1" />
<line x1="503.8" y1="310.5" x2="506.1" y2="310.5" stroke="#3b3333" stroke-width="1" />
<line x1="503.8" y1="304.43" x2="506.1" y2="304.43" stroke="#3b3333" stroke-width="1" />
<line x1="503.8" y1="301.35" x2="506.1" y2="301.35" stroke="#3b3333" stroke-width="1" />
<line x1="503.8" y1="299.16" x2="506.1" y2="299.16" stroke="#3b3333" stroke-width="1" />
<line x1="503.8" y1="297.47" x2="506.1" y2="297.47" stroke="#3b3333" stroke-width="1" />
<line x1="503.8" y1="296.08" x2="506.1" y2="296.08" stroke="#3b3333" stroke-width="1" />
<line x1="503.8" y1="294.91" x2="506.1" y2="294.91" stroke="#3b3333" stroke-width="1" />
<line x1="503.8" y1="293.9" x2="506.1" y2="293.9" stroke="#3b3333" stroke-width="1" />
<line x1="503.8" y1="293" x2="506.1" y2="293" stroke="#3b3333" stroke-width="1" />
<line x1="503.8" y1="286.93" x2="506.1" y2="286.93" stroke="#3b3333" stroke-width="1" />
<line x1="503.8" y1="283.85" x2="506.1" y2="283.85" stroke="#3b3333" stroke-width="1" />
<line x1="503.8" y1="281.66" x2="506.1" y2="281.66" stroke="#3b3333" stroke-width="1" />
<line x1="503.8" y1="279.97" x2="506.1" y2="279.97" stroke="#3b3333" stroke-width="1" />
<line x1="503.8" y1="278.58" x2="506.1" y2="278.58" stroke="#3b3333" stroke-width="1" />
<line x1="503.8" y1="277.41" x2="506.1" y2="277.41" stroke="#3b3333" stroke-width="1" />
<line x1="503.8" y1="276.4" x2="506.1" y2="276.4" stroke="#3b3333" stroke-width="1" />
<line x1="503.8" y1="275.5" x2="506.1" y2="275.5" stroke="#3b3333" stroke-width="1" />
<line x1="503.8" y1="269.43" x2="506.1" y2="269.43" stroke="#3b3333" stroke-width="1" />
<line x1="503.8" y1="266.35" x2="506.1" y2="266.35" stroke="#3b3333" stroke-width="1" />
<line x1="503.8" y1="264.16" x2="506.1" y2="264.16" stroke="#3b3333" stroke-width="1" />
<line x1="503.8" y1="262.47" x2="506.1" y2="262.47" stroke="#3b3333" stroke-width="1" />
<line x1="503.8" y1="261.08" x2="506.1" y2="261.08" stroke="#3b3333" stroke-width="1" />
<line x1="503.8" y1="259.91" x2="506.1" y2="259.91" stroke="#3b3333" stroke-width="1" />
<line x1="503.8" y1="258.9" x2="506.1" y2="258.9" stroke="#3b3333" stroke-width="1" />
<line x1="503.8" y1="258" x2="506.1" y2="258" stroke="#3b3333" stroke-width="1" />
<line x1="503.8" y1="251.93" x2="506.1" y2="251.93" stroke="#3b3333" stroke-width="1" />
<line x1="503.8" y1="248.85" x2="506.1" y2="248.85" stroke="#3b3333" stroke-width="1" />
<line x1="503.8" y1="246.66" x2="506.1" y2="246.66" stroke="#3b3333" stroke-width="1" />
<line x1="503.8" y1="244.97" x2="506.1" y2="244.97" stroke="#3b3333" stroke-width="1" />
<line x1="503.8" y1="243.58" x2="506.1" y2="243.58" stroke="#3b3333" stroke-width="1" />
<line x1="503.8" y1="242.41" x2="506.1" y2="242.41" stroke="#3b3333" stroke-width="1" />
<line x1="503.8" y1="241.4" x2="506.1" y2="241.4" stroke="#3b3333" stroke-width="1" />
<line x1="503.8" y1="240.5" x2="506.1" y2="240.5" stroke="#3b3333" stroke-width="1" />
<line x1="503.8" y1="234.43" x2="506.1" y2="234.43" stroke="#3b3333" stroke-width="1" />
<line x1="503.8" y1="231.35" x2="506.1" y2="231.35" stroke="#3b3333" stroke-width="1" />
<line x1="503.8" y1="229.16" x2="506.1" y2="229.16" stroke="#3b3333" stroke-width="1" />
<line x1="503.8" y1="227.47" x2="506.1" y2="227.47" stroke="#3b3333" stroke-width="1" />
<line x1="503.8" y1="226.08" x2="506.1" y2="226.08" stroke="#3b3333" stroke-width="1" />
<line x1="503.8" y1="224.91" x2="506.1" y2="224.91" stroke="#3b3333" stroke-width="1" />
<line x1="503.8" y1="223.9" x2="506.1" y2="223.9" stroke="#3b3333" stroke-width="1" />
<line x1="503.8" y1="223" x2="506.1" y2="223" stroke="#3b3333" stroke-width="1" />
<line x1="503.8" y1="216.93" x2="506.1" y2="216.93" stroke="#3b3333" stroke-width="1" />
<line x1="503.8" y1="213.85" x2="506.1" y2="213.85" stroke="#3b3333" stroke-width="1" />
<line x1="503.8" y1="211.66" x2="506.1" y2="211.66" stroke="#3b3333" stroke-width="1" />
<line x1="503.8" y1="239.7" x2="506" y2="239.7" stroke="#3b3333" stroke-width="1.2" />
<line x1="503.8" y1="274.7" x2="506" y2="274.7" stroke="#3b3333" stroke-width="1.2" />
<line x1="503.8" y1="309.7" x2="506" y2="309.7" stroke="#3b3333" stroke-width="1.2" />
<line x1="503.8" y1="344.7" x2="506" y2="344.7" stroke="#3b3333" stroke-width="1.2" />
<line x1="503.8" y1="361.3" x2="503.8" y2="358.3" stroke="#3b3333" stroke-width="1.2" />
<text x="503" y="373.1" font-size="10.2" text-anchor="middle" fill="#161616" >0</text>
<line x1="543.5" y1="361.3" x2="543.5" y2="358.3" stroke="#3b3333" stroke-width="1.2" />
<text x="542.7" y="373.1" font-size="10.2" text-anchor="middle" fill="#161616" >10</text>
<line x1="583.2" y1="361.3" x2="583.2" y2="358.3" stroke="#3b3333" stroke-width="1.2" />
<text x="582.4" y="373.1" font-size="10.2" text-anchor="middle" fill="#161616" >20</text>
<line x1="622.9" y1="361.3" x2="622.9" y2="358.3" stroke="#3b3333" stroke-width="1.2" />
<text x="622.1" y="373.1" font-size="10.2" text-anchor="middle" fill="#161616" >30</text>
<line x1="662.6" y1="361.3" x2="662.6" y2="358.3" stroke="#3b3333" stroke-width="1.2" />
<text x="661.8" y="373.1" font-size="10.2" text-anchor="middle" fill="#161616" >40</text>
<line x1="523.65" y1="361.3" x2="523.65" y2="359.5" stroke="#3b3333" stroke-width="1.2" />
<line x1="563.35" y1="361.3" x2="563.35" y2="359.5" stroke="#3b3333" stroke-width="1.2" />
<line x1="603.05" y1="361.3" x2="603.05" y2="359.5" stroke="#3b3333" stroke-width="1.2" />
<line x1="642.75" y1="361.3" x2="642.75" y2="359.5" stroke="#3b3333" stroke-width="1.2" />
<line x1="682.45" y1="361.3" x2="682.45" y2="359.5" stroke="#3b3333" stroke-width="1.2" />
<text transform="translate(479.9 283) rotate(-90)" font-size="10" text-anchor="middle" fill="#222">Current density (A cm<tspan font-size="7" dy="-4">-2</tspan><tspan dy="4">)</tspan></text>
<text x="593.6" y="385" font-size="11.5" text-anchor="middle" fill="#161616" >Voltage (V)</text>
<text x="656.2" y="224" font-size="9.8" text-anchor="middle" fill="#888" >Low-power</text>
<text x="652.8" y="235.6" font-size="9.8" text-anchor="middle" fill="#888" >limit</text>
<text x="650.7" y="339.8" font-size="9.8" text-anchor="middle" fill="#888" >DRAM limit</text>
<line x1="629.6" y1="252.2" x2="646.2" y2="252.2" stroke="#ee1a78" stroke-width="1" />
<use href="#mee1a78_2p8" x="638" y="252.2"/>
<text x="648.5" y="255.6" font-size="10" text-anchor="start" fill="#161616" >6.5 nm</text>
<line x1="629.6" y1="269.8" x2="646.2" y2="269.8" stroke="#f03ee8" stroke-width="1" />
<use href="#mf03ee8_2p8" x="638" y="269.8"/>
<text x="648.5" y="273.2" font-size="10" text-anchor="start" fill="#161616" >9.8 nm</text>
<line x1="629.6" y1="287.4" x2="646.2" y2="287.4" stroke="#1a1ae6" stroke-width="1" />
<use href="#m1a1ae6_2p8" x="638" y="287.4"/>
<text x="648.5" y="290.8" font-size="10" text-anchor="start" fill="#161616" >14.6 nm</text>
<line x1="629.6" y1="305" x2="646.2" y2="305" stroke="#3ab6f0" stroke-width="1" />
<use href="#m3ab6f0_2p8" x="638" y="305"/>
<text x="648.5" y="308.4" font-size="10" text-anchor="start" fill="#161616" >22.3 nm</text>
<text x="12.5" y="408.3" font-size="15.3" text-anchor="start" fill="#111" >g</text>
<clipPath id="cg"><rect x="31.5" y="404.4" width="182.3" height="151.80000000000007"/></clipPath>
<g clip-path="url(#cg)">
<use href="#m22c4c4_2p7" x="68.01" y="503.58"/>
<use href="#m22c4c4_2p7" x="105.57" y="481.2"/>
<use href="#m22c4c4_2p7" x="72.42" y="501.35"/>
<use href="#m22c4c4_2p7" x="46.7" y="513.59"/>
<use href="#m22c4c4_2p7" x="82.14" y="496.39"/>
<use href="#m22c4c4_2p7" x="39.49" y="519.44"/>
<use href="#m22c4c4_2p7" x="39.22" y="525.86"/>
<use href="#m22c4c4_2p7" x="87.2" y="491.39"/>
<use href="#m22c4c4_2p7" x="110.18" y="478.85"/>
<use href="#m22c4c4_2p7" x="84.05" y="494.83"/>
<use href="#m22c4c4_2p7" x="44.54" y="510.36"/>
<use href="#m22c4c4_2p7" x="74.06" y="499.15"/>
<use href="#m22c4c4_2p7" x="47.14" y="511.1"/>
<use href="#m22c4c4_2p7" x="34.39" y="528.21"/>
<use href="#m22c4c4_2p7" x="67.07" y="505.08"/>
<use href="#m22c4c4_2p7" x="73.32" y="501.01"/>
<use href="#m22c4c4_2p7" x="71.78" y="501.9"/>
<use href="#m22c4c4_2p7" x="68.4" y="502.43"/>
<use href="#m22c4c4_2p7" x="111.41" y="477.94"/>
<use href="#m22c4c4_2p7" x="98.88" y="486.4"/>
<use href="#m22c4c4_2p7" x="57.1" y="507.33"/>
<use href="#m22c4c4_2p7" x="55.01" y="507.13"/>
<use href="#m22c4c4_2p7" x="93" y="488.87"/>
<use href="#m22c4c4_2p7" x="99.39" y="484.96"/>
<use href="#m22c4c4_2p7" x="108.26" y="480.11"/>
<use href="#m22c4c4_2p7" x="32.04" y="527.42"/>
<use href="#m22c4c4_2p7" x="104.46" y="481.94"/>
<use href="#m22c4c4_2p7" x="110.04" y="478.15"/>
<use href="#m22c4c4_2p7" x="37.81" y="525.71"/>
<use href="#m22c4c4_2p7" x="93.97" y="487.87"/>
<use href="#m22c4c4_2p7" x="38.94" y="520.5"/>
<use href="#m22c4c4_2p7" x="108.74" y="479.6"/>
<use href="#m22c4c4_2p7" x="41.39" y="516.41"/>
<use href="#m22c4c4_2p7" x="40.04" y="515.92"/>
<use href="#m22c4c4_2p7" x="95.44" y="486.66"/>
<use href="#m22c4c4_2p7" x="76.52" y="498.88"/>
<use href="#m22c4c4_2p7" x="47.18" y="515.23"/>
<use href="#m22c4c4_2p7" x="42.42" y="519.26"/>
<use href="#m22c4c4_2p7" x="41.27" y="518.47"/>
<use href="#m22c4c4_2p7" x="48.94" y="510.65"/>
<use href="#m22c4c4_2p7" x="109.29" y="479.28"/>
<use href="#m22c4c4_2p7" x="56.21" y="511.41"/>
<use href="#m22c4c4_2p7" x="48.77" y="511.71"/>
<use href="#m22c4c4_2p7" x="100.01" y="485.5"/>
<use href="#m22c4c4_2p7" x="39.99" y="526.77"/>
<use href="#m22c4c4_2p7" x="48.97" y="510.55"/>
<use href="#m22c4c4_2p7" x="93.51" y="488.34"/>
<use href="#m22c4c4_2p7" x="55.59" y="506.96"/>
<use href="#m22c4c4_2p7" x="39.17" y="523.2"/>
<use href="#m22c4c4_2p7" x="51.34" y="512.12"/>
<use href="#m22c4c4_2p7" x="61.59" y="506.48"/>
<use href="#m22c4c4_2p7" x="108.35" y="479.39"/>
<use href="#m22c4c4_2p7" x="77.74" y="499.1"/>
<use href="#m22c4c4_2p7" x="46.55" y="510.56"/>
<use href="#m22c4c4_2p7" x="104.31" y="482.97"/>
<use href="#m22c4c4_2p7" x="51.86" y="508.98"/>
<use href="#m22c4c4_2p7" x="90.86" y="491.79"/>
<use href="#m22c4c4_2p7" x="47.65" y="516.8"/>
<use href="#m22c4c4_2p7" x="102.22" y="483.84"/>
<use href="#m22c4c4_2p7" x="65.55" y="503.15"/>
<use href="#m22c4c4_2p7" x="35.08" y="534.3"/>
<use href="#m22c4c4_2p7" x="50.98" y="513.06"/>
<use href="#m22c4c4_2p7" x="52.46" y="513.12"/>
<use href="#m22c4c4_2p7" x="79.48" y="496.8"/>
<use href="#m22c4c4_2p7" x="45.96" y="515.76"/>
<use href="#m22c4c4_2p7" x="37.47" y="521.03"/>
<use href="#m22c4c4_2p7" x="76.53" y="499.76"/>
<use href="#m22c4c4_2p7" x="80.9" y="495.9"/>
<use href="#m22c4c4_2p7" x="105.02" y="480.9"/>
<use href="#m22c4c4_2p7" x="33.32" y="526.75"/>
<use href="#m22c4c4_2p7" x="67.48" y="502.11"/>
<use href="#m22c4c4_2p7" x="46.03" y="512.63"/>
<use href="#m22c4c4_2p7" x="77.54" y="497.64"/>
<use href="#m22c4c4_2p7" x="60.83" y="508.83"/>
<use href="#m22c4c4_2p7" x="110.05" y="478.51"/>
<use href="#m22c4c4_2p7" x="87.02" y="492.99"/>
<use href="#m22c4c4_2p7" x="43.17" y="512.09"/>
<use href="#m22c4c4_2p7" x="33.42" y="536.16"/>
<use href="#m22c4c4_2p7" x="87.8" y="493.59"/>
<use href="#m22c4c4_2p7" x="33.69" y="531.7"/>
<use href="#m22c4c4_2p7" x="70.39" y="502.86"/>
<use href="#m22c4c4_2p7" x="57.38" y="511.37"/>
<use href="#m22c4c4_2p7" x="37.99" y="524.4"/>
<use href="#m22c4c4_2p7" x="90.67" y="491.78"/>
<use href="#m22c4c4_2p7" x="90.67" y="491.19"/>
<use href="#m22c4c4_2p7" x="95.14" y="489.27"/>
<use href="#m22c4c4_2p7" x="60.01" y="508.35"/>
<use href="#m22c4c4_2p7" x="103.71" y="483.56"/>
<use href="#m22c4c4_2p7" x="65.21" y="505.93"/>
<use href="#m22c4c4_2p7" x="100.73" y="484.76"/>
<use href="#m22c4c4_2p7" x="81.75" y="495.63"/>
<use href="#m22c4c4_2p7" x="78.38" y="498.16"/>
<use href="#m22c4c4_2p7" x="38.38" y="525.01"/>
<use href="#m22c4c4_2p7" x="111.07" y="478.07"/>
<use href="#m22c4c4_2p7" x="89.97" y="490.67"/>
<use href="#m22c4c4_2p7" x="90.51" y="490.92"/>
<use href="#m22c4c4_2p7" x="67.07" y="505.07"/>
<use href="#m22c4c4_2p7" x="38.67" y="525.96"/>
<use href="#m22c4c4_2p7" x="34.37" y="530.22"/>
<use href="#m22c4c4_2p7" x="70.28" y="501.37"/>
<use href="#m22c4c4_2p7" x="87.59" y="492.41"/>
<use href="#m22c4c4_2p7" x="80.91" y="497.4"/>
<use href="#m22c4c4_2p7" x="52.36" y="507.57"/>
<use href="#m22c4c4_2p7" x="55.96" y="510.35"/>
<use href="#m22c4c4_2p7" x="48.12" y="510.15"/>
<use href="#m22c4c4_2p7" x="104.1" y="482.7"/>
<use href="#m22c4c4_2p7" x="67.18" y="505.19"/>
<use href="#m22c4c4_2p7" x="58.03" y="509.25"/>
<use href="#m22c4c4_2p7" x="47.8" y="512.42"/>
<use href="#m22c4c4_2p7" x="96.16" y="488.69"/>
<use href="#m22c4c4_2p7" x="102.07" y="483.25"/>
<use href="#m22c4c4_2p7" x="78.42" y="497.5"/>
<use href="#m22c4c4_2p7" x="42.84" y="517.16"/>
<use href="#m22c4c4_2p7" x="98.63" y="487.04"/>
<use href="#m22c4c4_2p7" x="88.61" y="493.09"/>
<use href="#m22c4c4_2p7" x="54.03" y="508.07"/>
<use href="#m22c4c4_2p7" x="67.87" y="502.67"/>
<use href="#m22c4c4_2p7" x="49.04" y="511.75"/>
<use href="#m22c4c4_2p7" x="81.81" y="495.86"/>
<use href="#m22c4c4_2p7" x="57.1" y="510.66"/>
<use href="#m22c4c4_2p7" x="110.17" y="478.14"/>
<use href="#m22c4c4_2p7" x="37.94" y="517.97"/>
<use href="#m22c4c4_2p7" x="101.48" y="482.51"/>
<use href="#m22c4c4_2p7" x="88.41" y="492.13"/>
<use href="#m22c4c4_2p7" x="56.6" y="510.67"/>
<use href="#m22c4c4_2p7" x="33.52" y="524.52"/>
<use href="#m22c4c4_2p7" x="68.2" y="501.66"/>
<use href="#m22c4c4_2p7" x="98.04" y="485.26"/>
<use href="#m22c4c4_2p7" x="43.21" y="512.16"/>
<use href="#m22c4c4_2p7" x="82.08" y="495.58"/>
<use href="#m22c4c4_2p7" x="82.15" y="496.05"/>
<use href="#m22c4c4_2p7" x="96.27" y="488.77"/>
<use href="#m22c4c4_2p7" x="86.49" y="492.26"/>
<use href="#m22c4c4_2p7" x="69.82" y="501.43"/>
<use href="#m22c4c4_2p7" x="32.86" y="530.41"/>
<use href="#m22c4c4_2p7" x="88.85" y="490.75"/>
<use href="#m22c4c4_2p7" x="53.68" y="509.34"/>
<use href="#m22c4c4_2p7" x="87.51" y="492.53"/>
<use href="#m22c4c4_2p7" x="80.91" y="497.02"/>
<use href="#m22c4c4_2p7" x="63.32" y="506.99"/>
<use href="#m22c4c4_2p7" x="104.14" y="481.12"/>
<use href="#m22c4c4_2p7" x="106.24" y="481.34"/>
<use href="#m22c4c4_2p7" x="42.34" y="517.4"/>
<use href="#m22c4c4_2p7" x="81.79" y="496.87"/>
<use href="#m22c4c4_2p7" x="61.99" y="506.77"/>
<use href="#m22c4c4_2p7" x="101.99" y="484.61"/>
<use href="#m22c4c4_2p7" x="107.16" y="480.14"/>
<use href="#m22c4c4_2p7" x="83.85" y="493.91"/>
<use href="#m22c4c4_2p7" x="89.47" y="492.22"/>
<use href="#m22c4c4_2p7" x="83.07" y="495.66"/>
<use href="#m22c4c4_2p7" x="48.98" y="515.62"/>
<use href="#m22c4c4_2p7" x="110.05" y="478.97"/>
<use href="#m22c4c4_2p7" x="74.74" y="500.62"/>
<use href="#m22c4c4_2p7" x="57.5" y="510.82"/>
<use href="#m22c4c4_2p7" x="100.12" y="484.38"/>
<use href="#m22c4c4_2p7" x="38.59" y="522.28"/>
<use href="#m22c4c4_2p7" x="75.8" y="499.98"/>
<use href="#m22c4c4_2p7" x="70.8" y="500.52"/>
<use href="#m22c4c4_2p7" x="96.41" y="485.68"/>
<use href="#m22c4c4_2p7" x="95.67" y="486.5"/>
<use href="#m22c4c4_2p7" x="58.67" y="509.54"/>
<use href="#m22c4c4_2p7" x="43.18" y="513.21"/>
<use href="#m22c4c4_2p7" x="73.12" y="501.35"/>
<use href="#m22c4c4_2p7" x="98.86" y="486.35"/>
<use href="#m22c4c4_2p7" x="107.28" y="480.12"/>
<use href="#m22c4c4_2p7" x="107.55" y="479.14"/>
<use href="#m22c4c4_2p7" x="49.62" y="512.37"/>
<use href="#m22c4c4_2p7" x="55.1" y="511.1"/>
<use href="#m22c4c4_2p7" x="82.85" y="495.31"/>
<use href="#m22c4c4_2p7" x="99.15" y="485.72"/>
<use href="#m22c4c4_2p7" x="56.81" y="508.27"/>
<use href="#m22c4c4_2p7" x="99.28" y="486.85"/>
<use href="#m22c4c4_2p7" x="48.58" y="515.46"/>
<use href="#m22c4c4_2p7" x="109.09" y="478.97"/>
<use href="#m22c4c4_2p7" x="77.61" y="497.75"/>
<use href="#m22c4c4_2p7" x="74.66" y="499.96"/>
<use href="#m22c4c4_2p7" x="80.18" y="495.76"/>
<use href="#m22c4c4_2p7" x="109.16" y="478.9"/>
<use href="#m22c4c4_2p7" x="63.89" y="506.71"/>
<use href="#m22c4c4_2p7" x="76.8" y="498.83"/>
<use href="#m22c4c4_2p7" x="87" y="491.58"/>
<use href="#m22c4c4_2p7" x="74.88" y="499.63"/>
<use href="#m22c4c4_2p7" x="108.17" y="480.32"/>
<use href="#m22c4c4_2p7" x="53.43" y="510.28"/>
<use href="#m22c4c4_2p7" x="42.11" y="517.5"/>
<use href="#m22c4c4_2p7" x="96.93" y="488.2"/>
<use href="#m22c4c4_2p7" x="69.93" y="501.81"/>
<use href="#m22c4c4_2p7" x="47.24" y="514.24"/>
<use href="#m22c4c4_2p7" x="105.65" y="480.34"/>
<use href="#m22c4c4_2p7" x="94.03" y="487.04"/>
<use href="#m22c4c4_2p7" x="47.45" y="510.87"/>
<use href="#m22c4c4_2p7" x="86.69" y="492.47"/>
<use href="#m22c4c4_2p7" x="60.29" y="507.9"/>
<use href="#m22c4c4_2p7" x="40.35" y="523.24"/>
<use href="#m22c4c4_2p7" x="41.77" y="518.77"/>
<use href="#m22c4c4_2p7" x="51.94" y="509"/>
<use href="#m22c4c4_2p7" x="74.22" y="500.02"/>
<use href="#m22c4c4_2p7" x="61.91" y="506.14"/>
<use href="#m22c4c4_2p7" x="74.14" y="499.37"/>
<use href="#m22c4c4_2p7" x="48.26" y="513.85"/>
<use href="#m22c4c4_2p7" x="82.82" y="495.34"/>
<use href="#m22c4c4_2p7" x="99.76" y="485.54"/>
<use href="#m22c4c4_2p7" x="100.2" y="483.92"/>
<use href="#m22c4c4_2p7" x="90.97" y="491.34"/>
<use href="#m22c4c4_2p7" x="103.85" y="481.92"/>
<use href="#m22c4c4_2p7" x="57.07" y="511.13"/>
<use href="#m22c4c4_2p7" x="49.36" y="516.17"/>
<use href="#m22c4c4_2p7" x="102.65" y="482.12"/>
<use href="#m22c4c4_2p7" x="51.05" y="513.18"/>
<use href="#m22c4c4_2p7" x="52.66" y="508.06"/>
<use href="#m22c4c4_2p7" x="98.24" y="485.78"/>
<use href="#m22c4c4_2p7" x="94.88" y="486.84"/>
<use href="#m22c4c4_2p7" x="64.06" y="506.15"/>
<use href="#m22c4c4_2p7" x="33.41" y="525.62"/>
<use href="#m22c4c4_2p7" x="86.32" y="494.29"/>
<use href="#m22c4c4_2p7" x="109.08" y="478.3"/>
<use href="#m22c4c4_2p7" x="72.25" y="501.92"/>
<use href="#m22c4c4_2p7" x="72.02" y="501.84"/>
<use href="#m22c4c4_2p7" x="47.04" y="509.69"/>
<use href="#m22c4c4_2p7" x="40.45" y="515.2"/>
<use href="#m22c4c4_2p7" x="75.91" y="499.34"/>
<use href="#m22c4c4_2p7" x="77.27" y="497.84"/>
<use href="#m22c4c4_2p7" x="46.69" y="510.95"/>
<use href="#m22c4c4_2p7" x="98.88" y="487.4"/>
<use href="#m22c4c4_2p7" x="105.78" y="480.19"/>
<use href="#m22c4c4_2p7" x="36.93" y="531.2"/>
<use href="#m22c4c4_2p7" x="68.78" y="503.86"/>
<use href="#m22c4c4_2p7" x="58.02" y="508.22"/>
<use href="#m22c4c4_2p7" x="73.02" y="500.61"/>
<use href="#m22c4c4_2p7" x="79.83" y="495.94"/>
<use href="#m22c4c4_2p7" x="87.8" y="493.26"/>
<use href="#m22c4c4_2p7" x="46.43" y="513.21"/>
<use href="#m22c4c4_2p7" x="90.85" y="490.19"/>
<use href="#m22c4c4_2p7" x="47.53" y="510.32"/>
<use href="#m22c4c4_2p7" x="72.8" y="499.59"/>
<use href="#m22c4c4_2p7" x="103.1" y="483.82"/>
<use href="#m22c4c4_2p7" x="88.09" y="493.14"/>
<use href="#m22c4c4_2p7" x="82.1" y="495.47"/>
<use href="#m22c4c4_2p7" x="79.73" y="497.13"/>
<use href="#m22c4c4_2p7" x="110.22" y="478.6"/>
<use href="#m22c4c4_2p7" x="52.56" y="513.66"/>
<use href="#m22c4c4_2p7" x="91.26" y="491.07"/>
<use href="#m22c4c4_2p7" x="96.85" y="486.57"/>
<use href="#m22c4c4_2p7" x="103.36" y="483.84"/>
<use href="#m22c4c4_2p7" x="87.31" y="493.33"/>
<use href="#m22c4c4_2p7" x="92.91" y="488.94"/>
<use href="#m22c4c4_2p7" x="89.52" y="490.01"/>
<use href="#m22c4c4_2p7" x="59.2" y="507.71"/>
<use href="#m22c4c4_2p7" x="32.84" y="528.66"/>
<use href="#m22c4c4_2p7" x="82.84" y="495.57"/>
<use href="#m22c4c4_2p7" x="50.48" y="515.1"/>
<use href="#m22c4c4_2p7" x="85.02" y="493.53"/>
<use href="#m22c4c4_2p7" x="84.52" y="494.44"/>
<use href="#m22c4c4_2p7" x="74.43" y="499.8"/>
<use href="#m22c4c4_2p7" x="111.59" y="477.41"/>
<use href="#m22c4c4_2p7" x="87.82" y="493.02"/>
<use href="#m22c4c4_2p7" x="110.01" y="477.62"/>
<use href="#m22c4c4_2p7" x="80.99" y="496.93"/>
<use href="#m22c4c4_2p7" x="52.43" y="510.23"/>
<use href="#m22c4c4_2p7" x="36.02" y="522.38"/>
<use href="#m22c4c4_2p7" x="61.9" y="504.79"/>
<use href="#m22c4c4_2p7" x="51.97" y="513.96"/>
<use href="#m22c4c4_2p7" x="75.78" y="499.39"/>
<use href="#m22c4c4_2p7" x="108.98" y="479.11"/>
<use href="#m22c4c4_2p7" x="111.21" y="477.67"/>
<use href="#m22c4c4_2p7" x="96.44" y="485.7"/>
<use href="#m22c4c4_2p7" x="79.56" y="497.8"/>
<use href="#m22c4c4_2p7" x="35.59" y="533.03"/>
<use href="#m22c4c4_2p7" x="44.73" y="514.36"/>
<use href="#m22c4c4_2p7" x="45.46" y="514"/>
<use href="#m22c4c4_2p7" x="80.65" y="495.54"/>
<use href="#m22c4c4_2p7" x="107.24" y="480"/>
<use href="#m22c4c4_2p7" x="73.93" y="500.58"/>
<use href="#m22c4c4_2p7" x="61.1" y="505.98"/>
<use href="#m22c4c4_2p7" x="84.15" y="494.63"/>
<use href="#m22c4c4_2p7" x="54.57" y="511.29"/>
<use href="#m22c4c4_2p7" x="55.56" y="506.61"/>
<use href="#m22c4c4_2p7" x="51.5" y="508.05"/>
<use href="#m22c4c4_2p7" x="44.46" y="517.37"/>
<use href="#m22c4c4_2p7" x="63.04" y="507.59"/>
<use href="#m22c4c4_2p7" x="91.57" y="488.67"/>
<use href="#m22c4c4_2p7" x="110.71" y="478.42"/>
<use href="#m22c4c4_2p7" x="37.85" y="529.15"/>
<use href="#m22c4c4_2p7" x="66.19" y="504.23"/>
<use href="#m22c4c4_2p7" x="109.46" y="478.28"/>
<use href="#m22c4c4_2p7" x="73.66" y="501.6"/>
<use href="#m22c4c4_2p7" x="89.53" y="491.17"/>
<use href="#m22c4c4_2p7" x="109.91" y="478.84"/>
<use href="#m22c4c4_2p7" x="80.05" y="496.04"/>
<use href="#m22c4c4_2p7" x="81.69" y="495.84"/>
<use href="#m22c4c4_2p7" x="48.21" y="509.16"/>
<use href="#m22c4c4_2p7" x="74.04" y="499.32"/>
<use href="#m22c4c4_2p7" x="67.25" y="504.36"/>
<use href="#m22c4c4_2p7" x="68.26" y="502.44"/>
<use href="#m22c4c4_2p7" x="78.35" y="497.77"/>
<use href="#m22c4c4_2p7" x="93.93" y="488.73"/>
<use href="#m22c4c4_2p7" x="111.41" y="477.89"/>
<use href="#m22c4c4_2p7" x="90.45" y="489.93"/>
<use href="#m22c4c4_2p7" x="41.06" y="523.97"/>
<use href="#m22c4c4_2p7" x="94.43" y="488.73"/>
<line x1="111.6" y1="477.6" x2="111.6" y2="456" stroke="#22c4c4" stroke-width="0.9" />
<use href="#m22c4c4_2p7" x="114.99" y="448.14"/>
<use href="#m22c4c4_2p7" x="119.06" y="451"/>
<use href="#m22c4c4_2p7" x="117.9" y="452.7"/>
<use href="#m22c4c4_2p7" x="119.92" y="446.93"/>
<use href="#m22c4c4_2p7" x="113.61" y="456.98"/>
<use href="#m22c4c4_2p7" x="121.95" y="450.71"/>
<use href="#m22c4c4_2p7" x="110.99" y="445.79"/>
<use href="#m22c4c4_2p7" x="113.89" y="450.07"/>
<use href="#m22c4c4_2p7" x="118.29" y="445.88"/>
<use href="#m22c4c4_2p7" x="117.27" y="445.31"/>
<use href="#m22c4c4_2p7" x="111.58" y="452.65"/>
<use href="#m22c4c4_2p7" x="117.38" y="453.1"/>
<use href="#m22c4c4_2p7" x="115.16" y="450.93"/>
<use href="#m22c4c4_2p7" x="113.13" y="449"/>
<use href="#m22c4c4_2p7" x="119.81" y="453.06"/>
<use href="#m22c4c4_2p7" x="111.43" y="446.4"/>
<use href="#m22c4c4_2p7" x="120.61" y="450.38"/>
<use href="#m22c4c4_2p7" x="120.11" y="447.13"/>
<use href="#m22c4c4_2p7" x="115.8" y="447.96"/>
<use href="#m22c4c4_2p7" x="120.62" y="448.34"/>
<use href="#m22c4c4_2p7" x="118.67" y="456.17"/>
<use href="#m22c4c4_2p7" x="114.57" y="451.76"/>
<use href="#m22c4c4_2p7" x="119.83" y="453.81"/>
<use href="#m22c4c4_2p7" x="115.85" y="449.51"/>
<use href="#m22c4c4_2p7" x="111.71" y="454.94"/>
<use href="#m22c4c4_2p7" x="111.48" y="445.98"/>
<use href="#m22c4c4_2p7" x="117.55" y="450.97"/>
<use href="#m22c4c4_2p7" x="119.07" y="448.12"/>
<use href="#m22c4c4_2p7" x="120.19" y="445.93"/>
<use href="#m22c4c4_2p7" x="113.17" y="452.89"/>
<use href="#m7a1ee6_2p7" x="50.13" y="522.62"/>
<use href="#m7a1ee6_2p7" x="114.14" y="500.59"/>
<use href="#m7a1ee6_2p7" x="70.15" y="511.71"/>
<use href="#m7a1ee6_2p7" x="77.6" y="511.82"/>
<use href="#m7a1ee6_2p7" x="78.46" y="507.59"/>
<use href="#m7a1ee6_2p7" x="112.57" y="500.39"/>
<use href="#m7a1ee6_2p7" x="133.4" y="493.38"/>
<use href="#m7a1ee6_2p7" x="132.88" y="491.26"/>
<use href="#m7a1ee6_2p7" x="121.9" y="495.94"/>
<use href="#m7a1ee6_2p7" x="73.6" y="511.56"/>
<use href="#m7a1ee6_2p7" x="135" y="492.32"/>
<use href="#m7a1ee6_2p7" x="66.71" y="514.82"/>
<use href="#m7a1ee6_2p7" x="78.37" y="509.22"/>
<use href="#m7a1ee6_2p7" x="81.36" y="508.55"/>
<use href="#m7a1ee6_2p7" x="61.4" y="518.66"/>
<use href="#m7a1ee6_2p7" x="121.31" y="497.45"/>
<use href="#m7a1ee6_2p7" x="125.22" y="495.73"/>
<use href="#m7a1ee6_2p7" x="59.57" y="520.68"/>
<use href="#m7a1ee6_2p7" x="129.65" y="492.08"/>
<use href="#m7a1ee6_2p7" x="44.21" y="527.01"/>
<use href="#m7a1ee6_2p7" x="96.14" y="505.48"/>
<use href="#m7a1ee6_2p7" x="138.16" y="488.39"/>
<use href="#m7a1ee6_2p7" x="122.03" y="494.54"/>
<use href="#m7a1ee6_2p7" x="96.41" y="506.67"/>
<use href="#m7a1ee6_2p7" x="50.36" y="521.03"/>
<use href="#m7a1ee6_2p7" x="115.34" y="501.35"/>
<use href="#m7a1ee6_2p7" x="50.43" y="524.68"/>
<use href="#m7a1ee6_2p7" x="56.32" y="522.32"/>
<use href="#m7a1ee6_2p7" x="106.58" y="500.48"/>
<use href="#m7a1ee6_2p7" x="63.93" y="518.58"/>
<use href="#m7a1ee6_2p7" x="93.89" y="507.28"/>
<use href="#m7a1ee6_2p7" x="81.24" y="508.26"/>
<use href="#m7a1ee6_2p7" x="138.34" y="488.28"/>
<use href="#m7a1ee6_2p7" x="91.12" y="506.73"/>
<use href="#m7a1ee6_2p7" x="113.73" y="500.8"/>
<use href="#m7a1ee6_2p7" x="133.04" y="491.06"/>
<use href="#m7a1ee6_2p7" x="124.21" y="496.8"/>
<use href="#m7a1ee6_2p7" x="126.92" y="496.14"/>
<use href="#m7a1ee6_2p7" x="124.97" y="497.6"/>
<use href="#m7a1ee6_2p7" x="137.3" y="489.11"/>
<use href="#m7a1ee6_2p7" x="94.12" y="506.89"/>
<use href="#m7a1ee6_2p7" x="121.82" y="496.62"/>
<use href="#m7a1ee6_2p7" x="83.84" y="506.34"/>
<use href="#m7a1ee6_2p7" x="115.75" y="501.74"/>
<use href="#m7a1ee6_2p7" x="79.36" y="507.67"/>
<use href="#m7a1ee6_2p7" x="62.33" y="517.4"/>
<use href="#m7a1ee6_2p7" x="71.06" y="516.41"/>
<use href="#m7a1ee6_2p7" x="47.89" y="523.72"/>
<use href="#m7a1ee6_2p7" x="53.42" y="523.22"/>
<use href="#m7a1ee6_2p7" x="119.21" y="496.09"/>
<use href="#m7a1ee6_2p7" x="48.2" y="524.61"/>
<use href="#m7a1ee6_2p7" x="100.11" y="506.26"/>
<use href="#m7a1ee6_2p7" x="45.62" y="523.37"/>
<use href="#m7a1ee6_2p7" x="60.36" y="517.23"/>
<use href="#m7a1ee6_2p7" x="65.42" y="517.57"/>
<use href="#m7a1ee6_2p7" x="101.18" y="502.08"/>
<use href="#m7a1ee6_2p7" x="60.41" y="517.57"/>
<use href="#m7a1ee6_2p7" x="59.17" y="520.88"/>
<use href="#m7a1ee6_2p7" x="73.02" y="512.8"/>
<use href="#m7a1ee6_2p7" x="123.3" y="496.24"/>
<use href="#m7a1ee6_2p7" x="67.92" y="517.39"/>
<use href="#m7a1ee6_2p7" x="132.97" y="490.76"/>
<use href="#m7a1ee6_2p7" x="96.46" y="507.63"/>
<use href="#m7a1ee6_2p7" x="90.02" y="505.14"/>
<use href="#m7a1ee6_2p7" x="46.95" y="528.68"/>
<use href="#m7a1ee6_2p7" x="121.74" y="496.44"/>
<use href="#m7a1ee6_2p7" x="94.49" y="505.65"/>
<use href="#m7a1ee6_2p7" x="69.32" y="517.36"/>
<use href="#m7a1ee6_2p7" x="107.43" y="500.17"/>
<use href="#m7a1ee6_2p7" x="43.08" y="527.25"/>
<use href="#m7a1ee6_2p7" x="78.97" y="511.88"/>
<use href="#m7a1ee6_2p7" x="112.97" y="500.47"/>
<use href="#m7a1ee6_2p7" x="57.65" y="518.16"/>
<use href="#m7a1ee6_2p7" x="74.02" y="510.44"/>
<use href="#m7a1ee6_2p7" x="128.49" y="493.84"/>
<use href="#m7a1ee6_2p7" x="105.38" y="505.05"/>
<use href="#m7a1ee6_2p7" x="68.52" y="514.95"/>
<use href="#m7a1ee6_2p7" x="56.99" y="522.11"/>
<use href="#m7a1ee6_2p7" x="42.14" y="530.37"/>
<use href="#m7a1ee6_2p7" x="126.2" y="496.6"/>
<use href="#m7a1ee6_2p7" x="50.2" y="522.36"/>
<use href="#m7a1ee6_2p7" x="113.29" y="497.51"/>
<use href="#m7a1ee6_2p7" x="89.77" y="506.7"/>
<use href="#m7a1ee6_2p7" x="137.07" y="489.13"/>
<use href="#m7a1ee6_2p7" x="127.31" y="493.33"/>
<use href="#m7a1ee6_2p7" x="120.54" y="497"/>
<use href="#m7a1ee6_2p7" x="133.22" y="489.45"/>
<use href="#m7a1ee6_2p7" x="124.22" y="494.31"/>
<use href="#m7a1ee6_2p7" x="96.07" y="505.26"/>
<use href="#m7a1ee6_2p7" x="57.68" y="522.11"/>
<use href="#m7a1ee6_2p7" x="72.99" y="511.3"/>
<use href="#m7a1ee6_2p7" x="49.56" y="522.9"/>
<use href="#m7a1ee6_2p7" x="88.49" y="508.57"/>
<use href="#m7a1ee6_2p7" x="77.79" y="511.5"/>
<use href="#m7a1ee6_2p7" x="52.52" y="522.06"/>
<use href="#m7a1ee6_2p7" x="87.95" y="510.27"/>
<use href="#m7a1ee6_2p7" x="124.56" y="496.55"/>
<use href="#m7a1ee6_2p7" x="43.23" y="526.47"/>
<use href="#m7a1ee6_2p7" x="112.65" y="498.51"/>
<use href="#m7a1ee6_2p7" x="98.13" y="504.29"/>
<use href="#m7a1ee6_2p7" x="43.04" y="531.16"/>
<use href="#m7a1ee6_2p7" x="121.55" y="495.5"/>
<use href="#m7a1ee6_2p7" x="103.3" y="501.78"/>
<use href="#m7a1ee6_2p7" x="79.41" y="510.08"/>
<use href="#m7a1ee6_2p7" x="71.67" y="512.14"/>
<use href="#m7a1ee6_2p7" x="81.02" y="510.43"/>
<use href="#m7a1ee6_2p7" x="67.52" y="513.43"/>
<use href="#m7a1ee6_2p7" x="114.78" y="498.34"/>
<use href="#m7a1ee6_2p7" x="136.03" y="489.92"/>
<use href="#m7a1ee6_2p7" x="114.02" y="498.6"/>
<use href="#m7a1ee6_2p7" x="124.28" y="493.65"/>
<use href="#m7a1ee6_2p7" x="56.01" y="518.54"/>
<use href="#m7a1ee6_2p7" x="109.43" y="502.17"/>
<use href="#m7a1ee6_2p7" x="59.9" y="518.5"/>
<use href="#m7a1ee6_2p7" x="125.27" y="495.86"/>
<use href="#m7a1ee6_2p7" x="50.96" y="521.71"/>
<use href="#m7a1ee6_2p7" x="57.63" y="517.98"/>
<use href="#m7a1ee6_2p7" x="82.48" y="506.23"/>
<use href="#m7a1ee6_2p7" x="133.6" y="490.86"/>
<use href="#m7a1ee6_2p7" x="92.9" y="506.88"/>
<use href="#m7a1ee6_2p7" x="118.3" y="499.97"/>
<use href="#m7a1ee6_2p7" x="80.4" y="508.45"/>
<use href="#m7a1ee6_2p7" x="83.01" y="505.73"/>
<use href="#m7a1ee6_2p7" x="81.87" y="510.4"/>
<use href="#m7a1ee6_2p7" x="139.7" y="487.3"/>
<use href="#m7a1ee6_2p7" x="107.69" y="502.16"/>
<use href="#m7a1ee6_2p7" x="43.84" y="525.83"/>
<use href="#m7a1ee6_2p7" x="76.05" y="511.96"/>
<use href="#m7a1ee6_2p7" x="52.57" y="521.93"/>
<use href="#m7a1ee6_2p7" x="92.68" y="507.78"/>
<use href="#m7a1ee6_2p7" x="124.11" y="496.55"/>
<use href="#m7a1ee6_2p7" x="57.76" y="521.68"/>
<use href="#m7a1ee6_2p7" x="131.85" y="492.31"/>
<use href="#m7a1ee6_2p7" x="77.08" y="510.48"/>
<use href="#m7a1ee6_2p7" x="56.1" y="522.24"/>
<use href="#m7a1ee6_2p7" x="140.18" y="486.34"/>
<use href="#m7a1ee6_2p7" x="113.18" y="501.68"/>
<use href="#m7a1ee6_2p7" x="61.62" y="520.72"/>
<use href="#m7a1ee6_2p7" x="104.4" y="500.91"/>
<use href="#m7a1ee6_2p7" x="50.28" y="522.15"/>
<use href="#m7a1ee6_2p7" x="99.36" y="505.29"/>
<use href="#m7a1ee6_2p7" x="74.75" y="514.4"/>
<use href="#m7a1ee6_2p7" x="77.94" y="509.99"/>
<use href="#m7a1ee6_2p7" x="54.34" y="524.78"/>
<use href="#m7a1ee6_2p7" x="55.49" y="523.72"/>
<use href="#m7a1ee6_2p7" x="96.07" y="505.46"/>
<use href="#m7a1ee6_2p7" x="97.75" y="503.29"/>
<use href="#m7a1ee6_2p7" x="132.48" y="494.12"/>
<use href="#m7a1ee6_2p7" x="123.34" y="496.89"/>
<use href="#m7a1ee6_2p7" x="54.2" y="523.93"/>
<use href="#m7a1ee6_2p7" x="70.71" y="516.12"/>
<use href="#m7a1ee6_2p7" x="65.97" y="516.46"/>
<use href="#m7a1ee6_2p7" x="124.66" y="493.97"/>
<use href="#m7a1ee6_2p7" x="96.51" y="502.55"/>
<use href="#m7a1ee6_2p7" x="45.19" y="524.09"/>
<use href="#m7a1ee6_2p7" x="140.21" y="487.08"/>
<use href="#m7a1ee6_2p7" x="107.51" y="500.53"/>
<use href="#m7a1ee6_2p7" x="108.79" y="502.53"/>
<use href="#m7a1ee6_2p7" x="79.97" y="510.25"/>
<use href="#m7a1ee6_2p7" x="121.98" y="494.3"/>
<use href="#m7a1ee6_2p7" x="61.85" y="517.89"/>
<use href="#m7a1ee6_2p7" x="56.23" y="520.2"/>
<use href="#m7a1ee6_2p7" x="98.67" y="502.53"/>
<use href="#m7a1ee6_2p7" x="93.72" y="504.39"/>
<use href="#m7a1ee6_2p7" x="98.52" y="503.47"/>
<use href="#m7a1ee6_2p7" x="105.85" y="499.55"/>
<use href="#m7a1ee6_2p7" x="108.76" y="499.22"/>
<use href="#m7a1ee6_2p7" x="137.45" y="488.85"/>
<use href="#m7a1ee6_2p7" x="88.76" y="506.64"/>
<use href="#m7a1ee6_2p7" x="104.07" y="503.77"/>
<use href="#m7a1ee6_2p7" x="117.42" y="499.87"/>
<use href="#m7a1ee6_2p7" x="90.34" y="509.71"/>
<use href="#m7a1ee6_2p7" x="125.41" y="497.19"/>
<use href="#m7a1ee6_2p7" x="82.7" y="508.47"/>
<use href="#m7a1ee6_2p7" x="98.31" y="506.78"/>
<use href="#m7a1ee6_2p7" x="94.33" y="505.75"/>
<use href="#m7a1ee6_2p7" x="85.01" y="510.76"/>
<use href="#m7a1ee6_2p7" x="73.91" y="509.19"/>
<use href="#m7a1ee6_2p7" x="114.2" y="501.72"/>
<use href="#m7a1ee6_2p7" x="114.83" y="499.83"/>
<use href="#m7a1ee6_2p7" x="116.81" y="497.56"/>
<use href="#m7a1ee6_2p7" x="101.05" y="501.26"/>
<use href="#m7a1ee6_2p7" x="54.38" y="521.48"/>
<use href="#m7a1ee6_2p7" x="92.01" y="505.64"/>
<use href="#m7a1ee6_2p7" x="47.17" y="526.78"/>
<use href="#m7a1ee6_2p7" x="94.36" y="504.07"/>
<use href="#m7a1ee6_2p7" x="72.48" y="512.1"/>
<use href="#m7a1ee6_2p7" x="65.47" y="513.71"/>
<use href="#m7a1ee6_2p7" x="132.67" y="493.89"/>
<use href="#m7a1ee6_2p7" x="108.24" y="503.43"/>
<use href="#m7a1ee6_2p7" x="83.93" y="510.46"/>
<use href="#m7a1ee6_2p7" x="64.07" y="518.41"/>
<use href="#m7a1ee6_2p7" x="98.4" y="506.74"/>
<use href="#m7a1ee6_2p7" x="51.81" y="525"/>
<use href="#m7a1ee6_2p7" x="54.32" y="522.08"/>
<use href="#m7a1ee6_2p7" x="136.62" y="487.33"/>
<use href="#m7a1ee6_2p7" x="66.27" y="514.67"/>
<use href="#m7a1ee6_2p7" x="74.31" y="509.03"/>
<use href="#m7a1ee6_2p7" x="131.06" y="494.01"/>
<use href="#m7a1ee6_2p7" x="81.53" y="508.3"/>
<use href="#m7a1ee6_2p7" x="100.26" y="501.37"/>
<use href="#m7a1ee6_2p7" x="45.1" y="529.34"/>
<use href="#m7a1ee6_2p7" x="72.63" y="512.67"/>
<use href="#m7a1ee6_2p7" x="134.93" y="492.73"/>
<use href="#m7a1ee6_2p7" x="89.03" y="505.32"/>
<use href="#m7a1ee6_2p7" x="71.39" y="515.96"/>
<use href="#m7a1ee6_2p7" x="131.23" y="490.9"/>
<use href="#m7a1ee6_2p7" x="125.37" y="494.53"/>
<use href="#m7a1ee6_2p7" x="89.01" y="505.11"/>
<use href="#m7a1ee6_2p7" x="129.53" y="495.72"/>
<use href="#m7a1ee6_2p7" x="62.1" y="518.71"/>
<use href="#m7a1ee6_2p7" x="61.06" y="520.63"/>
<use href="#m7a1ee6_2p7" x="46.98" y="522.74"/>
<use href="#m7a1ee6_2p7" x="114.21" y="498.43"/>
<use href="#m7a1ee6_2p7" x="131.58" y="494.01"/>
<use href="#m7a1ee6_2p7" x="112.96" y="497.83"/>
<use href="#m7a1ee6_2p7" x="111.25" y="502.87"/>
<use href="#m7a1ee6_2p7" x="86.29" y="505.27"/>
<use href="#m7a1ee6_2p7" x="64.21" y="515.77"/>
<use href="#m7a1ee6_2p7" x="112.7" y="498.26"/>
<use href="#m7a1ee6_2p7" x="60.01" y="517.51"/>
<use href="#m7a1ee6_2p7" x="108.13" y="503.04"/>
<use href="#m7a1ee6_2p7" x="79.07" y="510.97"/>
<use href="#m7a1ee6_2p7" x="130" y="493.45"/>
<use href="#m7a1ee6_2p7" x="64.79" y="515.44"/>
<use href="#m7a1ee6_2p7" x="134.21" y="491.67"/>
<use href="#m7a1ee6_2p7" x="69.55" y="515.09"/>
<use href="#m7a1ee6_2p7" x="50.95" y="526.71"/>
<use href="#m7a1ee6_2p7" x="85.81" y="508.18"/>
<use href="#m7a1ee6_2p7" x="94.82" y="502.82"/>
<use href="#m7a1ee6_2p7" x="101.67" y="502.26"/>
<use href="#m7a1ee6_2p7" x="66.96" y="517.34"/>
<use href="#m7a1ee6_2p7" x="50.67" y="522.24"/>
<use href="#m7a1ee6_2p7" x="117.19" y="497.11"/>
<use href="#m7a1ee6_2p7" x="69.77" y="514.41"/>
<use href="#m7a1ee6_2p7" x="60.54" y="520.96"/>
<use href="#m7a1ee6_2p7" x="140.28" y="485.42"/>
<use href="#m7a1ee6_2p7" x="87.93" y="508.95"/>
<use href="#m7a1ee6_2p7" x="80.28" y="512.35"/>
<use href="#m7a1ee6_2p7" x="91.74" y="504.43"/>
<use href="#m7a1ee6_2p7" x="97.32" y="505.59"/>
<use href="#m7a1ee6_2p7" x="77.78" y="511.32"/>
<use href="#m7a1ee6_2p7" x="119.91" y="497.76"/>
<use href="#m7a1ee6_2p7" x="92.31" y="508.22"/>
<use href="#m7a1ee6_2p7" x="110.08" y="500.91"/>
<use href="#m7a1ee6_2p7" x="136.68" y="487.94"/>
<use href="#m7a1ee6_2p7" x="119.58" y="495.9"/>
<use href="#m7a1ee6_2p7" x="102.5" y="501.72"/>
<use href="#m7a1ee6_2p7" x="85.82" y="509.7"/>
<use href="#m7a1ee6_2p7" x="120.26" y="499.18"/>
<use href="#m7a1ee6_2p7" x="65.48" y="516.2"/>
<use href="#m7a1ee6_2p7" x="64.01" y="517.46"/>
<use href="#m7a1ee6_2p7" x="91.65" y="503.59"/>
<use href="#m7a1ee6_2p7" x="101.38" y="504.76"/>
<use href="#m7a1ee6_2p7" x="98.98" y="506.39"/>
<use href="#m7a1ee6_2p7" x="59.91" y="517.09"/>
<use href="#m7a1ee6_2p7" x="43.77" y="527.09"/>
<use href="#m7a1ee6_2p7" x="85.25" y="507.81"/>
<use href="#m7a1ee6_2p7" x="68.16" y="516.73"/>
<use href="#m7a1ee6_2p7" x="49.22" y="527.16"/>
<use href="#m7a1ee6_2p7" x="98.61" y="504.64"/>
<use href="#m7a1ee6_2p7" x="120.76" y="495.93"/>
<use href="#m7a1ee6_2p7" x="56.55" y="519.59"/>
<use href="#m7a1ee6_2p7" x="46.21" y="524.57"/>
<use href="#m7a1ee6_2p7" x="103.81" y="502.93"/>
<use href="#m7a1ee6_2p7" x="68.34" y="515.37"/>
<use href="#m7a1ee6_2p7" x="50.8" y="525.72"/>
<use href="#m7a1ee6_2p7" x="59.07" y="518.06"/>
<use href="#m7a1ee6_2p7" x="57.9" y="521.16"/>
<use href="#m7a1ee6_2p7" x="124.68" y="497.21"/>
<use href="#m7a1ee6_2p7" x="48.08" y="524.34"/>
<use href="#m7a1ee6_2p7" x="78.26" y="508.29"/>
<use href="#m7a1ee6_2p7" x="138.57" y="486.39"/>
<use href="#m7a1ee6_2p7" x="90.71" y="508.19"/>
<use href="#m7a1ee6_2p7" x="140.13" y="485.71"/>
<use href="#m7a1ee6_2p7" x="87.3" y="509.09"/>
<use href="#m7a1ee6_2p7" x="45.9" y="524.19"/>
<use href="#m7a1ee6_2p7" x="130.56" y="490.95"/>
<use href="#m7a1ee6_2p7" x="81.1" y="508.05"/>
<use href="#m7a1ee6_2p7" x="84.23" y="505.79"/>
<use href="#m7a1ee6_2p7" x="45.41" y="529.88"/>
<use href="#m7a1ee6_2p7" x="117.95" y="499.6"/>
<use href="#m7a1ee6_2p7" x="64.87" y="515.11"/>
<use href="#m7a1ee6_2p7" x="96.91" y="503.39"/>
<use href="#m7a1ee6_2p7" x="87.93" y="510.06"/>
<use href="#m7a1ee6_2p7" x="78.22" y="509.09"/>
<use href="#m7a1ee6_2p7" x="139.63" y="486.99"/>
<use href="#m7a1ee6_2p7" x="45.95" y="525.33"/>
<use href="#m7a1ee6_2p7" x="106.65" y="499.41"/>
<use href="#m7a1ee6_2p7" x="76.15" y="512.2"/>
<use href="#m7a1ee6_2p7" x="128.01" y="494.46"/>
<use href="#m7a1ee6_2p7" x="130.19" y="492.72"/>
<use href="#m7a1ee6_2p7" x="81.1" y="511.55"/>
<use href="#m7a1ee6_2p7" x="79.92" y="511.5"/>
<use href="#m7a1ee6_2p7" x="63.43" y="516.4"/>
<use href="#m7a1ee6_2p7" x="60.27" y="519.14"/>
<use href="#m7a1ee6_2p7" x="58.3" y="518.13"/>
<use href="#m7a1ee6_2p7" x="63.34" y="517.14"/>
<use href="#m7a1ee6_2p7" x="72.7" y="512.31"/>
<use href="#m7a1ee6_2p7" x="140.84" y="486.05"/>
<use href="#m7a1ee6_2p7" x="61.6" y="530"/>
<use href="#m7a1ee6_2p7" x="53" y="535"/>
<use href="#m7a1ee6_2p7" x="47" y="539.5"/>
<line x1="141.5" y1="484.8" x2="141.5" y2="433" stroke="#7a1ee6" stroke-width="0.9" />
<use href="#m7a1ee6_2p7" x="141" y="433"/>
<use href="#m7a1ee6_2p7" x="144" y="435"/>
<use href="#m7a1ee6_2p7" x="146" y="439"/>
<use href="#m7a1ee6_2p7" x="148" y="441"/>
<use href="#m7a1ee6_2p7" x="151" y="427"/>
<use href="#m7a1ee6_2p7" x="152" y="432"/>
<use href="#m7a1ee6_2p7" x="149" y="437"/>
<use href="#m7a1ee6_2p7" x="153" y="440"/>
<use href="#m7a1ee6_2p7" x="143" y="430"/>
<use href="#m7a1ee6_2p7" x="150" y="434"/>
<use href="#m7a1ee6_2p7" x="147" y="436"/>
<use href="#mf48a1a_2p7" x="109.9" y="486.56"/>
<use href="#mf48a1a_2p7" x="66.58" y="506.27"/>
<use href="#mf48a1a_2p7" x="94.43" y="496.38"/>
<use href="#mf48a1a_2p7" x="56.79" y="509.16"/>
<use href="#mf48a1a_2p7" x="48.44" y="517.84"/>
<use href="#mf48a1a_2p7" x="67.48" y="513.81"/>
<use href="#mf48a1a_2p7" x="96.58" y="494.96"/>
<use href="#mf48a1a_2p7" x="64.61" y="507.8"/>
<use href="#mf48a1a_2p7" x="116.58" y="482.38"/>
<use href="#mf48a1a_2p7" x="101.14" y="494.66"/>
<use href="#mf48a1a_2p7" x="113.91" y="483.51"/>
<use href="#mf48a1a_2p7" x="61.08" y="511.84"/>
<use href="#mf48a1a_2p7" x="39.51" y="529.65"/>
<use href="#mf48a1a_2p7" x="61.37" y="516.18"/>
<use href="#mf48a1a_2p7" x="78.89" y="501.68"/>
<use href="#mf48a1a_2p7" x="67.58" y="507.44"/>
<use href="#mf48a1a_2p7" x="35.69" y="512.42"/>
<use href="#mf48a1a_2p7" x="85.76" y="498.56"/>
<use href="#mf48a1a_2p7" x="60.2" y="512.73"/>
<use href="#mf48a1a_2p7" x="81.12" y="501.15"/>
<use href="#mf48a1a_2p7" x="95.81" y="495.27"/>
<use href="#mf48a1a_2p7" x="97.51" y="496.42"/>
<use href="#mf48a1a_2p7" x="45.29" y="518.28"/>
<use href="#mf48a1a_2p7" x="57.32" y="519.03"/>
<use href="#mf48a1a_2p7" x="68.6" y="508.32"/>
<use href="#mf48a1a_2p7" x="110.2" y="486.42"/>
<use href="#mf48a1a_2p7" x="58.37" y="512.97"/>
<use href="#mf48a1a_2p7" x="51.48" y="511.63"/>
<use href="#mf48a1a_2p7" x="34.21" y="518.19"/>
<use href="#mf48a1a_2p7" x="83.1" y="503.86"/>
<use href="#mf48a1a_2p7" x="120.1" y="479.88"/>
<use href="#mf48a1a_2p7" x="92.55" y="499.97"/>
<use href="#mf48a1a_2p7" x="51.52" y="524.41"/>
<use href="#mf48a1a_2p7" x="92.19" y="500.31"/>
<use href="#mf48a1a_2p7" x="110.41" y="486.3"/>
<use href="#mf48a1a_2p7" x="89.12" y="497.39"/>
<use href="#mf48a1a_2p7" x="70.62" y="507.42"/>
<use href="#mf48a1a_2p7" x="37.43" y="517.7"/>
<use href="#mf48a1a_2p7" x="61.63" y="512.88"/>
<use href="#mf48a1a_2p7" x="57.27" y="511.01"/>
<use href="#mf48a1a_2p7" x="68.34" y="509.24"/>
<use href="#mf48a1a_2p7" x="47.05" y="528.25"/>
<use href="#mf48a1a_2p7" x="53.65" y="511.68"/>
<use href="#mf48a1a_2p7" x="62.87" y="511.42"/>
<use href="#mf48a1a_2p7" x="45.62" y="527.57"/>
<use href="#mf48a1a_2p7" x="95.33" y="496.89"/>
<use href="#mf48a1a_2p7" x="95.23" y="494.39"/>
<use href="#mf48a1a_2p7" x="67.34" y="508.71"/>
<use href="#mf48a1a_2p7" x="37.68" y="518.32"/>
<use href="#mf48a1a_2p7" x="36.93" y="519.16"/>
<use href="#mf48a1a_2p7" x="84.91" y="501.23"/>
<use href="#mf48a1a_2p7" x="61.4" y="510.18"/>
<use href="#mf48a1a_2p7" x="34.12" y="514.12"/>
<use href="#mf48a1a_2p7" x="112.53" y="485.67"/>
<use href="#mf48a1a_2p7" x="55.65" y="519.99"/>
<use href="#mf48a1a_2p7" x="48.8" y="522.22"/>
<use href="#mf48a1a_2p7" x="87.56" y="502.52"/>
<use href="#mf48a1a_2p7" x="64.75" y="512.09"/>
<use href="#mf48a1a_2p7" x="117.1" y="482.65"/>
<use href="#mf48a1a_2p7" x="88.65" y="500.3"/>
<use href="#mf48a1a_2p7" x="69.11" y="508.33"/>
<use href="#mf48a1a_2p7" x="56.94" y="521.15"/>
<use href="#mf48a1a_2p7" x="111.44" y="485.99"/>
<use href="#mf48a1a_2p7" x="114.14" y="483.4"/>
<use href="#mf48a1a_2p7" x="44.27" y="525.66"/>
<use href="#mf48a1a_2p7" x="59.87" y="512.15"/>
<use href="#mf48a1a_2p7" x="120.22" y="479.65"/>
<use href="#mf48a1a_2p7" x="49.38" y="516.54"/>
<use href="#mf48a1a_2p7" x="93.42" y="496.21"/>
<use href="#mf48a1a_2p7" x="32.08" y="514.6"/>
<use href="#mf48a1a_2p7" x="67.57" y="507.45"/>
<use href="#mf48a1a_2p7" x="76.57" y="506.09"/>
<use href="#mf48a1a_2p7" x="81.5" y="503.62"/>
<use href="#mf48a1a_2p7" x="82.64" y="504.2"/>
<use href="#mf48a1a_2p7" x="119.48" y="480.34"/>
<use href="#mf48a1a_2p7" x="63.3" y="516.24"/>
<use href="#mf48a1a_2p7" x="60.3" y="516.19"/>
<use href="#mf48a1a_2p7" x="94.79" y="497.78"/>
<use href="#mf48a1a_2p7" x="119.04" y="481.22"/>
<use href="#mf48a1a_2p7" x="46.4" y="527.82"/>
<use href="#mf48a1a_2p7" x="76.31" y="505.73"/>
<use href="#mf48a1a_2p7" x="65.37" y="508.83"/>
<use href="#mf48a1a_2p7" x="99.63" y="494.83"/>
<use href="#mf48a1a_2p7" x="53.4" y="514.62"/>
<use href="#mf48a1a_2p7" x="61.35" y="509.32"/>
<use href="#mf48a1a_2p7" x="78.39" y="502.29"/>
<use href="#mf48a1a_2p7" x="37.71" y="512.29"/>
<use href="#mf48a1a_2p7" x="41.23" y="527.83"/>
<use href="#mf48a1a_2p7" x="42.18" y="522.93"/>
<use href="#mf48a1a_2p7" x="101.72" y="493.18"/>
<use href="#mf48a1a_2p7" x="46.68" y="533.45"/>
<use href="#mf48a1a_2p7" x="110.55" y="485.72"/>
<use href="#mf48a1a_2p7" x="54.93" y="518.02"/>
<use href="#mf48a1a_2p7" x="103.92" y="491.27"/>
<use href="#mf48a1a_2p7" x="96.65" y="494.85"/>
<use href="#mf48a1a_2p7" x="96.63" y="495.22"/>
<use href="#mf48a1a_2p7" x="62.15" y="515.57"/>
<use href="#mf48a1a_2p7" x="108.1" y="489.72"/>
<use href="#mf48a1a_2p7" x="83.24" y="501.73"/>
<use href="#mf48a1a_2p7" x="95.84" y="496.99"/>
<use href="#mf48a1a_2p7" x="107.04" y="490.45"/>
<use href="#mf48a1a_2p7" x="43.31" y="521.87"/>
<use href="#mf48a1a_2p7" x="92.44" y="496.62"/>
<use href="#mf48a1a_2p7" x="48.67" y="512.16"/>
<use href="#mf48a1a_2p7" x="84.87" y="503.72"/>
<use href="#mf48a1a_2p7" x="119.63" y="480.02"/>
<use href="#mf48a1a_2p7" x="94.09" y="496.81"/>
<use href="#mf48a1a_2p7" x="89.02" y="498.99"/>
<use href="#mf48a1a_2p7" x="116.28" y="483.64"/>
<use href="#mf48a1a_2p7" x="36.4" y="522.2"/>
<use href="#mf48a1a_2p7" x="42.69" y="513.73"/>
<use href="#mf48a1a_2p7" x="57.83" y="518.77"/>
<use href="#mf48a1a_2p7" x="121.72" y="478.65"/>
<use href="#mf48a1a_2p7" x="61.8" y="507.42"/>
<use href="#mf48a1a_2p7" x="80.99" y="503.08"/>
<use href="#mf48a1a_2p7" x="65.72" y="508.91"/>
<use href="#mf48a1a_2p7" x="104.28" y="492.72"/>
<use href="#mf48a1a_2p7" x="57.62" y="514.15"/>
<use href="#mf48a1a_2p7" x="87.78" y="501.44"/>
<use href="#mf48a1a_2p7" x="120.58" y="479.63"/>
<use href="#mf48a1a_2p7" x="94.67" y="497.15"/>
<use href="#mf48a1a_2p7" x="104.26" y="490.09"/>
<use href="#mf48a1a_2p7" x="47.81" y="514.64"/>
<use href="#mf48a1a_2p7" x="116.3" y="482.39"/>
<use href="#mf48a1a_2p7" x="76.09" y="503.21"/>
<use href="#mf48a1a_2p7" x="61.23" y="507.53"/>
<use href="#mf48a1a_2p7" x="83.1" y="500.31"/>
<use href="#mf48a1a_2p7" x="88.46" y="498.61"/>
<use href="#mf48a1a_2p7" x="52.55" y="519.5"/>
<use href="#mf48a1a_2p7" x="65.04" y="508.71"/>
<use href="#mf48a1a_2p7" x="36.63" y="511.59"/>
<use href="#mf48a1a_2p7" x="112.61" y="485.01"/>
<use href="#mf48a1a_2p7" x="39.08" y="515.31"/>
<use href="#mf48a1a_2p7" x="75.65" y="508.73"/>
<use href="#mf48a1a_2p7" x="50.26" y="529.37"/>
<use href="#mf48a1a_2p7" x="75.73" y="505.13"/>
<use href="#mf48a1a_2p7" x="104.87" y="490.62"/>
<use href="#mf48a1a_2p7" x="37.21" y="520.41"/>
<use href="#mf48a1a_2p7" x="91.32" y="499.08"/>
<use href="#mf48a1a_2p7" x="57.02" y="522.67"/>
<use href="#mf48a1a_2p7" x="110.07" y="488.65"/>
<use href="#mf48a1a_2p7" x="72.02" y="510.07"/>
<use href="#mf48a1a_2p7" x="97.46" y="494.13"/>
<use href="#mf48a1a_2p7" x="34.42" y="511.83"/>
<use href="#mf48a1a_2p7" x="42.73" y="514.49"/>
<use href="#mf48a1a_2p7" x="64.41" y="514.12"/>
<use href="#mf48a1a_2p7" x="59.99" y="513.93"/>
<use href="#mf48a1a_2p7" x="32.95" y="511.33"/>
<use href="#mf48a1a_2p7" x="118.62" y="480.52"/>
<use href="#mf48a1a_2p7" x="79.61" y="505.51"/>
<use href="#mf48a1a_2p7" x="103.54" y="492.89"/>
<use href="#mf48a1a_2p7" x="68.05" y="512.34"/>
<use href="#mf48a1a_2p7" x="106.74" y="490.57"/>
<use href="#mf48a1a_2p7" x="121.03" y="479.08"/>
<use href="#mf48a1a_2p7" x="117.82" y="481.58"/>
<use href="#mf48a1a_2p7" x="95.69" y="495.28"/>
<use href="#mf48a1a_2p7" x="114.14" y="483.37"/>
<use href="#mf48a1a_2p7" x="84.09" y="500.32"/>
<use href="#mf48a1a_2p7" x="67.07" y="508.88"/>
<use href="#mf48a1a_2p7" x="91.32" y="500.01"/>
<use href="#mf48a1a_2p7" x="64.93" y="512.62"/>
<use href="#mf48a1a_2p7" x="63.97" y="509.37"/>
<use href="#mf48a1a_2p7" x="113.73" y="484.26"/>
<use href="#mf48a1a_2p7" x="40.5" y="519.37"/>
<use href="#mf48a1a_2p7" x="98.97" y="493.63"/>
<use href="#mf48a1a_2p7" x="99.11" y="495.12"/>
<use href="#mf48a1a_2p7" x="93.42" y="495.93"/>
<use href="#mf48a1a_2p7" x="41.56" y="515.68"/>
<use href="#mf48a1a_2p7" x="63.64" y="511.14"/>
<use href="#mf48a1a_2p7" x="32.85" y="514.94"/>
<use href="#mf48a1a_2p7" x="68.42" y="507.83"/>
<use href="#mf48a1a_2p7" x="80.5" y="505.86"/>
<use href="#mf48a1a_2p7" x="50.48" y="529.38"/>
<use href="#mf48a1a_2p7" x="60.98" y="516.23"/>
<use href="#mf48a1a_2p7" x="41.78" y="534.66"/>
<use href="#mf48a1a_2p7" x="70.84" y="511.85"/>
<use href="#mf48a1a_2p7" x="51.83" y="518.63"/>
<use href="#mf48a1a_2p7" x="95.76" y="494.9"/>
<use href="#mf48a1a_2p7" x="56.69" y="519.13"/>
<use href="#mf48a1a_2p7" x="117.58" y="481.63"/>
<use href="#mf48a1a_2p7" x="48.56" y="519.89"/>
<use href="#mf48a1a_2p7" x="121.35" y="478.91"/>
<use href="#mf48a1a_2p7" x="89.32" y="498.76"/>
<use href="#mf48a1a_2p7" x="90.14" y="497.55"/>
<use href="#mf48a1a_2p7" x="87.65" y="502.13"/>
<use href="#mf48a1a_2p7" x="109.33" y="488.18"/>
<use href="#mf48a1a_2p7" x="77.59" y="505.11"/>
<use href="#mf48a1a_2p7" x="42.31" y="531.85"/>
<use href="#mf48a1a_2p7" x="94.29" y="496.88"/>
<use href="#mf48a1a_2p7" x="92.09" y="497.71"/>
<use href="#mf48a1a_2p7" x="66.73" y="507.71"/>
<use href="#mf48a1a_2p7" x="86.24" y="501.16"/>
<use href="#mf48a1a_2p7" x="78.53" y="501.71"/>
<use href="#mf48a1a_2p7" x="88.65" y="499.41"/>
<use href="#mf48a1a_2p7" x="85.58" y="501.58"/>
<use href="#mf48a1a_2p7" x="116.12" y="482.34"/>
<use href="#mf48a1a_2p7" x="74.32" y="509.64"/>
<use href="#mf48a1a_2p7" x="98.64" y="494.25"/>
<use href="#mf48a1a_2p7" x="98.53" y="497.45"/>
<use href="#mf48a1a_2p7" x="68.31" y="512.75"/>
<use href="#mf48a1a_2p7" x="43.44" y="536.69"/>
<use href="#mf48a1a_2p7" x="76.34" y="503.78"/>
<use href="#mf48a1a_2p7" x="107.87" y="489.33"/>
<use href="#mf48a1a_2p7" x="116.67" y="483.07"/>
<use href="#mf48a1a_2p7" x="104.03" y="491.65"/>
<use href="#mf48a1a_2p7" x="121.73" y="478.6"/>
<use href="#mf48a1a_2p7" x="110.57" y="487.49"/>
<use href="#mf48a1a_2p7" x="54.64" y="523.33"/>
<use href="#mf48a1a_2p7" x="73" y="507.32"/>
<use href="#mf48a1a_2p7" x="110.16" y="486.37"/>
<use href="#mf48a1a_2p7" x="57.25" y="518.09"/>
<use href="#mf48a1a_2p7" x="38.64" y="522.11"/>
<use href="#mf48a1a_2p7" x="103.08" y="492.25"/>
<use href="#mf48a1a_2p7" x="53.84" y="524.08"/>
<use href="#mf48a1a_2p7" x="109.21" y="488.69"/>
<use href="#mf48a1a_2p7" x="81.6" y="505.09"/>
<use href="#mf48a1a_2p7" x="103.95" y="490.31"/>
<use href="#mf48a1a_2p7" x="65.04" y="507.09"/>
<use href="#mf48a1a_2p7" x="35.32" y="515.17"/>
<use href="#mf48a1a_2p7" x="110.1" y="488.19"/>
<use href="#mf48a1a_2p7" x="42.6" y="516.94"/>
<use href="#mf48a1a_2p7" x="67.09" y="513.38"/>
<use href="#mf48a1a_2p7" x="87.72" y="502.17"/>
<use href="#mf48a1a_2p7" x="38.49" y="530.12"/>
<use href="#mf48a1a_2p7" x="50.67" y="524.02"/>
<use href="#mf48a1a_2p7" x="111.15" y="487.09"/>
<use href="#mf48a1a_2p7" x="49.79" y="525.67"/>
<use href="#mf48a1a_2p7" x="70.9" y="504.3"/>
<use href="#mf48a1a_2p7" x="62.66" y="510.33"/>
<use href="#mf48a1a_2p7" x="88.86" y="498.46"/>
<use href="#mf48a1a_2p7" x="86.46" y="501.69"/>
<use href="#mf48a1a_2p7" x="48.31" y="514.88"/>
<use href="#mf48a1a_2p7" x="94.65" y="496.78"/>
<use href="#mf48a1a_2p7" x="43.66" y="515.75"/>
<use href="#mf48a1a_2p7" x="116.98" y="482.49"/>
<use href="#mf48a1a_2p7" x="64.29" y="508.37"/>
<use href="#mf48a1a_2p7" x="121.83" y="478.97"/>
<use href="#mf48a1a_2p7" x="98.48" y="494.54"/>
<use href="#mf48a1a_2p7" x="60.02" y="512.63"/>
<use href="#mf48a1a_2p7" x="45.21" y="529.16"/>
<use href="#mf48a1a_2p7" x="70.35" y="511.03"/>
<use href="#mf48a1a_2p7" x="68.93" y="508.78"/>
<use href="#mf48a1a_2p7" x="77.74" y="507.12"/>
<use href="#mf48a1a_2p7" x="63.28" y="514.27"/>
<use href="#mf48a1a_2p7" x="53.23" y="520.72"/>
<use href="#mf48a1a_2p7" x="57.72" y="520.88"/>
<use href="#mf48a1a_2p7" x="57.87" y="520.46"/>
<use href="#mf48a1a_2p7" x="93.1" y="497.43"/>
<use href="#mf48a1a_2p7" x="116.31" y="482.61"/>
<use href="#mf48a1a_2p7" x="99.12" y="495.37"/>
<use href="#mf48a1a_2p7" x="72.49" y="504.13"/>
<use href="#mf48a1a_2p7" x="69.84" y="506.86"/>
<use href="#mf48a1a_2p7" x="71.81" y="511.12"/>
<use href="#mf48a1a_2p7" x="58.45" y="517.64"/>
<use href="#mf48a1a_2p7" x="92.69" y="496.58"/>
<use href="#mf48a1a_2p7" x="69.16" y="505.87"/>
<use href="#mf48a1a_2p7" x="112.85" y="484.71"/>
<use href="#mf48a1a_2p7" x="69.98" y="507.3"/>
<use href="#mf48a1a_2p7" x="106.09" y="491.36"/>
<use href="#mf48a1a_2p7" x="85.34" y="501.43"/>
<use href="#mf48a1a_2p7" x="40.98" y="531.74"/>
<use href="#mf48a1a_2p7" x="39.98" y="519.67"/>
<use href="#mf48a1a_2p7" x="65.82" y="512.96"/>
<use href="#mf48a1a_2p7" x="92.43" y="497.19"/>
<use href="#mf48a1a_2p7" x="113.08" y="486.13"/>
<use href="#mf48a1a_2p7" x="34.1" y="518.09"/>
<use href="#mf48a1a_2p7" x="74.37" y="505.44"/>
<use href="#mf48a1a_2p7" x="73.98" y="505.31"/>
<use href="#mf48a1a_2p7" x="92.58" y="498.41"/>
<use href="#mf48a1a_2p7" x="119.63" y="480.93"/>
<use href="#mf48a1a_2p7" x="121.63" y="478.9"/>
<use href="#mf48a1a_2p7" x="106.83" y="490.11"/>
<use href="#mf48a1a_2p7" x="95.3" y="499.03"/>
<use href="#mf48a1a_2p7" x="38.01" y="519.69"/>
<use href="#mf48a1a_2p7" x="68.24" y="510.91"/>
<use href="#mf48a1a_2p7" x="51.69" y="530.12"/>
<use href="#mf48a1a_2p7" x="50.91" y="518.53"/>
<use href="#mf48a1a_2p7" x="44.91" y="523.25"/>
<use href="#mf48a1a_2p7" x="98.99" y="493.03"/>
<use href="#mf48a1a_2p7" x="47.07" y="527.85"/>
<use href="#mf48a1a_2p7" x="88.26" y="501.1"/>
<use href="#mf48a1a_2p7" x="54.88" y="523.13"/>
<use href="#mf48a1a_2p7" x="98" y="496.71"/>
<use href="#mf48a1a_2p7" x="42.81" y="523.73"/>
<use href="#mf48a1a_2p7" x="33.43" y="520.27"/>
<use href="#mf48a1a_2p7" x="117.29" y="482.69"/>
<use href="#mf48a1a_2p7" x="34.18" y="514.23"/>
<use href="#mf48a1a_2p7" x="80.39" y="503.64"/>
<use href="#mf48a1a_2p7" x="42.04" y="530.48"/>
<use href="#mf48a1a_2p7" x="59.23" y="514.47"/>
<use href="#mf48a1a_2p7" x="43.25" y="526.39"/>
<use href="#mf48a1a_2p7" x="43.71" y="515.09"/>
<use href="#mf48a1a_2p7" x="78.25" y="503.29"/>
<use href="#mf48a1a_2p7" x="102.21" y="491.85"/>
<use href="#mf48a1a_2p7" x="69.38" y="505.13"/>
<use href="#mf48a1a_2p7" x="51.65" y="519.62"/>
<use href="#mf48a1a_2p7" x="82.4" y="502.32"/>
<use href="#mf48a1a_2p7" x="108.82" y="486.98"/>
<use href="#mf48a1a_2p7" x="108.76" y="487.17"/>
<use href="#mf48a1a_2p7" x="119.62" y="480.45"/>
<use href="#mf48a1a_2p7" x="68.7" y="510.26"/>
<use href="#mf48a1a_2p7" x="110.01" y="488.62"/>
<use href="#mf48a1a_2p7" x="69.33" y="504.77"/>
<use href="#mf48a1a_2p7" x="45.88" y="533.18"/>
<use href="#mf48a1a_2p7" x="98.32" y="496.26"/>
<use href="#mf48a1a_2p7" x="46.14" y="525.84"/>
<use href="#mf48a1a_2p7" x="34.58" y="511.09"/>
<use href="#mf48a1a_2p7" x="59.16" y="520.43"/>
<use href="#mf48a1a_2p7" x="90.07" y="500.78"/>
<use href="#mf48a1a_2p7" x="36.16" y="517.06"/>
<use href="#mf48a1a_2p7" x="39.08" y="516.84"/>
<use href="#mf48a1a_2p7" x="42.09" y="533.47"/>
<use href="#mf48a1a_2p7" x="61.69" y="512.75"/>
<use href="#mf48a1a_2p7" x="91.06" y="500.51"/>
<use href="#mf48a1a_2p7" x="117.46" y="482.07"/>
<use href="#mf48a1a_2p7" x="77.24" y="507.15"/>
<use href="#mf48a1a_2p7" x="67.62" y="507.99"/>
<use href="#mf48a1a_2p7" x="98.76" y="493.94"/>
<use href="#mf48a1a_2p7" x="65.22" y="510.35"/>
<use href="#mf48a1a_2p7" x="75.06" y="505.1"/>
<use href="#mf48a1a_2p7" x="70.87" y="507.76"/>
<use href="#mf48a1a_2p7" x="36.48" y="524.34"/>
<use href="#mf48a1a_2p7" x="37.57" y="520.42"/>
<use href="#mf48a1a_2p7" x="81.44" y="502.43"/>
<use href="#mf48a1a_2p7" x="52.11" y="512.5"/>
<use href="#mf48a1a_2p7" x="65.59" y="509.03"/>
<use href="#mf48a1a_2p7" x="75.71" y="504.02"/>
<use href="#mf48a1a_2p7" x="99.68" y="494.59"/>
<use href="#mf48a1a_2p7" x="32.81" y="513.69"/>
<use href="#mf48a1a_2p7" x="119.26" y="480.12"/>
<use href="#mf48a1a_2p7" x="85.58" y="503.49"/>
<use href="#mf48a1a_2p7" x="65.02" y="512.17"/>
<use href="#mf48a1a_2p7" x="65.31" y="509.01"/>
<use href="#mf48a1a_2p7" x="87.01" y="500.89"/>
<use href="#mf48a1a_2p7" x="60.46" y="513.49"/>
<use href="#mf48a1a_2p7" x="78.61" y="505.67"/>
<use href="#mf48a1a_2p7" x="36.79" y="512.17"/>
<use href="#mf48a1a_2p7" x="54.75" y="514.17"/>
<use href="#mf48a1a_2p7" x="103.85" y="491.45"/>
<use href="#mf48a1a_2p7" x="109.66" y="487.29"/>
<use href="#mf48a1a_2p7" x="44" y="545"/>
<use href="#mf48a1a_2p7" x="48" y="541"/>
<line x1="122.3" y1="478.8" x2="122.3" y2="433" stroke="#f4b070" stroke-width="0.9" />
<use href="#mf48a1a_2p7" x="122" y="433"/>
<use href="#mf48a1a_2p7" x="125" y="433"/>
<use href="#mf48a1a_2p7" x="127" y="434"/>
<use href="#mf48a1a_2p7" x="129" y="440"/>
<use href="#mf48a1a_2p7" x="124" y="437"/>
<use href="#mf48a1a_2p7" x="126" y="445"/>
<use href="#mf48a1a_2p7" x="133" y="444"/>
<use href="#mf48a1a_2p7" x="130" y="450"/>
<use href="#mf48a1a_2p7" x="128" y="438"/>
<use href="#mf48a1a_2p7" x="123" y="436"/>
<use href="#mf48a1a_2p7" x="127" y="442"/>
</g>
<rect x="31.5" y="404.4" width="182.3" height="151.8" fill="none" stroke="#3b3333" stroke-width="1.2" />
<line x1="31.5" y1="416.9" x2="34.5" y2="416.9" stroke="#3b3333" stroke-width="1.2" />
<text x="28.8" y="421.7" font-size="10.2" text-anchor="end" fill="#222">10<tspan font-size="6" dy="-3.2">-1</tspan></text>
<line x1="31.5" y1="451.8" x2="34.5" y2="451.8" stroke="#3b3333" stroke-width="1.2" />
<text x="28.8" y="456.6" font-size="10.2" text-anchor="end" fill="#222">10<tspan font-size="6" dy="-3.2">-3</tspan></text>
<line x1="31.5" y1="486.7" x2="34.5" y2="486.7" stroke="#3b3333" stroke-width="1.2" />
<text x="28.8" y="491.5" font-size="10.2" text-anchor="end" fill="#222">10<tspan font-size="6" dy="-3.2">-5</tspan></text>
<line x1="31.5" y1="521.6" x2="34.5" y2="521.6" stroke="#3b3333" stroke-width="1.2" />
<text x="28.8" y="526.4" font-size="10.2" text-anchor="end" fill="#222">10<tspan font-size="6" dy="-3.2">-7</tspan></text>
<line x1="31.5" y1="556.5" x2="34.5" y2="556.5" stroke="#3b3333" stroke-width="1.2" />
<text x="28.8" y="559.1" font-size="10.2" text-anchor="end" fill="#222">10<tspan font-size="6" dy="-3.2">-9</tspan></text>
<line x1="31.5" y1="551.25" x2="33.8" y2="551.25" stroke="#3b3333" stroke-width="1" />
<line x1="31.5" y1="548.17" x2="33.8" y2="548.17" stroke="#3b3333" stroke-width="1" />
<line x1="31.5" y1="545.99" x2="33.8" y2="545.99" stroke="#3b3333" stroke-width="1" />
<line x1="31.5" y1="544.3" x2="33.8" y2="544.3" stroke="#3b3333" stroke-width="1" />
<line x1="31.5" y1="542.92" x2="33.8" y2="542.92" stroke="#3b3333" stroke-width="1" />
<line x1="31.5" y1="541.75" x2="33.8" y2="541.75" stroke="#3b3333" stroke-width="1" />
<line x1="31.5" y1="540.74" x2="33.8" y2="540.74" stroke="#3b3333" stroke-width="1" />
<line x1="31.5" y1="539.85" x2="33.8" y2="539.85" stroke="#3b3333" stroke-width="1" />
<line x1="31.5" y1="533.8" x2="33.8" y2="533.8" stroke="#3b3333" stroke-width="1" />
<line x1="31.5" y1="530.72" x2="33.8" y2="530.72" stroke="#3b3333" stroke-width="1" />
<line x1="31.5" y1="528.54" x2="33.8" y2="528.54" stroke="#3b3333" stroke-width="1" />
<line x1="31.5" y1="526.85" x2="33.8" y2="526.85" stroke="#3b3333" stroke-width="1" />
<line x1="31.5" y1="525.47" x2="33.8" y2="525.47" stroke="#3b3333" stroke-width="1" />
<line x1="31.5" y1="524.3" x2="33.8" y2="524.3" stroke="#3b3333" stroke-width="1" />
<line x1="31.5" y1="523.29" x2="33.8" y2="523.29" stroke="#3b3333" stroke-width="1" />
<line x1="31.5" y1="522.4" x2="33.8" y2="522.4" stroke="#3b3333" stroke-width="1" />
<line x1="31.5" y1="516.35" x2="33.8" y2="516.35" stroke="#3b3333" stroke-width="1" />
<line x1="31.5" y1="513.27" x2="33.8" y2="513.27" stroke="#3b3333" stroke-width="1" />
<line x1="31.5" y1="511.09" x2="33.8" y2="511.09" stroke="#3b3333" stroke-width="1" />
<line x1="31.5" y1="509.4" x2="33.8" y2="509.4" stroke="#3b3333" stroke-width="1" />
<line x1="31.5" y1="508.02" x2="33.8" y2="508.02" stroke="#3b3333" stroke-width="1" />
<line x1="31.5" y1="506.85" x2="33.8" y2="506.85" stroke="#3b3333" stroke-width="1" />
<line x1="31.5" y1="505.84" x2="33.8" y2="505.84" stroke="#3b3333" stroke-width="1" />
<line x1="31.5" y1="504.95" x2="33.8" y2="504.95" stroke="#3b3333" stroke-width="1" />
<line x1="31.5" y1="498.9" x2="33.8" y2="498.9" stroke="#3b3333" stroke-width="1" />
<line x1="31.5" y1="495.82" x2="33.8" y2="495.82" stroke="#3b3333" stroke-width="1" />
<line x1="31.5" y1="493.64" x2="33.8" y2="493.64" stroke="#3b3333" stroke-width="1" />
<line x1="31.5" y1="491.95" x2="33.8" y2="491.95" stroke="#3b3333" stroke-width="1" />
<line x1="31.5" y1="490.57" x2="33.8" y2="490.57" stroke="#3b3333" stroke-width="1" />
<line x1="31.5" y1="489.4" x2="33.8" y2="489.4" stroke="#3b3333" stroke-width="1" />
<line x1="31.5" y1="488.39" x2="33.8" y2="488.39" stroke="#3b3333" stroke-width="1" />
<line x1="31.5" y1="487.5" x2="33.8" y2="487.5" stroke="#3b3333" stroke-width="1" />
<line x1="31.5" y1="481.45" x2="33.8" y2="481.45" stroke="#3b3333" stroke-width="1" />
<line x1="31.5" y1="478.37" x2="33.8" y2="478.37" stroke="#3b3333" stroke-width="1" />
<line x1="31.5" y1="476.19" x2="33.8" y2="476.19" stroke="#3b3333" stroke-width="1" />
<line x1="31.5" y1="474.5" x2="33.8" y2="474.5" stroke="#3b3333" stroke-width="1" />
<line x1="31.5" y1="473.12" x2="33.8" y2="473.12" stroke="#3b3333" stroke-width="1" />
<line x1="31.5" y1="471.95" x2="33.8" y2="471.95" stroke="#3b3333" stroke-width="1" />
<line x1="31.5" y1="470.94" x2="33.8" y2="470.94" stroke="#3b3333" stroke-width="1" />
<line x1="31.5" y1="470.05" x2="33.8" y2="470.05" stroke="#3b3333" stroke-width="1" />
<line x1="31.5" y1="464" x2="33.8" y2="464" stroke="#3b3333" stroke-width="1" />
<line x1="31.5" y1="460.92" x2="33.8" y2="460.92" stroke="#3b3333" stroke-width="1" />
<line x1="31.5" y1="458.74" x2="33.8" y2="458.74" stroke="#3b3333" stroke-width="1" />
<line x1="31.5" y1="457.05" x2="33.8" y2="457.05" stroke="#3b3333" stroke-width="1" />
<line x1="31.5" y1="455.67" x2="33.8" y2="455.67" stroke="#3b3333" stroke-width="1" />
<line x1="31.5" y1="454.5" x2="33.8" y2="454.5" stroke="#3b3333" stroke-width="1" />
<line x1="31.5" y1="453.49" x2="33.8" y2="453.49" stroke="#3b3333" stroke-width="1" />
<line x1="31.5" y1="452.6" x2="33.8" y2="452.6" stroke="#3b3333" stroke-width="1" />
<line x1="31.5" y1="446.55" x2="33.8" y2="446.55" stroke="#3b3333" stroke-width="1" />
<line x1="31.5" y1="443.47" x2="33.8" y2="443.47" stroke="#3b3333" stroke-width="1" />
<line x1="31.5" y1="441.29" x2="33.8" y2="441.29" stroke="#3b3333" stroke-width="1" />
<line x1="31.5" y1="439.6" x2="33.8" y2="439.6" stroke="#3b3333" stroke-width="1" />
<line x1="31.5" y1="438.22" x2="33.8" y2="438.22" stroke="#3b3333" stroke-width="1" />
<line x1="31.5" y1="437.05" x2="33.8" y2="437.05" stroke="#3b3333" stroke-width="1" />
<line x1="31.5" y1="436.04" x2="33.8" y2="436.04" stroke="#3b3333" stroke-width="1" />
<line x1="31.5" y1="435.15" x2="33.8" y2="435.15" stroke="#3b3333" stroke-width="1" />
<line x1="31.5" y1="429.1" x2="33.8" y2="429.1" stroke="#3b3333" stroke-width="1" />
<line x1="31.5" y1="426.02" x2="33.8" y2="426.02" stroke="#3b3333" stroke-width="1" />
<line x1="31.5" y1="423.84" x2="33.8" y2="423.84" stroke="#3b3333" stroke-width="1" />
<line x1="31.5" y1="422.15" x2="33.8" y2="422.15" stroke="#3b3333" stroke-width="1" />
<line x1="31.5" y1="420.77" x2="33.8" y2="420.77" stroke="#3b3333" stroke-width="1" />
<line x1="31.5" y1="419.6" x2="33.8" y2="419.6" stroke="#3b3333" stroke-width="1" />
<line x1="31.5" y1="418.59" x2="33.8" y2="418.59" stroke="#3b3333" stroke-width="1" />
<line x1="31.5" y1="417.7" x2="33.8" y2="417.7" stroke="#3b3333" stroke-width="1" />
<line x1="31.5" y1="411.65" x2="33.8" y2="411.65" stroke="#3b3333" stroke-width="1" />
<line x1="31.5" y1="408.57" x2="33.8" y2="408.57" stroke="#3b3333" stroke-width="1" />
<line x1="31.5" y1="406.39" x2="33.8" y2="406.39" stroke="#3b3333" stroke-width="1" />
<line x1="31.5" y1="404.7" x2="33.8" y2="404.7" stroke="#3b3333" stroke-width="1" />
<line x1="31.5" y1="434.35" x2="33.7" y2="434.35" stroke="#3b3333" stroke-width="1.2" />
<line x1="31.5" y1="469.25" x2="33.7" y2="469.25" stroke="#3b3333" stroke-width="1.2" />
<line x1="31.5" y1="504.15" x2="33.7" y2="504.15" stroke="#3b3333" stroke-width="1.2" />
<line x1="31.5" y1="539.05" x2="33.7" y2="539.05" stroke="#3b3333" stroke-width="1.2" />
<line x1="31.5" y1="556.2" x2="31.5" y2="553.2" stroke="#3b3333" stroke-width="1.2" />
<text x="31.5" y="568.4" font-size="10.2" text-anchor="middle" fill="#161616" >0</text>
<line x1="77" y1="556.2" x2="77" y2="553.2" stroke="#3b3333" stroke-width="1.2" />
<text x="77" y="568.4" font-size="10.2" text-anchor="middle" fill="#161616" >5</text>
<line x1="122.5" y1="556.2" x2="122.5" y2="553.2" stroke="#3b3333" stroke-width="1.2" />
<text x="122.5" y="568.4" font-size="10.2" text-anchor="middle" fill="#161616" >10</text>
<line x1="168" y1="556.2" x2="168" y2="553.2" stroke="#3b3333" stroke-width="1.2" />
<text x="168" y="568.4" font-size="10.2" text-anchor="middle" fill="#161616" >15</text>
<line x1="213.5" y1="556.2" x2="213.5" y2="553.2" stroke="#3b3333" stroke-width="1.2" />
<text x="213.5" y="568.4" font-size="10.2" text-anchor="middle" fill="#161616" >20</text>
<line x1="54.25" y1="556.2" x2="54.25" y2="554.4" stroke="#3b3333" stroke-width="1.2" />
<line x1="99.75" y1="556.2" x2="99.75" y2="554.4" stroke="#3b3333" stroke-width="1.2" />
<line x1="145.25" y1="556.2" x2="145.25" y2="554.4" stroke="#3b3333" stroke-width="1.2" />
<line x1="190.75" y1="556.2" x2="190.75" y2="554.4" stroke="#3b3333" stroke-width="1.2" />
<text transform="translate(7.2 486.5) rotate(-90)" font-size="10.6" text-anchor="middle" fill="#222">Current density (A cm<tspan font-size="7" dy="-4">-2</tspan><tspan dy="4">)</tspan></text>
<text x="122" y="580.8" font-size="11.5" text-anchor="middle" fill="#161616" >Voltage (V)</text>
<line x1="45.4" y1="417.6" x2="62.5" y2="417.6" stroke="#7a1ee6" stroke-width="1" />
<use href="#m7a1ee6_2p9" x="53.9" y="417.6"/>
<text x="67.6" y="421.2" font-size="10" text-anchor="start" fill="#161616" >300 K</text>
<line x1="45.4" y1="434.1" x2="62.5" y2="434.1" stroke="#f48a1a" stroke-width="1" />
<use href="#mf48a1a_2p9" x="53.9" y="434.1"/>
<text x="67.6" y="437.7" font-size="10" text-anchor="start" fill="#161616" >400 K</text>
<line x1="45.4" y1="450.6" x2="62.5" y2="450.6" stroke="#22c4c4" stroke-width="1" />
<use href="#m22c4c4_2p9" x="53.9" y="450.6"/>
<text x="67.6" y="454.2" font-size="10" text-anchor="start" fill="#161616" >500 K</text>
<rect x="149.5" y="482.9" width="58" height="47.5" fill="#d39191" stroke="none" stroke-width="1" />
<path d="M161.5 500 L193.2 491 L195 511.5 L183 524.4 L171.8 516.7 L163 510 Z" fill="#a48ac8" stroke="none" stroke-width="1" opacity="0.9"/>
<rect x="166.2" y="482.9" width="3.6" height="47.5" fill="#f8e4a8" stroke="none" stroke-width="1" />
<rect x="175.7" y="482.9" width="3.6" height="47.5" fill="#f8e4a8" stroke="none" stroke-width="1" />
<rect x="184.9" y="482.9" width="3.6" height="47.5" fill="#f8e4a8" stroke="none" stroke-width="1" />
<circle cx="168" cy="507.3" r="3" fill="none" stroke="#e020e0" stroke-width="0.8" stroke-dasharray="1 0.8"/>
<circle cx="177.5" cy="507.3" r="3" fill="none" stroke="#e020e0" stroke-width="0.8" stroke-dasharray="1 0.8"/>
<circle cx="186.7" cy="507.3" r="3" fill="none" stroke="#e020e0" stroke-width="0.8" stroke-dasharray="1 0.8"/>
<rect x="195.8" y="527" width="9.4" height="1.8" fill="#fff" stroke="none" stroke-width="1" />
<rect x="152.1" y="461" width="57.8" height="9.8" fill="#e832e8" stroke="none" stroke-width="1" />
<text x="181" y="468.8" font-size="7.3" text-anchor="middle" fill="#111" >Bottom electrode</text>
<line x1="177.5" y1="482" x2="177.5" y2="475" stroke="#e832e8" stroke-width="0.9" />
<path d="M177.5 472.5 L175.6 476.5 L179.4 476.5 Z" fill="#e832e8" stroke="none" stroke-width="1" />
<rect x="132.4" y="541.5" width="48.9" height="11.2" fill="#f23c1c" stroke="none" stroke-width="1" />
<text x="156.8" y="550.2" font-size="7.3" text-anchor="middle" fill="#111" >Top electrode</text>
<line x1="177.5" y1="530.4" x2="177.5" y2="537" stroke="#f23c1c" stroke-width="0.9" />
<path d="M177.5 539.5 L175.6 535.5 L179.4 535.5 Z" fill="#f23c1c" stroke="none" stroke-width="1" />
<rect x="109.8" y="510.7" width="39.4" height="11.6" fill="#3cd0f0" stroke="none" stroke-width="1" />
<text x="112" y="519" font-size="7.3" fill="#111">Sm<tspan font-size="5" dy="2">2</tspan><tspan dy="-2">O</tspan><tspan font-size="5" dy="2">2</tspan><tspan dy="-2">SO</tspan><tspan font-size="5" dy="2">4</tspan></text>
<line x1="165.8" y1="514.6" x2="154" y2="514.6" stroke="#5aa098" stroke-width="0.9" />
<path d="M151.3 514.6 L155 512.8 L155 516.4 Z" fill="#5aa098" stroke="none" stroke-width="1" />
<text x="239.5" y="412" font-size="15.3" text-anchor="start" fill="#111" >h</text>
<ellipse cx="296.6" cy="519.6" rx="28" ry="37" fill="#efe3d7" opacity="1" transform="rotate(-10 296.6 519.6)"/>
<ellipse cx="296" cy="477.5" rx="8.6" ry="10.5" fill="#dceac2" opacity="1" transform="rotate(0 296 477.5)"/>
<ellipse cx="338.1" cy="466.6" rx="14.2" ry="54" fill="#e3efe6" opacity="1" transform="rotate(0 338.1 466.6)"/>
<ellipse cx="343.4" cy="524.3" rx="8" ry="11.7" fill="#f6dcec" opacity="1" transform="rotate(0 343.4 524.3)"/>
<ellipse cx="359.4" cy="509" rx="8.8" ry="18.2" fill="#d4d4e8" opacity="1" transform="rotate(0 359.4 509)"/>
<ellipse cx="361.6" cy="543.3" rx="9" ry="13.5" fill="#ccf5cc" opacity="1" transform="rotate(0 361.6 543.3)"/>
<ellipse cx="392.9" cy="462.7" rx="28" ry="56" fill="#c6fcfc" opacity="1" transform="rotate(-20 392.9 462.7)"/>
<ellipse cx="451" cy="537.3" rx="51.7" ry="14" fill="#e6dbec" opacity="1" transform="rotate(0 451 537.3)"/>
<ellipse cx="433.3" cy="533.8" rx="9.6" ry="20" fill="#e0eedf" opacity="0.7" transform="rotate(0 433.3 533.8)"/>
<ellipse cx="454.7" cy="511.9" rx="9.1" ry="13.1" fill="#e4e4e4" opacity="1" transform="rotate(20 454.7 511.9)"/>
<ellipse cx="413" cy="483" rx="29" ry="17" fill="#f2c4c8" opacity="0.75" transform="rotate(32 413 483)"/>
<ellipse cx="427" cy="467.8" rx="21.5" ry="9.8" fill="#e8d2c0" opacity="0.75" transform="rotate(30 427 467.8)"/>
<ellipse cx="655" cy="532.6" rx="29.5" ry="10" fill="#f8c8f8" opacity="1" transform="rotate(36 655 532.6)"/>
<path d="M296 469 L300.76 472.45 L298.94 478.05 L293.06 478.05 L291.24 472.45 Z" fill="#8a8420" stroke="none" stroke-width="1" />
<path d="M296 475.5 L300.76 478.95 L298.94 484.55 L293.06 484.55 L291.24 478.95 Z" fill="#8a8420" stroke="none" stroke-width="1" />
<circle cx="295.9" cy="486.8" r="3.8" fill="#fff" stroke="#b0702a" stroke-width="0.8" /><path d="M292.1 486.8 A3.8 3.8 0 0 1 299.7 486.8 Z" fill="#b0702a" stroke="none" stroke-width="1" />
<circle cx="278" cy="534.3" r="3.8" fill="#fff" stroke="#b0702a" stroke-width="0.8" /><path d="M274.2 534.3 A3.8 3.8 0 0 1 281.8 534.3 Z" fill="#b0702a" stroke="none" stroke-width="1" />
<circle cx="308.7" cy="547.3" r="3.8" fill="#fff" stroke="#b0702a" stroke-width="0.8" /><path d="M304.9 547.3 A3.8 3.8 0 0 1 312.5 547.3 Z" fill="#b0702a" stroke="none" stroke-width="1" />
<path d="M336.9 419 L341.9 424 L336.9 429 L331.9 424 Z" fill="#0a800a" stroke="none" stroke-width="1" />
<path d="M338.2 505.2 L343.2 510.2 L338.2 515.2 L333.2 510.2 Z" fill="#0a800a" stroke="none" stroke-width="1" />
<path d="M343.4 513.7 L348.2 518.5 L343.4 523.3 L338.6 518.5 Z" fill="#fff" stroke="#c41c8c" stroke-width="0.8" /><path d="M343.4 513.7 L348.2 518.5 L338.6 518.5 Z" fill="#c41c8c" stroke="none" stroke-width="1" />
<path d="M343.4 522.6 L348.2 527.4 L343.4 532.2 L338.6 527.4 Z" fill="#fff" stroke="#c41c8c" stroke-width="0.8" /><path d="M343.4 522.6 L348.2 527.4 L338.6 527.4 Z" fill="#c41c8c" stroke="none" stroke-width="1" />
<path d="M354.8 501.7 L363.5 496.7 L363.5 506.7 Z" fill="#000090" stroke="none" stroke-width="1" />
<path d="M354.8 509.7 L363.5 504.7 L363.5 514.7 Z" fill="#000090" stroke="none" stroke-width="1" />
<path d="M354.8 517 L363.5 512 L363.5 522 Z" fill="#000090" stroke="none" stroke-width="1" />
<circle cx="361.6" cy="538.2" r="4.3" fill="#fff" stroke="#20c040" stroke-width="0.8" /><path d="M361.6 533.9 A4.3 4.3 0 0 1 361.6 542.5 Z" fill="#20c040" stroke="none" stroke-width="1" />
<circle cx="361.6" cy="549.1" r="4.3" fill="#fff" stroke="#20c040" stroke-width="0.8" /><path d="M361.6 544.8 A4.3 4.3 0 0 1 361.6 553.4 Z" fill="#20c040" stroke="none" stroke-width="1" />
<circle cx="379.2" cy="417.1" r="4.2" fill="#84f4fa" stroke="none" stroke-width="1" />
<circle cx="374" cy="460.2" r="4.2" fill="#84f4fa" stroke="none" stroke-width="1" />
<circle cx="374.9" cy="480.4" r="4.2" fill="#84f4fa" stroke="none" stroke-width="1" />
<circle cx="408.8" cy="508.2" r="4.2" fill="#84f4fa" stroke="none" stroke-width="1" />
<path d="M404 468 L406.22 473.94 L412.56 474.22 L407.59 478.17 L409.29 484.28 L404 480.78 L398.71 484.28 L400.41 478.17 L395.44 474.22 L401.78 473.94 Z" fill="#f02848" stroke="none" stroke-width="1" />
<path d="M413.4 476.6 L415.62 482.54 L421.96 482.82 L416.99 486.77 L418.69 492.88 L413.4 489.38 L408.11 492.88 L409.81 486.77 L404.84 482.82 L411.18 482.54 Z" fill="#f02848" stroke="none" stroke-width="1" />
<path d="M422.8 477.4 L425.02 483.34 L431.36 483.62 L426.39 487.57 L428.09 493.68 L422.8 490.18 L417.51 493.68 L419.21 487.57 L414.24 483.62 L420.58 483.34 Z" fill="#f02848" stroke="none" stroke-width="1" />
<path d="M398.3 492.4 L402.5 492.4 M398.3 492.4 L401.94 494.5 M398.3 492.4 L400.4 496.04 M398.3 492.4 L398.3 496.6 M398.3 492.4 L396.2 496.04 M398.3 492.4 L394.66 494.5 M398.3 492.4 L394.1 492.4 M398.3 492.4 L394.66 490.3 M398.3 492.4 L396.2 488.76 M398.3 492.4 L398.3 488.2 M398.3 492.4 L400.4 488.76 M398.3 492.4 L401.94 490.3" fill="none" stroke="#111" stroke-width="0.9" /><circle cx="398.3" cy="492.4" r="2.1" fill="#111" stroke="none" stroke-width="1" />
<path d="M418.5 458.05 L422.74 465.4 L414.26 465.4 Z" fill="#fff" stroke="#8c1010" stroke-width="0.8" /><path d="M418.5 458.05 L421.35 462.95 L415.65 462.95 Z" fill="#8c1010" stroke="none" stroke-width="1" />
<path d="M426 461.85 L430.24 469.2 L421.76 469.2 Z" fill="#fff" stroke="#8c1010" stroke-width="0.8" /><path d="M426 461.85 L428.85 466.75 L423.15 466.75 Z" fill="#8c1010" stroke="none" stroke-width="1" />
<path d="M432.5 469.55 L436.74 476.9 L428.26 476.9 Z" fill="#fff" stroke="#8c1010" stroke-width="0.8" /><path d="M432.5 469.55 L435.35 474.45 L429.65 474.45 Z" fill="#8c1010" stroke="none" stroke-width="1" />
<rect x="431.25" y="518.65" width="7.5" height="7.5" fill="#fff" stroke="#1a9898" stroke-width="0.8" /><rect x="431.25" y="518.65" width="7.5" height="3.75" fill="#1a9898" stroke="none" stroke-width="1" />
<rect x="431.25" y="527.45" width="7.5" height="7.5" fill="#fff" stroke="#1a9898" stroke-width="0.8" /><rect x="431.25" y="527.45" width="7.5" height="3.75" fill="#1a9898" stroke="none" stroke-width="1" />
<rect x="428.65" y="541.95" width="7.5" height="7.5" fill="#fff" stroke="#1a9898" stroke-width="0.8" /><rect x="428.65" y="541.95" width="7.5" height="3.75" fill="#1a9898" stroke="none" stroke-width="1" />
<rect x="453.5" y="505.5" width="7" height="7" fill="#000" stroke="none" stroke-width="1" />
<rect x="449" y="513.7" width="7" height="7" fill="#000" stroke="none" stroke-width="1" />
<path d="M416.9 534.7 L414.75 538.42 L410.45 538.42 L408.3 534.7 L410.45 530.98 L414.75 530.98 Z" fill="#82107e" stroke="none" stroke-width="1" />
<path d="M450.7 538.7 L448.55 542.42 L444.25 542.42 L442.1 538.7 L444.25 534.98 L448.55 534.98 Z" fill="#82107e" stroke="none" stroke-width="1" />
<path d="M493.6 539.6 L491.45 543.32 L487.15 543.32 L485 539.6 L487.15 535.88 L491.45 535.88 Z" fill="#82107e" stroke="none" stroke-width="1" />
<path d="M511 497 L520.2 497 L515.6 505.5 Z" fill="#70c8f0" stroke="none" stroke-width="1" />
<path d="M562.2 540.2 L567.24 543.86 L565.32 549.79 L559.08 549.79 L557.16 543.86 Z" fill="#f39208" stroke="none" stroke-width="1" />
<path d="M636.4 520.6 L646.4 520.6 L641.4 529.1 Z" fill="#f000f0" stroke="none" stroke-width="1" />
<path d="M667.1 540.5 L677.1 540.5 L672.1 549 Z" fill="#f000f0" stroke="none" stroke-width="1" />
<text x="442.6" y="490.8" font-size="11.6" text-anchor="start" fill="#f02828" >(This work)</text>
<rect x="264.7" y="406.8" width="415" height="150.5" fill="none" stroke="#3b3333" stroke-width="1.2" />
<line x1="264.7" y1="557.3" x2="267.7" y2="557.3" stroke="#3b3333" stroke-width="1.2" />
<text x="262.5" y="559" font-size="10.2" text-anchor="end" fill="#161616" >0</text>
<line x1="264.7" y1="507.1" x2="267.7" y2="507.1" stroke="#3b3333" stroke-width="1.2" />
<text x="262.5" y="513.4" font-size="10.2" text-anchor="end" fill="#161616" >10</text>
<line x1="264.7" y1="456.9" x2="267.7" y2="456.9" stroke="#3b3333" stroke-width="1.2" />
<text x="262.5" y="463.2" font-size="10.2" text-anchor="end" fill="#161616" >20</text>
<line x1="264.7" y1="406.7" x2="267.7" y2="406.7" stroke="#3b3333" stroke-width="1.2" />
<text x="262.5" y="413" font-size="10.2" text-anchor="end" fill="#161616" >30</text>
<line x1="264.7" y1="532.2" x2="266.5" y2="532.2" stroke="#3b3333" stroke-width="1.2" />
<line x1="264.7" y1="482" x2="266.5" y2="482" stroke="#3b3333" stroke-width="1.2" />
<line x1="264.7" y1="431.8" x2="266.5" y2="431.8" stroke="#3b3333" stroke-width="1.2" />
<line x1="264.2" y1="557.3" x2="264.2" y2="554.3" stroke="#3b3333" stroke-width="1.2" />
<text x="264.2" y="568.4" font-size="10.2" text-anchor="middle" fill="#161616" >0</text>
<line x1="430" y1="557.3" x2="430" y2="554.3" stroke="#3b3333" stroke-width="1.2" />
<text x="430" y="568.4" font-size="10.2" text-anchor="middle" fill="#161616" >20</text>
<line x1="595.8" y1="557.3" x2="595.8" y2="554.3" stroke="#3b3333" stroke-width="1.2" />
<text x="595.8" y="568.4" font-size="10.2" text-anchor="middle" fill="#161616" >40</text>
<line x1="347.1" y1="557.3" x2="347.1" y2="555.5" stroke="#3b3333" stroke-width="1.2" />
<line x1="512.9" y1="557.3" x2="512.9" y2="555.5" stroke="#3b3333" stroke-width="1.2" />
<line x1="678.7" y1="557.3" x2="678.7" y2="555.5" stroke="#3b3333" stroke-width="1.2" />
<text transform="translate(248 488.2) rotate(-90)" font-size="11" text-anchor="middle" fill="#222">Breakdown field (MV cm<tspan font-size="7" dy="-4">-1</tspan><tspan dy="4">)</tspan></text>
<text x="477" y="580.7" font-size="11.5" text-anchor="middle" fill="#161616" >Dielectric constant</text>
<text x="575.1" y="419.1" font-size="7.5" fill="#222"><tspan>SiO</tspan><tspan font-size="4.65" dy="2">2</tspan></text>
<text x="575.1" y="433.9" font-size="7.5" fill="#222"><tspan font-style="italic">h</tspan><tspan>-BN</tspan></text>
<text x="575.1" y="448.9" font-size="7.5" fill="#222"><tspan>CaF</tspan><tspan font-size="4.65" dy="2">2</tspan></text>
<text x="575.1" y="463.9" font-size="7.5" fill="#222"><tspan>Al</tspan><tspan font-size="4.65" dy="2">2</tspan><tspan dy="-2">O</tspan><tspan font-size="4.65" dy="2">3</tspan></text>
<text x="575.1" y="479.1" font-size="7.5" fill="#222"><tspan>HfO</tspan><tspan font-size="4.65" dy="2">x</tspan></text>
<text x="575.1" y="493.5" font-size="7.5" fill="#222"><tspan>Sb</tspan><tspan font-size="4.65" dy="2">2</tspan><tspan dy="-2">O</tspan><tspan font-size="4.65" dy="2">3</tspan></text>
<text x="575.1" y="507.4" font-size="7.5" fill="#222"><tspan>MgNb</tspan><tspan font-size="4.65" dy="2">2</tspan><tspan dy="-2">O</tspan><tspan font-size="4.65" dy="2">6</tspan></text>
<text x="575.1" y="521.4" font-size="7.5" fill="#222"><tspan>ZrO</tspan><tspan font-size="4.65" dy="2">2</tspan></text>
<text x="631" y="418.7" font-size="7.5" fill="#222"><tspan>HfO</tspan><tspan font-size="4.65" dy="2">2</tspan></text>
<text x="631" y="433.5" font-size="7.5" fill="#222"><tspan>Bi</tspan><tspan font-size="4.65" dy="2">2</tspan><tspan dy="-2">SiO</tspan><tspan font-size="4.65" dy="2">5</tspan></text>
<text x="631" y="448.3" font-size="7.5" fill="#222"><tspan>MoO</tspan><tspan font-size="4.65" dy="2">3</tspan></text>
<text x="631" y="463.4" font-size="7.5" fill="#222"><tspan>Bi</tspan><tspan font-size="4.65" dy="2">2</tspan><tspan dy="-2">SeO</tspan><tspan font-size="4.65" dy="2">5</tspan></text>
<text x="631" y="477.5" font-size="7.5" fill="#222"><tspan>SrTiO</tspan><tspan font-size="4.65" dy="2">3</tspan></text>
<text x="631" y="491.3" font-size="7.5" fill="#222"><tspan>CaNb</tspan><tspan font-size="4.65" dy="2">2</tspan><tspan dy="-2">O</tspan><tspan font-size="4.65" dy="2">6</tspan></text>
<text x="631" y="504.7" font-size="7.5" fill="#222"><tspan>Ga</tspan><tspan font-size="4.65" dy="2">2</tspan><tspan dy="-2">O</tspan><tspan font-size="4.65" dy="2">3</tspan></text>
<path d="M564.9 412.2 L568.89 415.1 L567.37 419.8 L562.43 419.8 L560.91 415.1 Z" fill="#8a8420" stroke="none" stroke-width="1" />
<circle cx="564.9" cy="431.2" r="3" fill="#fff" stroke="#b0702a" stroke-width="0.8" /><path d="M561.9 431.2 A3 3 0 0 1 567.9 431.2 Z" fill="#b0702a" stroke="none" stroke-width="1" />
<path d="M564.9 441.9 L569.2 446.2 L564.9 450.5 L560.6 446.2 Z" fill="#0a800a" stroke="none" stroke-width="1" />
<path d="M564.9 457.2 L568.9 461.2 L564.9 465.2 L560.9 461.2 Z" fill="#fff" stroke="#c41c8c" stroke-width="0.8" /><path d="M564.9 457.2 L568.9 461.2 L560.9 461.2 Z" fill="#c41c8c" stroke="none" stroke-width="1" />
<path d="M561.4 476.4 L567.9 472.6 L567.9 480.2 Z" fill="#000090" stroke="none" stroke-width="1" />
<circle cx="564.9" cy="490.8" r="3.5" fill="#fff" stroke="#20c040" stroke-width="0.8" /><path d="M564.9 487.3 A3.5 3.5 0 0 1 564.9 494.3 Z" fill="#20c040" stroke="none" stroke-width="1" />
<path d="M564.9 500.85 L569.13 508.2 L560.66 508.2 Z" fill="#fff" stroke="#8c1010" stroke-width="0.8" /><path d="M564.9 500.85 L567.75 505.75 L562.05 505.75 Z" fill="#8c1010" stroke="none" stroke-width="1" />
<path d="M568.7 518.7 L566.8 521.99 L563 521.99 L561.1 518.7 L563 515.41 L566.8 515.41 Z" fill="#82107e" stroke="none" stroke-width="1" />
<rect x="616.95" y="413.25" width="5.5" height="5.5" fill="#fff" stroke="#1a9898" stroke-width="0.8" /><rect x="616.95" y="413.25" width="5.5" height="2.75" fill="#1a9898" stroke="none" stroke-width="1" />
<rect x="616.7" y="427.8" width="6" height="6" fill="#000" stroke="none" stroke-width="1" />
<path d="M619.7 441.1 L623.98 444.21 L622.35 449.24 L617.05 449.24 L615.42 444.21 Z" fill="#f39208" stroke="none" stroke-width="1" />
<circle cx="619.7" cy="460.7" r="3.6" fill="#84f4fa" stroke="none" stroke-width="1" />
<path d="M615.7 471.3 L623.7 471.3 L619.7 478.3 Z" fill="#f000f0" stroke="none" stroke-width="1" />
<path d="M619.7 488.6 L623.1 488.6 M619.7 488.6 L622.64 490.3 M619.7 488.6 L621.4 491.54 M619.7 488.6 L619.7 492 M619.7 488.6 L618 491.54 M619.7 488.6 L616.76 490.3 M619.7 488.6 L616.3 488.6 M619.7 488.6 L616.76 486.9 M619.7 488.6 L618 485.66 M619.7 488.6 L619.7 485.2 M619.7 488.6 L621.4 485.66 M619.7 488.6 L622.64 486.9" fill="none" stroke="#111" stroke-width="0.9" /><circle cx="619.7" cy="488.6" r="1.7" fill="#111" stroke="none" stroke-width="1" />
<path d="M615.7 498.5 L623.7 498.5 L619.7 505.5 Z" fill="#70c8f0" stroke="none" stroke-width="1" />
</svg></body></html>
